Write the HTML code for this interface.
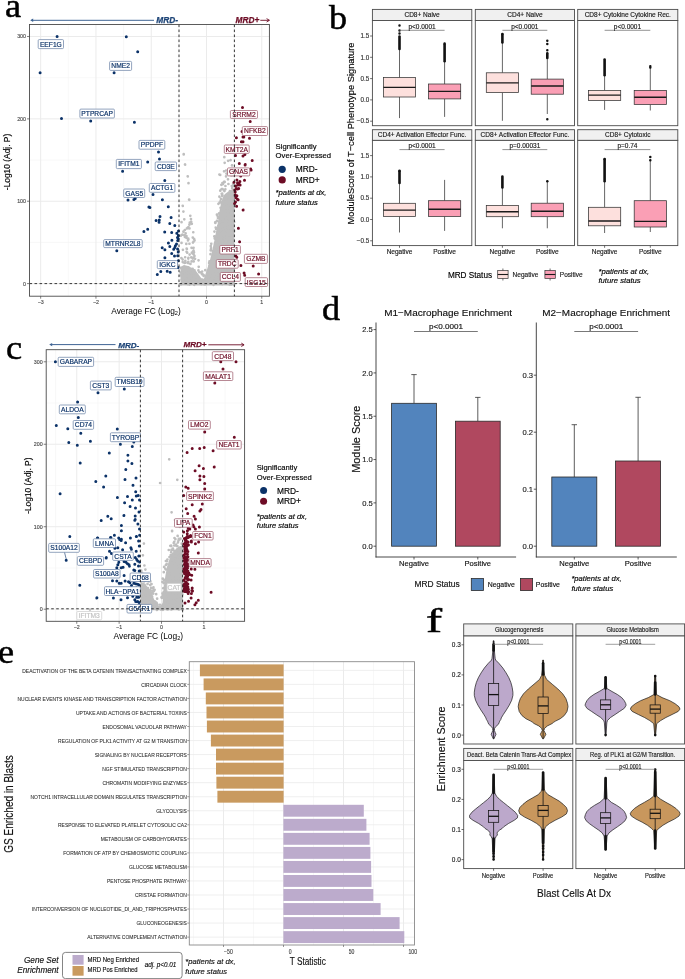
<!DOCTYPE html>
<html><head><meta charset="utf-8"><style>
html,body{margin:0;padding:0;background:#fff;}
body{width:685px;height:979px;overflow:hidden;}
svg{display:block;will-change:transform;font-family:"Liberation Sans", sans-serif;}
</style></head><body>
<svg width="685" height="979" viewBox="0 0 685 979">
<rect width="685" height="979" fill="#fff"/>
<rect x="29.5" y="24.5" width="239.9" height="271.7" fill="#fff" />
<line x1="68.3" y1="24.5" x2="68.3" y2="296.2" stroke="#f3f3f3" stroke-width="0.6" />
<line x1="123.58" y1="24.5" x2="123.58" y2="296.2" stroke="#f3f3f3" stroke-width="0.6" />
<line x1="178.86" y1="24.5" x2="178.86" y2="296.2" stroke="#f3f3f3" stroke-width="0.6" />
<line x1="234.14" y1="24.5" x2="234.14" y2="296.2" stroke="#f3f3f3" stroke-width="0.6" />
<line x1="29.5" y1="242.42" x2="269.4" y2="242.42" stroke="#f3f3f3" stroke-width="0.6" />
<line x1="29.5" y1="160.05" x2="269.4" y2="160.05" stroke="#f3f3f3" stroke-width="0.6" />
<line x1="29.5" y1="77.68" x2="269.4" y2="77.68" stroke="#f3f3f3" stroke-width="0.6" />
<line x1="40.66" y1="24.5" x2="40.66" y2="296.2" stroke="#ebebeb" stroke-width="1" />
<line x1="95.94" y1="24.5" x2="95.94" y2="296.2" stroke="#ebebeb" stroke-width="1" />
<line x1="151.22" y1="24.5" x2="151.22" y2="296.2" stroke="#ebebeb" stroke-width="1" />
<line x1="206.5" y1="24.5" x2="206.5" y2="296.2" stroke="#ebebeb" stroke-width="1" />
<line x1="261.78" y1="24.5" x2="261.78" y2="296.2" stroke="#ebebeb" stroke-width="1" />
<line x1="29.5" y1="283.6" x2="269.4" y2="283.6" stroke="#ebebeb" stroke-width="1" />
<line x1="29.5" y1="201.23" x2="269.4" y2="201.23" stroke="#ebebeb" stroke-width="1" />
<line x1="29.5" y1="118.86" x2="269.4" y2="118.86" stroke="#ebebeb" stroke-width="1" />
<line x1="29.5" y1="36.49" x2="269.4" y2="36.49" stroke="#ebebeb" stroke-width="1" />
<path fill="#bebebe" d="M180.5 285.5L180.5 267L184 265L188 266L192 268L196 271L199 275L201.5 278.5L203.5 280L205.5 274L207.5 268L209.5 262L211.5 254L213 247L214.5 240L216 232L217.5 225L218.5 218L219.5 211L221 204L222.5 198L225 194L229 191L234.4 189L234.4 285.5Z" />
<path fill="#bebebe" d="M217.08 203.81a1.35 1.35 0 1 0 2.7 0a1.35 1.35 0 1 0 -2.7 0M227.09 172.85a1.35 1.35 0 1 0 2.7 0a1.35 1.35 0 1 0 -2.7 0M220.23 278.31a1.35 1.35 0 1 0 2.7 0a1.35 1.35 0 1 0 -2.7 0M212.3 281.96a1.35 1.35 0 1 0 2.7 0a1.35 1.35 0 1 0 -2.7 0M228.18 194.07a1.35 1.35 0 1 0 2.7 0a1.35 1.35 0 1 0 -2.7 0M220.63 204.67a1.35 1.35 0 1 0 2.7 0a1.35 1.35 0 1 0 -2.7 0M218.79 215.01a1.35 1.35 0 1 0 2.7 0a1.35 1.35 0 1 0 -2.7 0M225.98 246.47a1.35 1.35 0 1 0 2.7 0a1.35 1.35 0 1 0 -2.7 0M224.7 176.45a1.35 1.35 0 1 0 2.7 0a1.35 1.35 0 1 0 -2.7 0M209.44 246a1.35 1.35 0 1 0 2.7 0a1.35 1.35 0 1 0 -2.7 0M231.15 217.68a1.35 1.35 0 1 0 2.7 0a1.35 1.35 0 1 0 -2.7 0M220.91 284.12a1.35 1.35 0 1 0 2.7 0a1.35 1.35 0 1 0 -2.7 0M225.08 173.56a1.35 1.35 0 1 0 2.7 0a1.35 1.35 0 1 0 -2.7 0M212.1 268.54a1.35 1.35 0 1 0 2.7 0a1.35 1.35 0 1 0 -2.7 0M226.83 267.59a1.35 1.35 0 1 0 2.7 0a1.35 1.35 0 1 0 -2.7 0M229.07 279.59a1.35 1.35 0 1 0 2.7 0a1.35 1.35 0 1 0 -2.7 0M218.92 190.63a1.35 1.35 0 1 0 2.7 0a1.35 1.35 0 1 0 -2.7 0M218.13 279a1.35 1.35 0 1 0 2.7 0a1.35 1.35 0 1 0 -2.7 0M216.38 236.05a1.35 1.35 0 1 0 2.7 0a1.35 1.35 0 1 0 -2.7 0M225.48 268.94a1.35 1.35 0 1 0 2.7 0a1.35 1.35 0 1 0 -2.7 0M227.85 284.12a1.35 1.35 0 1 0 2.7 0a1.35 1.35 0 1 0 -2.7 0M207.76 263.09a1.35 1.35 0 1 0 2.7 0a1.35 1.35 0 1 0 -2.7 0M216.82 282.25a1.35 1.35 0 1 0 2.7 0a1.35 1.35 0 1 0 -2.7 0M222.6 190.42a1.35 1.35 0 1 0 2.7 0a1.35 1.35 0 1 0 -2.7 0M216.97 256.72a1.35 1.35 0 1 0 2.7 0a1.35 1.35 0 1 0 -2.7 0M227.98 260.18a1.35 1.35 0 1 0 2.7 0a1.35 1.35 0 1 0 -2.7 0M224.1 186.02a1.35 1.35 0 1 0 2.7 0a1.35 1.35 0 1 0 -2.7 0M232.64 279.24a1.35 1.35 0 1 0 2.7 0a1.35 1.35 0 1 0 -2.7 0M220.12 272.24a1.35 1.35 0 1 0 2.7 0a1.35 1.35 0 1 0 -2.7 0M215.14 240.58a1.35 1.35 0 1 0 2.7 0a1.35 1.35 0 1 0 -2.7 0M229.95 257.13a1.35 1.35 0 1 0 2.7 0a1.35 1.35 0 1 0 -2.7 0M232.08 207.67a1.35 1.35 0 1 0 2.7 0a1.35 1.35 0 1 0 -2.7 0M231.22 249.77a1.35 1.35 0 1 0 2.7 0a1.35 1.35 0 1 0 -2.7 0M229.78 260.23a1.35 1.35 0 1 0 2.7 0a1.35 1.35 0 1 0 -2.7 0M227.08 282.48a1.35 1.35 0 1 0 2.7 0a1.35 1.35 0 1 0 -2.7 0M232.05 240.16a1.35 1.35 0 1 0 2.7 0a1.35 1.35 0 1 0 -2.7 0M227.07 184.01a1.35 1.35 0 1 0 2.7 0a1.35 1.35 0 1 0 -2.7 0M229.95 202.28a1.35 1.35 0 1 0 2.7 0a1.35 1.35 0 1 0 -2.7 0M218.72 272.75a1.35 1.35 0 1 0 2.7 0a1.35 1.35 0 1 0 -2.7 0M230.22 221.21a1.35 1.35 0 1 0 2.7 0a1.35 1.35 0 1 0 -2.7 0M223.6 228.23a1.35 1.35 0 1 0 2.7 0a1.35 1.35 0 1 0 -2.7 0M225.22 221.99a1.35 1.35 0 1 0 2.7 0a1.35 1.35 0 1 0 -2.7 0M224.79 273.8a1.35 1.35 0 1 0 2.7 0a1.35 1.35 0 1 0 -2.7 0M219.72 221.71a1.35 1.35 0 1 0 2.7 0a1.35 1.35 0 1 0 -2.7 0M222.48 214.9a1.35 1.35 0 1 0 2.7 0a1.35 1.35 0 1 0 -2.7 0M215.09 277.51a1.35 1.35 0 1 0 2.7 0a1.35 1.35 0 1 0 -2.7 0M228.8 277.6a1.35 1.35 0 1 0 2.7 0a1.35 1.35 0 1 0 -2.7 0M217.9 277.74a1.35 1.35 0 1 0 2.7 0a1.35 1.35 0 1 0 -2.7 0M232.7 263.55a1.35 1.35 0 1 0 2.7 0a1.35 1.35 0 1 0 -2.7 0M209.61 249.44a1.35 1.35 0 1 0 2.7 0a1.35 1.35 0 1 0 -2.7 0M217.71 213.38a1.35 1.35 0 1 0 2.7 0a1.35 1.35 0 1 0 -2.7 0M213.18 273.66a1.35 1.35 0 1 0 2.7 0a1.35 1.35 0 1 0 -2.7 0M230.27 230.04a1.35 1.35 0 1 0 2.7 0a1.35 1.35 0 1 0 -2.7 0M222.32 211.44a1.35 1.35 0 1 0 2.7 0a1.35 1.35 0 1 0 -2.7 0M217.68 275.61a1.35 1.35 0 1 0 2.7 0a1.35 1.35 0 1 0 -2.7 0M209.14 254.22a1.35 1.35 0 1 0 2.7 0a1.35 1.35 0 1 0 -2.7 0M223.87 227.53a1.35 1.35 0 1 0 2.7 0a1.35 1.35 0 1 0 -2.7 0M214.98 276.63a1.35 1.35 0 1 0 2.7 0a1.35 1.35 0 1 0 -2.7 0M226.82 212.32a1.35 1.35 0 1 0 2.7 0a1.35 1.35 0 1 0 -2.7 0M227.36 207.32a1.35 1.35 0 1 0 2.7 0a1.35 1.35 0 1 0 -2.7 0M222.31 282.75a1.35 1.35 0 1 0 2.7 0a1.35 1.35 0 1 0 -2.7 0M227.28 247.46a1.35 1.35 0 1 0 2.7 0a1.35 1.35 0 1 0 -2.7 0M228.6 242.83a1.35 1.35 0 1 0 2.7 0a1.35 1.35 0 1 0 -2.7 0M231.74 281.5a1.35 1.35 0 1 0 2.7 0a1.35 1.35 0 1 0 -2.7 0M207.06 280.61a1.35 1.35 0 1 0 2.7 0a1.35 1.35 0 1 0 -2.7 0M216.85 253.07a1.35 1.35 0 1 0 2.7 0a1.35 1.35 0 1 0 -2.7 0M223.28 269.52a1.35 1.35 0 1 0 2.7 0a1.35 1.35 0 1 0 -2.7 0M209.87 283.05a1.35 1.35 0 1 0 2.7 0a1.35 1.35 0 1 0 -2.7 0M223.56 239.33a1.35 1.35 0 1 0 2.7 0a1.35 1.35 0 1 0 -2.7 0M227.38 271.17a1.35 1.35 0 1 0 2.7 0a1.35 1.35 0 1 0 -2.7 0M223.89 260.96a1.35 1.35 0 1 0 2.7 0a1.35 1.35 0 1 0 -2.7 0M226.33 262.78a1.35 1.35 0 1 0 2.7 0a1.35 1.35 0 1 0 -2.7 0M229.36 244.41a1.35 1.35 0 1 0 2.7 0a1.35 1.35 0 1 0 -2.7 0M217.86 237.35a1.35 1.35 0 1 0 2.7 0a1.35 1.35 0 1 0 -2.7 0M222.06 219.63a1.35 1.35 0 1 0 2.7 0a1.35 1.35 0 1 0 -2.7 0M226.09 252.78a1.35 1.35 0 1 0 2.7 0a1.35 1.35 0 1 0 -2.7 0M217.06 241.39a1.35 1.35 0 1 0 2.7 0a1.35 1.35 0 1 0 -2.7 0M224 189.28a1.35 1.35 0 1 0 2.7 0a1.35 1.35 0 1 0 -2.7 0M232.22 220.23a1.35 1.35 0 1 0 2.7 0a1.35 1.35 0 1 0 -2.7 0M215.13 244.51a1.35 1.35 0 1 0 2.7 0a1.35 1.35 0 1 0 -2.7 0M219.87 239.27a1.35 1.35 0 1 0 2.7 0a1.35 1.35 0 1 0 -2.7 0M224.22 195.97a1.35 1.35 0 1 0 2.7 0a1.35 1.35 0 1 0 -2.7 0M222.46 243.49a1.35 1.35 0 1 0 2.7 0a1.35 1.35 0 1 0 -2.7 0M216.42 216.48a1.35 1.35 0 1 0 2.7 0a1.35 1.35 0 1 0 -2.7 0M205.5 282.2a1.35 1.35 0 1 0 2.7 0a1.35 1.35 0 1 0 -2.7 0M226.85 280.92a1.35 1.35 0 1 0 2.7 0a1.35 1.35 0 1 0 -2.7 0M216.15 270.52a1.35 1.35 0 1 0 2.7 0a1.35 1.35 0 1 0 -2.7 0M206.61 271.91a1.35 1.35 0 1 0 2.7 0a1.35 1.35 0 1 0 -2.7 0M215.56 214.7a1.35 1.35 0 1 0 2.7 0a1.35 1.35 0 1 0 -2.7 0M209.52 264.55a1.35 1.35 0 1 0 2.7 0a1.35 1.35 0 1 0 -2.7 0M224.48 264.41a1.35 1.35 0 1 0 2.7 0a1.35 1.35 0 1 0 -2.7 0M212.17 284.85a1.35 1.35 0 1 0 2.7 0a1.35 1.35 0 1 0 -2.7 0M208.48 276.76a1.35 1.35 0 1 0 2.7 0a1.35 1.35 0 1 0 -2.7 0M231.54 270.19a1.35 1.35 0 1 0 2.7 0a1.35 1.35 0 1 0 -2.7 0M220.35 273.92a1.35 1.35 0 1 0 2.7 0a1.35 1.35 0 1 0 -2.7 0M217.54 249.11a1.35 1.35 0 1 0 2.7 0a1.35 1.35 0 1 0 -2.7 0M220.82 193.63a1.35 1.35 0 1 0 2.7 0a1.35 1.35 0 1 0 -2.7 0M230.53 173.3a1.35 1.35 0 1 0 2.7 0a1.35 1.35 0 1 0 -2.7 0M224.07 281.97a1.35 1.35 0 1 0 2.7 0a1.35 1.35 0 1 0 -2.7 0M221.22 195.51a1.35 1.35 0 1 0 2.7 0a1.35 1.35 0 1 0 -2.7 0M229.82 220.63a1.35 1.35 0 1 0 2.7 0a1.35 1.35 0 1 0 -2.7 0M229.83 284.55a1.35 1.35 0 1 0 2.7 0a1.35 1.35 0 1 0 -2.7 0M229.17 252.96a1.35 1.35 0 1 0 2.7 0a1.35 1.35 0 1 0 -2.7 0M231.94 173.11a1.35 1.35 0 1 0 2.7 0a1.35 1.35 0 1 0 -2.7 0M220.31 267.45a1.35 1.35 0 1 0 2.7 0a1.35 1.35 0 1 0 -2.7 0M231.47 265.63a1.35 1.35 0 1 0 2.7 0a1.35 1.35 0 1 0 -2.7 0M223.06 271.65a1.35 1.35 0 1 0 2.7 0a1.35 1.35 0 1 0 -2.7 0M212.12 275.63a1.35 1.35 0 1 0 2.7 0a1.35 1.35 0 1 0 -2.7 0M228.08 281.45a1.35 1.35 0 1 0 2.7 0a1.35 1.35 0 1 0 -2.7 0M223.48 239.86a1.35 1.35 0 1 0 2.7 0a1.35 1.35 0 1 0 -2.7 0M214.38 227.59a1.35 1.35 0 1 0 2.7 0a1.35 1.35 0 1 0 -2.7 0M220.86 195.88a1.35 1.35 0 1 0 2.7 0a1.35 1.35 0 1 0 -2.7 0M222.68 171.35a1.35 1.35 0 1 0 2.7 0a1.35 1.35 0 1 0 -2.7 0M216.69 231.61a1.35 1.35 0 1 0 2.7 0a1.35 1.35 0 1 0 -2.7 0M214.5 279.74a1.35 1.35 0 1 0 2.7 0a1.35 1.35 0 1 0 -2.7 0M229.05 217.84a1.35 1.35 0 1 0 2.7 0a1.35 1.35 0 1 0 -2.7 0M207.15 279.96a1.35 1.35 0 1 0 2.7 0a1.35 1.35 0 1 0 -2.7 0M215.79 243.33a1.35 1.35 0 1 0 2.7 0a1.35 1.35 0 1 0 -2.7 0M230.48 186.03a1.35 1.35 0 1 0 2.7 0a1.35 1.35 0 1 0 -2.7 0M224.08 221.62a1.35 1.35 0 1 0 2.7 0a1.35 1.35 0 1 0 -2.7 0M221.54 278.44a1.35 1.35 0 1 0 2.7 0a1.35 1.35 0 1 0 -2.7 0M232.16 175.16a1.35 1.35 0 1 0 2.7 0a1.35 1.35 0 1 0 -2.7 0M229.55 270.1a1.35 1.35 0 1 0 2.7 0a1.35 1.35 0 1 0 -2.7 0M232.97 276.24a1.35 1.35 0 1 0 2.7 0a1.35 1.35 0 1 0 -2.7 0M205.03 276.79a1.35 1.35 0 1 0 2.7 0a1.35 1.35 0 1 0 -2.7 0M210.74 279.31a1.35 1.35 0 1 0 2.7 0a1.35 1.35 0 1 0 -2.7 0M231.82 183.55a1.35 1.35 0 1 0 2.7 0a1.35 1.35 0 1 0 -2.7 0M226.91 262.22a1.35 1.35 0 1 0 2.7 0a1.35 1.35 0 1 0 -2.7 0M211.47 274.7a1.35 1.35 0 1 0 2.7 0a1.35 1.35 0 1 0 -2.7 0M211.18 271.82a1.35 1.35 0 1 0 2.7 0a1.35 1.35 0 1 0 -2.7 0M212.78 260.91a1.35 1.35 0 1 0 2.7 0a1.35 1.35 0 1 0 -2.7 0M229.56 200.4a1.35 1.35 0 1 0 2.7 0a1.35 1.35 0 1 0 -2.7 0M231.59 235.97a1.35 1.35 0 1 0 2.7 0a1.35 1.35 0 1 0 -2.7 0M223.3 197.51a1.35 1.35 0 1 0 2.7 0a1.35 1.35 0 1 0 -2.7 0M215 279.47a1.35 1.35 0 1 0 2.7 0a1.35 1.35 0 1 0 -2.7 0M224.05 262.31a1.35 1.35 0 1 0 2.7 0a1.35 1.35 0 1 0 -2.7 0M219.54 198.96a1.35 1.35 0 1 0 2.7 0a1.35 1.35 0 1 0 -2.7 0M211.1 257.13a1.35 1.35 0 1 0 2.7 0a1.35 1.35 0 1 0 -2.7 0M209.86 282.47a1.35 1.35 0 1 0 2.7 0a1.35 1.35 0 1 0 -2.7 0M232.63 190.91a1.35 1.35 0 1 0 2.7 0a1.35 1.35 0 1 0 -2.7 0M223.07 214.21a1.35 1.35 0 1 0 2.7 0a1.35 1.35 0 1 0 -2.7 0M212.99 236.4a1.35 1.35 0 1 0 2.7 0a1.35 1.35 0 1 0 -2.7 0M224.38 265.41a1.35 1.35 0 1 0 2.7 0a1.35 1.35 0 1 0 -2.7 0M211.48 251.47a1.35 1.35 0 1 0 2.7 0a1.35 1.35 0 1 0 -2.7 0M203.92 270.17a1.35 1.35 0 1 0 2.7 0a1.35 1.35 0 1 0 -2.7 0M232.79 221.94a1.35 1.35 0 1 0 2.7 0a1.35 1.35 0 1 0 -2.7 0M211.45 267.86a1.35 1.35 0 1 0 2.7 0a1.35 1.35 0 1 0 -2.7 0M219.98 184.86a1.35 1.35 0 1 0 2.7 0a1.35 1.35 0 1 0 -2.7 0M221.07 183.04a1.35 1.35 0 1 0 2.7 0a1.35 1.35 0 1 0 -2.7 0M209.91 243.82a1.35 1.35 0 1 0 2.7 0a1.35 1.35 0 1 0 -2.7 0M226.01 227.15a1.35 1.35 0 1 0 2.7 0a1.35 1.35 0 1 0 -2.7 0M217.57 238.82a1.35 1.35 0 1 0 2.7 0a1.35 1.35 0 1 0 -2.7 0M209.23 279.01a1.35 1.35 0 1 0 2.7 0a1.35 1.35 0 1 0 -2.7 0M218.14 202.72a1.35 1.35 0 1 0 2.7 0a1.35 1.35 0 1 0 -2.7 0M228.38 284.57a1.35 1.35 0 1 0 2.7 0a1.35 1.35 0 1 0 -2.7 0M212.62 270a1.35 1.35 0 1 0 2.7 0a1.35 1.35 0 1 0 -2.7 0M216.58 275.46a1.35 1.35 0 1 0 2.7 0a1.35 1.35 0 1 0 -2.7 0M231.09 281.87a1.35 1.35 0 1 0 2.7 0a1.35 1.35 0 1 0 -2.7 0M211.99 272.74a1.35 1.35 0 1 0 2.7 0a1.35 1.35 0 1 0 -2.7 0M227.76 263.14a1.35 1.35 0 1 0 2.7 0a1.35 1.35 0 1 0 -2.7 0M223.59 271.85a1.35 1.35 0 1 0 2.7 0a1.35 1.35 0 1 0 -2.7 0M217.99 253.96a1.35 1.35 0 1 0 2.7 0a1.35 1.35 0 1 0 -2.7 0M217.57 237.26a1.35 1.35 0 1 0 2.7 0a1.35 1.35 0 1 0 -2.7 0M213.1 231.58a1.35 1.35 0 1 0 2.7 0a1.35 1.35 0 1 0 -2.7 0M221.31 214.19a1.35 1.35 0 1 0 2.7 0a1.35 1.35 0 1 0 -2.7 0M224.92 256.84a1.35 1.35 0 1 0 2.7 0a1.35 1.35 0 1 0 -2.7 0M213.85 222.3a1.35 1.35 0 1 0 2.7 0a1.35 1.35 0 1 0 -2.7 0M223.88 256.54a1.35 1.35 0 1 0 2.7 0a1.35 1.35 0 1 0 -2.7 0M211.65 278.71a1.35 1.35 0 1 0 2.7 0a1.35 1.35 0 1 0 -2.7 0M228.13 284.5a1.35 1.35 0 1 0 2.7 0a1.35 1.35 0 1 0 -2.7 0M215.57 279.45a1.35 1.35 0 1 0 2.7 0a1.35 1.35 0 1 0 -2.7 0M230.66 165.39a1.35 1.35 0 1 0 2.7 0a1.35 1.35 0 1 0 -2.7 0M208.11 261.4a1.35 1.35 0 1 0 2.7 0a1.35 1.35 0 1 0 -2.7 0M215.93 274.75a1.35 1.35 0 1 0 2.7 0a1.35 1.35 0 1 0 -2.7 0M202.25 284.1a1.35 1.35 0 1 0 2.7 0a1.35 1.35 0 1 0 -2.7 0M212.21 259.1a1.35 1.35 0 1 0 2.7 0a1.35 1.35 0 1 0 -2.7 0M232.72 230.9a1.35 1.35 0 1 0 2.7 0a1.35 1.35 0 1 0 -2.7 0M224.95 213.61a1.35 1.35 0 1 0 2.7 0a1.35 1.35 0 1 0 -2.7 0M232.5 231.99a1.35 1.35 0 1 0 2.7 0a1.35 1.35 0 1 0 -2.7 0M219.84 212.33a1.35 1.35 0 1 0 2.7 0a1.35 1.35 0 1 0 -2.7 0M229.46 173.9a1.35 1.35 0 1 0 2.7 0a1.35 1.35 0 1 0 -2.7 0M220.11 217.79a1.35 1.35 0 1 0 2.7 0a1.35 1.35 0 1 0 -2.7 0M230.87 188.18a1.35 1.35 0 1 0 2.7 0a1.35 1.35 0 1 0 -2.7 0M228.62 257.12a1.35 1.35 0 1 0 2.7 0a1.35 1.35 0 1 0 -2.7 0M220.84 228.98a1.35 1.35 0 1 0 2.7 0a1.35 1.35 0 1 0 -2.7 0M231.02 175.21a1.35 1.35 0 1 0 2.7 0a1.35 1.35 0 1 0 -2.7 0M219.57 221.89a1.35 1.35 0 1 0 2.7 0a1.35 1.35 0 1 0 -2.7 0M226.63 179.35a1.35 1.35 0 1 0 2.7 0a1.35 1.35 0 1 0 -2.7 0M229.24 257.22a1.35 1.35 0 1 0 2.7 0a1.35 1.35 0 1 0 -2.7 0M223.13 191.05a1.35 1.35 0 1 0 2.7 0a1.35 1.35 0 1 0 -2.7 0M213.65 257.92a1.35 1.35 0 1 0 2.7 0a1.35 1.35 0 1 0 -2.7 0M231.15 252.51a1.35 1.35 0 1 0 2.7 0a1.35 1.35 0 1 0 -2.7 0M228.93 199.05a1.35 1.35 0 1 0 2.7 0a1.35 1.35 0 1 0 -2.7 0M229.87 237.73a1.35 1.35 0 1 0 2.7 0a1.35 1.35 0 1 0 -2.7 0M221.53 282.31a1.35 1.35 0 1 0 2.7 0a1.35 1.35 0 1 0 -2.7 0M213.69 249.75a1.35 1.35 0 1 0 2.7 0a1.35 1.35 0 1 0 -2.7 0M229.98 175.51a1.35 1.35 0 1 0 2.7 0a1.35 1.35 0 1 0 -2.7 0M202.32 275.91a1.35 1.35 0 1 0 2.7 0a1.35 1.35 0 1 0 -2.7 0M220.46 246.22a1.35 1.35 0 1 0 2.7 0a1.35 1.35 0 1 0 -2.7 0M211.15 261.65a1.35 1.35 0 1 0 2.7 0a1.35 1.35 0 1 0 -2.7 0M230.11 277.87a1.35 1.35 0 1 0 2.7 0a1.35 1.35 0 1 0 -2.7 0M220.37 193.78a1.35 1.35 0 1 0 2.7 0a1.35 1.35 0 1 0 -2.7 0M223.27 204.11a1.35 1.35 0 1 0 2.7 0a1.35 1.35 0 1 0 -2.7 0M215.56 258.99a1.35 1.35 0 1 0 2.7 0a1.35 1.35 0 1 0 -2.7 0M222.71 220.78a1.35 1.35 0 1 0 2.7 0a1.35 1.35 0 1 0 -2.7 0M225.75 246.24a1.35 1.35 0 1 0 2.7 0a1.35 1.35 0 1 0 -2.7 0M220.25 202.52a1.35 1.35 0 1 0 2.7 0a1.35 1.35 0 1 0 -2.7 0M212.22 270.97a1.35 1.35 0 1 0 2.7 0a1.35 1.35 0 1 0 -2.7 0M229.21 160.22a1.35 1.35 0 1 0 2.7 0a1.35 1.35 0 1 0 -2.7 0M207.7 272.36a1.35 1.35 0 1 0 2.7 0a1.35 1.35 0 1 0 -2.7 0M211.7 270.15a1.35 1.35 0 1 0 2.7 0a1.35 1.35 0 1 0 -2.7 0M224.55 239.73a1.35 1.35 0 1 0 2.7 0a1.35 1.35 0 1 0 -2.7 0M227.65 241.75a1.35 1.35 0 1 0 2.7 0a1.35 1.35 0 1 0 -2.7 0M225.26 231.13a1.35 1.35 0 1 0 2.7 0a1.35 1.35 0 1 0 -2.7 0M214.54 270.3a1.35 1.35 0 1 0 2.7 0a1.35 1.35 0 1 0 -2.7 0M222.84 264.99a1.35 1.35 0 1 0 2.7 0a1.35 1.35 0 1 0 -2.7 0M205.16 281.82a1.35 1.35 0 1 0 2.7 0a1.35 1.35 0 1 0 -2.7 0M202.15 280.19a1.35 1.35 0 1 0 2.7 0a1.35 1.35 0 1 0 -2.7 0M211.87 282.93a1.35 1.35 0 1 0 2.7 0a1.35 1.35 0 1 0 -2.7 0M223.88 212.67a1.35 1.35 0 1 0 2.7 0a1.35 1.35 0 1 0 -2.7 0M225.86 245.76a1.35 1.35 0 1 0 2.7 0a1.35 1.35 0 1 0 -2.7 0M220.4 216.3a1.35 1.35 0 1 0 2.7 0a1.35 1.35 0 1 0 -2.7 0M229.89 212.04a1.35 1.35 0 1 0 2.7 0a1.35 1.35 0 1 0 -2.7 0M224.42 210.91a1.35 1.35 0 1 0 2.7 0a1.35 1.35 0 1 0 -2.7 0M223.49 269.65a1.35 1.35 0 1 0 2.7 0a1.35 1.35 0 1 0 -2.7 0M222.73 266.11a1.35 1.35 0 1 0 2.7 0a1.35 1.35 0 1 0 -2.7 0M220.72 215.1a1.35 1.35 0 1 0 2.7 0a1.35 1.35 0 1 0 -2.7 0M213.08 257.14a1.35 1.35 0 1 0 2.7 0a1.35 1.35 0 1 0 -2.7 0M220.31 189.01a1.35 1.35 0 1 0 2.7 0a1.35 1.35 0 1 0 -2.7 0M214.31 236.56a1.35 1.35 0 1 0 2.7 0a1.35 1.35 0 1 0 -2.7 0M221.88 276.07a1.35 1.35 0 1 0 2.7 0a1.35 1.35 0 1 0 -2.7 0M221.16 256.61a1.35 1.35 0 1 0 2.7 0a1.35 1.35 0 1 0 -2.7 0M215.5 281.75a1.35 1.35 0 1 0 2.7 0a1.35 1.35 0 1 0 -2.7 0M225.54 277.4a1.35 1.35 0 1 0 2.7 0a1.35 1.35 0 1 0 -2.7 0M217.26 248.81a1.35 1.35 0 1 0 2.7 0a1.35 1.35 0 1 0 -2.7 0M220.64 263.11a1.35 1.35 0 1 0 2.7 0a1.35 1.35 0 1 0 -2.7 0M212.77 278.34a1.35 1.35 0 1 0 2.7 0a1.35 1.35 0 1 0 -2.7 0M202.86 283.01a1.35 1.35 0 1 0 2.7 0a1.35 1.35 0 1 0 -2.7 0M222.67 202.07a1.35 1.35 0 1 0 2.7 0a1.35 1.35 0 1 0 -2.7 0M230.98 224.47a1.35 1.35 0 1 0 2.7 0a1.35 1.35 0 1 0 -2.7 0M226.22 207.17a1.35 1.35 0 1 0 2.7 0a1.35 1.35 0 1 0 -2.7 0M226.5 238.19a1.35 1.35 0 1 0 2.7 0a1.35 1.35 0 1 0 -2.7 0M231.81 202.2a1.35 1.35 0 1 0 2.7 0a1.35 1.35 0 1 0 -2.7 0M226.81 261.47a1.35 1.35 0 1 0 2.7 0a1.35 1.35 0 1 0 -2.7 0M210.85 265.89a1.35 1.35 0 1 0 2.7 0a1.35 1.35 0 1 0 -2.7 0M213.39 238.57a1.35 1.35 0 1 0 2.7 0a1.35 1.35 0 1 0 -2.7 0M211.12 275.88a1.35 1.35 0 1 0 2.7 0a1.35 1.35 0 1 0 -2.7 0M229.81 257.36a1.35 1.35 0 1 0 2.7 0a1.35 1.35 0 1 0 -2.7 0M227.25 238.04a1.35 1.35 0 1 0 2.7 0a1.35 1.35 0 1 0 -2.7 0M221.21 189a1.35 1.35 0 1 0 2.7 0a1.35 1.35 0 1 0 -2.7 0M225.35 201.34a1.35 1.35 0 1 0 2.7 0a1.35 1.35 0 1 0 -2.7 0M229.75 258.33a1.35 1.35 0 1 0 2.7 0a1.35 1.35 0 1 0 -2.7 0M229.31 234.87a1.35 1.35 0 1 0 2.7 0a1.35 1.35 0 1 0 -2.7 0M221.64 271.42a1.35 1.35 0 1 0 2.7 0a1.35 1.35 0 1 0 -2.7 0M216.91 251.96a1.35 1.35 0 1 0 2.7 0a1.35 1.35 0 1 0 -2.7 0M229.01 228.05a1.35 1.35 0 1 0 2.7 0a1.35 1.35 0 1 0 -2.7 0M215.55 220.77a1.35 1.35 0 1 0 2.7 0a1.35 1.35 0 1 0 -2.7 0M214.75 229.01a1.35 1.35 0 1 0 2.7 0a1.35 1.35 0 1 0 -2.7 0M227.57 204.99a1.35 1.35 0 1 0 2.7 0a1.35 1.35 0 1 0 -2.7 0M210.02 282.66a1.35 1.35 0 1 0 2.7 0a1.35 1.35 0 1 0 -2.7 0M215.32 271.89a1.35 1.35 0 1 0 2.7 0a1.35 1.35 0 1 0 -2.7 0M223.36 237.04a1.35 1.35 0 1 0 2.7 0a1.35 1.35 0 1 0 -2.7 0M228.29 203.87a1.35 1.35 0 1 0 2.7 0a1.35 1.35 0 1 0 -2.7 0M216.73 255.63a1.35 1.35 0 1 0 2.7 0a1.35 1.35 0 1 0 -2.7 0M217.71 262.82a1.35 1.35 0 1 0 2.7 0a1.35 1.35 0 1 0 -2.7 0M227.12 208.68a1.35 1.35 0 1 0 2.7 0a1.35 1.35 0 1 0 -2.7 0M232.19 240.78a1.35 1.35 0 1 0 2.7 0a1.35 1.35 0 1 0 -2.7 0M220.49 257.38a1.35 1.35 0 1 0 2.7 0a1.35 1.35 0 1 0 -2.7 0M223.51 270.36a1.35 1.35 0 1 0 2.7 0a1.35 1.35 0 1 0 -2.7 0M230.35 234.91a1.35 1.35 0 1 0 2.7 0a1.35 1.35 0 1 0 -2.7 0M225.79 273.46a1.35 1.35 0 1 0 2.7 0a1.35 1.35 0 1 0 -2.7 0M219.86 237.23a1.35 1.35 0 1 0 2.7 0a1.35 1.35 0 1 0 -2.7 0M219.16 244.17a1.35 1.35 0 1 0 2.7 0a1.35 1.35 0 1 0 -2.7 0M230.09 240.93a1.35 1.35 0 1 0 2.7 0a1.35 1.35 0 1 0 -2.7 0M226.95 257.68a1.35 1.35 0 1 0 2.7 0a1.35 1.35 0 1 0 -2.7 0M232.39 217.86a1.35 1.35 0 1 0 2.7 0a1.35 1.35 0 1 0 -2.7 0M207.39 280.43a1.35 1.35 0 1 0 2.7 0a1.35 1.35 0 1 0 -2.7 0M221.03 261.62a1.35 1.35 0 1 0 2.7 0a1.35 1.35 0 1 0 -2.7 0M209.35 250.37a1.35 1.35 0 1 0 2.7 0a1.35 1.35 0 1 0 -2.7 0M228.27 219.25a1.35 1.35 0 1 0 2.7 0a1.35 1.35 0 1 0 -2.7 0M213.74 243.64a1.35 1.35 0 1 0 2.7 0a1.35 1.35 0 1 0 -2.7 0M226.08 203.5a1.35 1.35 0 1 0 2.7 0a1.35 1.35 0 1 0 -2.7 0M220.31 210.5a1.35 1.35 0 1 0 2.7 0a1.35 1.35 0 1 0 -2.7 0M225.7 277.95a1.35 1.35 0 1 0 2.7 0a1.35 1.35 0 1 0 -2.7 0M200.74 281.67a1.35 1.35 0 1 0 2.7 0a1.35 1.35 0 1 0 -2.7 0M227.11 199.5a1.35 1.35 0 1 0 2.7 0a1.35 1.35 0 1 0 -2.7 0M232.27 263.4a1.35 1.35 0 1 0 2.7 0a1.35 1.35 0 1 0 -2.7 0M219.35 271.7a1.35 1.35 0 1 0 2.7 0a1.35 1.35 0 1 0 -2.7 0M218.83 261.45a1.35 1.35 0 1 0 2.7 0a1.35 1.35 0 1 0 -2.7 0M226.57 268a1.35 1.35 0 1 0 2.7 0a1.35 1.35 0 1 0 -2.7 0M208.07 265.95a1.35 1.35 0 1 0 2.7 0a1.35 1.35 0 1 0 -2.7 0M222.2 273.96a1.35 1.35 0 1 0 2.7 0a1.35 1.35 0 1 0 -2.7 0M221.96 216.56a1.35 1.35 0 1 0 2.7 0a1.35 1.35 0 1 0 -2.7 0M225.88 215.84a1.35 1.35 0 1 0 2.7 0a1.35 1.35 0 1 0 -2.7 0M226.4 255.84a1.35 1.35 0 1 0 2.7 0a1.35 1.35 0 1 0 -2.7 0M218.59 271.81a1.35 1.35 0 1 0 2.7 0a1.35 1.35 0 1 0 -2.7 0M216.6 218a1.35 1.35 0 1 0 2.7 0a1.35 1.35 0 1 0 -2.7 0M232.95 204.88a1.35 1.35 0 1 0 2.7 0a1.35 1.35 0 1 0 -2.7 0M220.42 257.78a1.35 1.35 0 1 0 2.7 0a1.35 1.35 0 1 0 -2.7 0M219.19 201.15a1.35 1.35 0 1 0 2.7 0a1.35 1.35 0 1 0 -2.7 0M232.72 267.86a1.35 1.35 0 1 0 2.7 0a1.35 1.35 0 1 0 -2.7 0M217.82 268.45a1.35 1.35 0 1 0 2.7 0a1.35 1.35 0 1 0 -2.7 0M231.23 273.47a1.35 1.35 0 1 0 2.7 0a1.35 1.35 0 1 0 -2.7 0M219.22 207.87a1.35 1.35 0 1 0 2.7 0a1.35 1.35 0 1 0 -2.7 0M231.65 189.92a1.35 1.35 0 1 0 2.7 0a1.35 1.35 0 1 0 -2.7 0M220.69 279.42a1.35 1.35 0 1 0 2.7 0a1.35 1.35 0 1 0 -2.7 0M229.7 272.79a1.35 1.35 0 1 0 2.7 0a1.35 1.35 0 1 0 -2.7 0M224.62 277.24a1.35 1.35 0 1 0 2.7 0a1.35 1.35 0 1 0 -2.7 0M224.72 170.49a1.35 1.35 0 1 0 2.7 0a1.35 1.35 0 1 0 -2.7 0M223.32 181.97a1.35 1.35 0 1 0 2.7 0a1.35 1.35 0 1 0 -2.7 0M228.47 270.75a1.35 1.35 0 1 0 2.7 0a1.35 1.35 0 1 0 -2.7 0M230.6 264.81a1.35 1.35 0 1 0 2.7 0a1.35 1.35 0 1 0 -2.7 0M226.96 218.12a1.35 1.35 0 1 0 2.7 0a1.35 1.35 0 1 0 -2.7 0M228.6 191.1a1.35 1.35 0 1 0 2.7 0a1.35 1.35 0 1 0 -2.7 0M227.53 199.82a1.35 1.35 0 1 0 2.7 0a1.35 1.35 0 1 0 -2.7 0M221.64 184.03a1.35 1.35 0 1 0 2.7 0a1.35 1.35 0 1 0 -2.7 0M232.74 284.75a1.35 1.35 0 1 0 2.7 0a1.35 1.35 0 1 0 -2.7 0M208.75 282.26a1.35 1.35 0 1 0 2.7 0a1.35 1.35 0 1 0 -2.7 0M226.41 200.64a1.35 1.35 0 1 0 2.7 0a1.35 1.35 0 1 0 -2.7 0M213.62 273.73a1.35 1.35 0 1 0 2.7 0a1.35 1.35 0 1 0 -2.7 0M223.13 182.18a1.35 1.35 0 1 0 2.7 0a1.35 1.35 0 1 0 -2.7 0M223 260.88a1.35 1.35 0 1 0 2.7 0a1.35 1.35 0 1 0 -2.7 0M210.18 264.76a1.35 1.35 0 1 0 2.7 0a1.35 1.35 0 1 0 -2.7 0M227.26 203.99a1.35 1.35 0 1 0 2.7 0a1.35 1.35 0 1 0 -2.7 0M213.98 223a1.35 1.35 0 1 0 2.7 0a1.35 1.35 0 1 0 -2.7 0M223.23 261.52a1.35 1.35 0 1 0 2.7 0a1.35 1.35 0 1 0 -2.7 0M209.69 248.03a1.35 1.35 0 1 0 2.7 0a1.35 1.35 0 1 0 -2.7 0M231.47 220.33a1.35 1.35 0 1 0 2.7 0a1.35 1.35 0 1 0 -2.7 0M216.9 225.78a1.35 1.35 0 1 0 2.7 0a1.35 1.35 0 1 0 -2.7 0M231.93 185.63a1.35 1.35 0 1 0 2.7 0a1.35 1.35 0 1 0 -2.7 0M226.76 160.85a1.35 1.35 0 1 0 2.7 0a1.35 1.35 0 1 0 -2.7 0M222.69 181.97a1.35 1.35 0 1 0 2.7 0a1.35 1.35 0 1 0 -2.7 0M219.27 230.79a1.35 1.35 0 1 0 2.7 0a1.35 1.35 0 1 0 -2.7 0M223.32 162.78a1.35 1.35 0 1 0 2.7 0a1.35 1.35 0 1 0 -2.7 0M215.63 221.1a1.35 1.35 0 1 0 2.7 0a1.35 1.35 0 1 0 -2.7 0M230.9 206.76a1.35 1.35 0 1 0 2.7 0a1.35 1.35 0 1 0 -2.7 0M227.54 224.28a1.35 1.35 0 1 0 2.7 0a1.35 1.35 0 1 0 -2.7 0M231.03 256.44a1.35 1.35 0 1 0 2.7 0a1.35 1.35 0 1 0 -2.7 0M213.63 282.6a1.35 1.35 0 1 0 2.7 0a1.35 1.35 0 1 0 -2.7 0M230.05 261.33a1.35 1.35 0 1 0 2.7 0a1.35 1.35 0 1 0 -2.7 0M189.91 257.45a1.35 1.35 0 1 0 2.7 0a1.35 1.35 0 1 0 -2.7 0M190.19 247.86a1.35 1.35 0 1 0 2.7 0a1.35 1.35 0 1 0 -2.7 0M182.7 282.73a1.35 1.35 0 1 0 2.7 0a1.35 1.35 0 1 0 -2.7 0M180.03 258.12a1.35 1.35 0 1 0 2.7 0a1.35 1.35 0 1 0 -2.7 0M192.98 279.33a1.35 1.35 0 1 0 2.7 0a1.35 1.35 0 1 0 -2.7 0M185.54 249.02a1.35 1.35 0 1 0 2.7 0a1.35 1.35 0 1 0 -2.7 0M186.94 258.56a1.35 1.35 0 1 0 2.7 0a1.35 1.35 0 1 0 -2.7 0M194.3 281.71a1.35 1.35 0 1 0 2.7 0a1.35 1.35 0 1 0 -2.7 0M182.93 219.29a1.35 1.35 0 1 0 2.7 0a1.35 1.35 0 1 0 -2.7 0M186.64 240.49a1.35 1.35 0 1 0 2.7 0a1.35 1.35 0 1 0 -2.7 0M193.69 258.78a1.35 1.35 0 1 0 2.7 0a1.35 1.35 0 1 0 -2.7 0M193.12 255.96a1.35 1.35 0 1 0 2.7 0a1.35 1.35 0 1 0 -2.7 0M187.07 228.17a1.35 1.35 0 1 0 2.7 0a1.35 1.35 0 1 0 -2.7 0M185.23 251.75a1.35 1.35 0 1 0 2.7 0a1.35 1.35 0 1 0 -2.7 0M186.41 284.06a1.35 1.35 0 1 0 2.7 0a1.35 1.35 0 1 0 -2.7 0M180.85 275.35a1.35 1.35 0 1 0 2.7 0a1.35 1.35 0 1 0 -2.7 0M184.89 281.95a1.35 1.35 0 1 0 2.7 0a1.35 1.35 0 1 0 -2.7 0M183.09 235.28a1.35 1.35 0 1 0 2.7 0a1.35 1.35 0 1 0 -2.7 0M200.82 271.59a1.35 1.35 0 1 0 2.7 0a1.35 1.35 0 1 0 -2.7 0M191.27 268.87a1.35 1.35 0 1 0 2.7 0a1.35 1.35 0 1 0 -2.7 0M191.85 282.21a1.35 1.35 0 1 0 2.7 0a1.35 1.35 0 1 0 -2.7 0M190.47 223.82a1.35 1.35 0 1 0 2.7 0a1.35 1.35 0 1 0 -2.7 0M181.39 279.01a1.35 1.35 0 1 0 2.7 0a1.35 1.35 0 1 0 -2.7 0M191.83 279.02a1.35 1.35 0 1 0 2.7 0a1.35 1.35 0 1 0 -2.7 0M192.88 284.87a1.35 1.35 0 1 0 2.7 0a1.35 1.35 0 1 0 -2.7 0M192.34 261.39a1.35 1.35 0 1 0 2.7 0a1.35 1.35 0 1 0 -2.7 0M188.27 254.6a1.35 1.35 0 1 0 2.7 0a1.35 1.35 0 1 0 -2.7 0M192.67 271.19a1.35 1.35 0 1 0 2.7 0a1.35 1.35 0 1 0 -2.7 0M187.26 283.38a1.35 1.35 0 1 0 2.7 0a1.35 1.35 0 1 0 -2.7 0M200.07 284.27a1.35 1.35 0 1 0 2.7 0a1.35 1.35 0 1 0 -2.7 0M189.88 221.73a1.35 1.35 0 1 0 2.7 0a1.35 1.35 0 1 0 -2.7 0M192.2 247.87a1.35 1.35 0 1 0 2.7 0a1.35 1.35 0 1 0 -2.7 0M183.8 257.26a1.35 1.35 0 1 0 2.7 0a1.35 1.35 0 1 0 -2.7 0M188.16 284.53a1.35 1.35 0 1 0 2.7 0a1.35 1.35 0 1 0 -2.7 0M186.97 261.8a1.35 1.35 0 1 0 2.7 0a1.35 1.35 0 1 0 -2.7 0M186.91 273.16a1.35 1.35 0 1 0 2.7 0a1.35 1.35 0 1 0 -2.7 0M191.85 251.49a1.35 1.35 0 1 0 2.7 0a1.35 1.35 0 1 0 -2.7 0M189.63 219.11a1.35 1.35 0 1 0 2.7 0a1.35 1.35 0 1 0 -2.7 0M179.47 267.79a1.35 1.35 0 1 0 2.7 0a1.35 1.35 0 1 0 -2.7 0M183.47 230a1.35 1.35 0 1 0 2.7 0a1.35 1.35 0 1 0 -2.7 0M188.05 243.74a1.35 1.35 0 1 0 2.7 0a1.35 1.35 0 1 0 -2.7 0M180.54 276.79a1.35 1.35 0 1 0 2.7 0a1.35 1.35 0 1 0 -2.7 0M180.27 279.81a1.35 1.35 0 1 0 2.7 0a1.35 1.35 0 1 0 -2.7 0M187.18 277.42a1.35 1.35 0 1 0 2.7 0a1.35 1.35 0 1 0 -2.7 0M191.79 281.23a1.35 1.35 0 1 0 2.7 0a1.35 1.35 0 1 0 -2.7 0M189.09 263.88a1.35 1.35 0 1 0 2.7 0a1.35 1.35 0 1 0 -2.7 0M187.03 275.65a1.35 1.35 0 1 0 2.7 0a1.35 1.35 0 1 0 -2.7 0M183.57 236.88a1.35 1.35 0 1 0 2.7 0a1.35 1.35 0 1 0 -2.7 0M192.76 238.92a1.35 1.35 0 1 0 2.7 0a1.35 1.35 0 1 0 -2.7 0M188.11 228.37a1.35 1.35 0 1 0 2.7 0a1.35 1.35 0 1 0 -2.7 0M186.38 227.79a1.35 1.35 0 1 0 2.7 0a1.35 1.35 0 1 0 -2.7 0M183.13 262.94a1.35 1.35 0 1 0 2.7 0a1.35 1.35 0 1 0 -2.7 0M186.03 272.63a1.35 1.35 0 1 0 2.7 0a1.35 1.35 0 1 0 -2.7 0M190.45 272.72a1.35 1.35 0 1 0 2.7 0a1.35 1.35 0 1 0 -2.7 0M188.76 281.88a1.35 1.35 0 1 0 2.7 0a1.35 1.35 0 1 0 -2.7 0M184.95 243.95a1.35 1.35 0 1 0 2.7 0a1.35 1.35 0 1 0 -2.7 0M184.57 275.43a1.35 1.35 0 1 0 2.7 0a1.35 1.35 0 1 0 -2.7 0M192.23 250.69a1.35 1.35 0 1 0 2.7 0a1.35 1.35 0 1 0 -2.7 0M187.08 239.25a1.35 1.35 0 1 0 2.7 0a1.35 1.35 0 1 0 -2.7 0M183.66 273.83a1.35 1.35 0 1 0 2.7 0a1.35 1.35 0 1 0 -2.7 0M191.91 232.27a1.35 1.35 0 1 0 2.7 0a1.35 1.35 0 1 0 -2.7 0M187.09 226.98a1.35 1.35 0 1 0 2.7 0a1.35 1.35 0 1 0 -2.7 0M189.44 278.17a1.35 1.35 0 1 0 2.7 0a1.35 1.35 0 1 0 -2.7 0M201.66 274.6a1.35 1.35 0 1 0 2.7 0a1.35 1.35 0 1 0 -2.7 0M185.48 273.5a1.35 1.35 0 1 0 2.7 0a1.35 1.35 0 1 0 -2.7 0M182.09 278.45a1.35 1.35 0 1 0 2.7 0a1.35 1.35 0 1 0 -2.7 0M180.17 222.15a1.35 1.35 0 1 0 2.7 0a1.35 1.35 0 1 0 -2.7 0M186.88 238.56a1.35 1.35 0 1 0 2.7 0a1.35 1.35 0 1 0 -2.7 0M187.08 257.87a1.35 1.35 0 1 0 2.7 0a1.35 1.35 0 1 0 -2.7 0M190.24 261.32a1.35 1.35 0 1 0 2.7 0a1.35 1.35 0 1 0 -2.7 0M179.17 272.57a1.35 1.35 0 1 0 2.7 0a1.35 1.35 0 1 0 -2.7 0M184.51 278.59a1.35 1.35 0 1 0 2.7 0a1.35 1.35 0 1 0 -2.7 0M181.35 262.1a1.35 1.35 0 1 0 2.7 0a1.35 1.35 0 1 0 -2.7 0M198.21 272.16a1.35 1.35 0 1 0 2.7 0a1.35 1.35 0 1 0 -2.7 0M181.44 280.98a1.35 1.35 0 1 0 2.7 0a1.35 1.35 0 1 0 -2.7 0M197.98 272.25a1.35 1.35 0 1 0 2.7 0a1.35 1.35 0 1 0 -2.7 0M182.4 267.14a1.35 1.35 0 1 0 2.7 0a1.35 1.35 0 1 0 -2.7 0M197.07 270.43a1.35 1.35 0 1 0 2.7 0a1.35 1.35 0 1 0 -2.7 0M193.08 282.71a1.35 1.35 0 1 0 2.7 0a1.35 1.35 0 1 0 -2.7 0M184.29 233.29a1.35 1.35 0 1 0 2.7 0a1.35 1.35 0 1 0 -2.7 0M197.18 260.28a1.35 1.35 0 1 0 2.7 0a1.35 1.35 0 1 0 -2.7 0M185.31 248.65a1.35 1.35 0 1 0 2.7 0a1.35 1.35 0 1 0 -2.7 0M186.78 276.35a1.35 1.35 0 1 0 2.7 0a1.35 1.35 0 1 0 -2.7 0M182.07 231.7a1.35 1.35 0 1 0 2.7 0a1.35 1.35 0 1 0 -2.7 0M184.18 262.62a1.35 1.35 0 1 0 2.7 0a1.35 1.35 0 1 0 -2.7 0M188.41 222.61a1.35 1.35 0 1 0 2.7 0a1.35 1.35 0 1 0 -2.7 0M179.43 284.41a1.35 1.35 0 1 0 2.7 0a1.35 1.35 0 1 0 -2.7 0M191.62 242.57a1.35 1.35 0 1 0 2.7 0a1.35 1.35 0 1 0 -2.7 0M195.16 280.14a1.35 1.35 0 1 0 2.7 0a1.35 1.35 0 1 0 -2.7 0M185.56 228.45a1.35 1.35 0 1 0 2.7 0a1.35 1.35 0 1 0 -2.7 0M200.72 279.5a1.35 1.35 0 1 0 2.7 0a1.35 1.35 0 1 0 -2.7 0M199.16 272.28a1.35 1.35 0 1 0 2.7 0a1.35 1.35 0 1 0 -2.7 0M188.57 272.35a1.35 1.35 0 1 0 2.7 0a1.35 1.35 0 1 0 -2.7 0M202.23 280.87a1.35 1.35 0 1 0 2.7 0a1.35 1.35 0 1 0 -2.7 0M190.45 282.74a1.35 1.35 0 1 0 2.7 0a1.35 1.35 0 1 0 -2.7 0M180.17 242.96a1.35 1.35 0 1 0 2.7 0a1.35 1.35 0 1 0 -2.7 0M200.59 274.15a1.35 1.35 0 1 0 2.7 0a1.35 1.35 0 1 0 -2.7 0M192.27 241.59a1.35 1.35 0 1 0 2.7 0a1.35 1.35 0 1 0 -2.7 0M188.03 224.66a1.35 1.35 0 1 0 2.7 0a1.35 1.35 0 1 0 -2.7 0M191.41 258.55a1.35 1.35 0 1 0 2.7 0a1.35 1.35 0 1 0 -2.7 0M187.91 276.38a1.35 1.35 0 1 0 2.7 0a1.35 1.35 0 1 0 -2.7 0M183.97 260.9a1.35 1.35 0 1 0 2.7 0a1.35 1.35 0 1 0 -2.7 0M181.32 259.54a1.35 1.35 0 1 0 2.7 0a1.35 1.35 0 1 0 -2.7 0M192.66 252.36a1.35 1.35 0 1 0 2.7 0a1.35 1.35 0 1 0 -2.7 0M181.57 249.81a1.35 1.35 0 1 0 2.7 0a1.35 1.35 0 1 0 -2.7 0M191.63 251.55a1.35 1.35 0 1 0 2.7 0a1.35 1.35 0 1 0 -2.7 0M192.24 254.13a1.35 1.35 0 1 0 2.7 0a1.35 1.35 0 1 0 -2.7 0M197.37 266.77a1.35 1.35 0 1 0 2.7 0a1.35 1.35 0 1 0 -2.7 0M181.75 272.27a1.35 1.35 0 1 0 2.7 0a1.35 1.35 0 1 0 -2.7 0M183.52 282a1.35 1.35 0 1 0 2.7 0a1.35 1.35 0 1 0 -2.7 0M185.19 237.93a1.35 1.35 0 1 0 2.7 0a1.35 1.35 0 1 0 -2.7 0M186.8 263.06a1.35 1.35 0 1 0 2.7 0a1.35 1.35 0 1 0 -2.7 0M202.55 275.31a1.35 1.35 0 1 0 2.7 0a1.35 1.35 0 1 0 -2.7 0M193.15 270.23a1.35 1.35 0 1 0 2.7 0a1.35 1.35 0 1 0 -2.7 0M182.05 211.57a1.35 1.35 0 1 0 2.7 0a1.35 1.35 0 1 0 -2.7 0M182.83 275.66a1.35 1.35 0 1 0 2.7 0a1.35 1.35 0 1 0 -2.7 0M179.5 235.68a1.35 1.35 0 1 0 2.7 0a1.35 1.35 0 1 0 -2.7 0M191.95 275.48a1.35 1.35 0 1 0 2.7 0a1.35 1.35 0 1 0 -2.7 0M189.18 275.48a1.35 1.35 0 1 0 2.7 0a1.35 1.35 0 1 0 -2.7 0M181.09 234.7a1.35 1.35 0 1 0 2.7 0a1.35 1.35 0 1 0 -2.7 0M191.08 253.28a1.35 1.35 0 1 0 2.7 0a1.35 1.35 0 1 0 -2.7 0M185.83 252.67a1.35 1.35 0 1 0 2.7 0a1.35 1.35 0 1 0 -2.7 0M203.55 284.41a1.35 1.35 0 1 0 2.7 0a1.35 1.35 0 1 0 -2.7 0M186.9 267.25a1.35 1.35 0 1 0 2.7 0a1.35 1.35 0 1 0 -2.7 0M192.13 257.64a1.35 1.35 0 1 0 2.7 0a1.35 1.35 0 1 0 -2.7 0M193.19 240.45a1.35 1.35 0 1 0 2.7 0a1.35 1.35 0 1 0 -2.7 0M191.43 237.55a1.35 1.35 0 1 0 2.7 0a1.35 1.35 0 1 0 -2.7 0M185.14 236.19a1.35 1.35 0 1 0 2.7 0a1.35 1.35 0 1 0 -2.7 0M179.33 275.32a1.35 1.35 0 1 0 2.7 0a1.35 1.35 0 1 0 -2.7 0M190.51 252.65a1.35 1.35 0 1 0 2.7 0a1.35 1.35 0 1 0 -2.7 0M182.35 154.2a1.35 1.35 0 1 0 2.7 0a1.35 1.35 0 1 0 -2.7 0M183.65 164.5a1.35 1.35 0 1 0 2.7 0a1.35 1.35 0 1 0 -2.7 0M186.35 176.3a1.35 1.35 0 1 0 2.7 0a1.35 1.35 0 1 0 -2.7 0M187.15 183.2a1.35 1.35 0 1 0 2.7 0a1.35 1.35 0 1 0 -2.7 0M187.75 199.7a1.35 1.35 0 1 0 2.7 0a1.35 1.35 0 1 0 -2.7 0M181.35 205.8a1.35 1.35 0 1 0 2.7 0a1.35 1.35 0 1 0 -2.7 0M222.95 157.2a1.35 1.35 0 1 0 2.7 0a1.35 1.35 0 1 0 -2.7 0M218.05 174.5a1.35 1.35 0 1 0 2.7 0a1.35 1.35 0 1 0 -2.7 0M218.85 174.9a1.35 1.35 0 1 0 2.7 0a1.35 1.35 0 1 0 -2.7 0M218.05 196.7a1.35 1.35 0 1 0 2.7 0a1.35 1.35 0 1 0 -2.7 0M188.95 215.8a1.35 1.35 0 1 0 2.7 0a1.35 1.35 0 1 0 -2.7 0M182.35 154.4a1.35 1.35 0 1 0 2.7 0a1.35 1.35 0 1 0 -2.7 0M183.75 164.7a1.35 1.35 0 1 0 2.7 0a1.35 1.35 0 1 0 -2.7 0M186.45 176.5a1.35 1.35 0 1 0 2.7 0a1.35 1.35 0 1 0 -2.7 0M187.95 199.8a1.35 1.35 0 1 0 2.7 0a1.35 1.35 0 1 0 -2.7 0M181.45 206a1.35 1.35 0 1 0 2.7 0a1.35 1.35 0 1 0 -2.7 0"/>
<path fill="#0b3268" d="M55.6 36.5a1.5 1.5 0 1 0 3 0a1.5 1.5 0 1 0 -3 0M124.8 36.7a1.5 1.5 0 1 0 3 0a1.5 1.5 0 1 0 -3 0M38.6 72.7a1.5 1.5 0 1 0 3 0a1.5 1.5 0 1 0 -3 0M112.6 72.7a1.5 1.5 0 1 0 3 0a1.5 1.5 0 1 0 -3 0M136.2 51.8a1.5 1.5 0 1 0 3 0a1.5 1.5 0 1 0 -3 0M60 118.6a1.5 1.5 0 1 0 3 0a1.5 1.5 0 1 0 -3 0M89.2 120.9a1.5 1.5 0 1 0 3 0a1.5 1.5 0 1 0 -3 0M132.9 122.2a1.5 1.5 0 1 0 3 0a1.5 1.5 0 1 0 -3 0M157 151.9a1.5 1.5 0 1 0 3 0a1.5 1.5 0 1 0 -3 0M158 159a1.5 1.5 0 1 0 3 0a1.5 1.5 0 1 0 -3 0M146.2 162a1.5 1.5 0 1 0 3 0a1.5 1.5 0 1 0 -3 0M121.1 171.2a1.5 1.5 0 1 0 3 0a1.5 1.5 0 1 0 -3 0M163.3 180.4a1.5 1.5 0 1 0 3 0a1.5 1.5 0 1 0 -3 0M151.5 194.6a1.5 1.5 0 1 0 3 0a1.5 1.5 0 1 0 -3 0M126.5 200.1a1.5 1.5 0 1 0 3 0a1.5 1.5 0 1 0 -3 0M132.4 199.5a1.5 1.5 0 1 0 3 0a1.5 1.5 0 1 0 -3 0M133.7 198.6a1.5 1.5 0 1 0 3 0a1.5 1.5 0 1 0 -3 0M160.9 199.8a1.5 1.5 0 1 0 3 0a1.5 1.5 0 1 0 -3 0M147.4 207a1.5 1.5 0 1 0 3 0a1.5 1.5 0 1 0 -3 0M148.4 207.6a1.5 1.5 0 1 0 3 0a1.5 1.5 0 1 0 -3 0M166.8 206.7a1.5 1.5 0 1 0 3 0a1.5 1.5 0 1 0 -3 0M158.5 216.4a1.5 1.5 0 1 0 3 0a1.5 1.5 0 1 0 -3 0M169.6 217.5a1.5 1.5 0 1 0 3 0a1.5 1.5 0 1 0 -3 0M154.6 220.5a1.5 1.5 0 1 0 3 0a1.5 1.5 0 1 0 -3 0M157.8 220.1a1.5 1.5 0 1 0 3 0a1.5 1.5 0 1 0 -3 0M157.6 222.2a1.5 1.5 0 1 0 3 0a1.5 1.5 0 1 0 -3 0M168.3 223.4a1.5 1.5 0 1 0 3 0a1.5 1.5 0 1 0 -3 0M173.3 225.4a1.5 1.5 0 1 0 3 0a1.5 1.5 0 1 0 -3 0M146.2 229.2a1.5 1.5 0 1 0 3 0a1.5 1.5 0 1 0 -3 0M142.4 231.6a1.5 1.5 0 1 0 3 0a1.5 1.5 0 1 0 -3 0M163.2 232.1a1.5 1.5 0 1 0 3 0a1.5 1.5 0 1 0 -3 0M170.2 232.4a1.5 1.5 0 1 0 3 0a1.5 1.5 0 1 0 -3 0M175.3 233.2a1.5 1.5 0 1 0 3 0a1.5 1.5 0 1 0 -3 0M176 237.6a1.5 1.5 0 1 0 3 0a1.5 1.5 0 1 0 -3 0M176.8 238.8a1.5 1.5 0 1 0 3 0a1.5 1.5 0 1 0 -3 0M176.2 240.6a1.5 1.5 0 1 0 3 0a1.5 1.5 0 1 0 -3 0M170.4 240.3a1.5 1.5 0 1 0 3 0a1.5 1.5 0 1 0 -3 0M166.9 243.1a1.5 1.5 0 1 0 3 0a1.5 1.5 0 1 0 -3 0M168.3 246.4a1.5 1.5 0 1 0 3 0a1.5 1.5 0 1 0 -3 0M173.9 245.8a1.5 1.5 0 1 0 3 0a1.5 1.5 0 1 0 -3 0M173.3 247.6a1.5 1.5 0 1 0 3 0a1.5 1.5 0 1 0 -3 0M172.2 249.3a1.5 1.5 0 1 0 3 0a1.5 1.5 0 1 0 -3 0M160.7 247.8a1.5 1.5 0 1 0 3 0a1.5 1.5 0 1 0 -3 0M163.4 249.7a1.5 1.5 0 1 0 3 0a1.5 1.5 0 1 0 -3 0M115.3 250.7a1.5 1.5 0 1 0 3 0a1.5 1.5 0 1 0 -3 0M170.2 253.4a1.5 1.5 0 1 0 3 0a1.5 1.5 0 1 0 -3 0M173 256a1.5 1.5 0 1 0 3 0a1.5 1.5 0 1 0 -3 0M176.2 255.7a1.5 1.5 0 1 0 3 0a1.5 1.5 0 1 0 -3 0M163.4 257.7a1.5 1.5 0 1 0 3 0a1.5 1.5 0 1 0 -3 0M176.8 260.8a1.5 1.5 0 1 0 3 0a1.5 1.5 0 1 0 -3 0M176.5 267.6a1.5 1.5 0 1 0 3 0a1.5 1.5 0 1 0 -3 0M159.3 271.5a1.5 1.5 0 1 0 3 0a1.5 1.5 0 1 0 -3 0M165.7 271.3a1.5 1.5 0 1 0 3 0a1.5 1.5 0 1 0 -3 0M168.7 272.3a1.5 1.5 0 1 0 3 0a1.5 1.5 0 1 0 -3 0M155.8 274.4a1.5 1.5 0 1 0 3 0a1.5 1.5 0 1 0 -3 0M176.1 249a1.5 1.5 0 1 0 3 0a1.5 1.5 0 1 0 -3 0M176.7 252a1.5 1.5 0 1 0 3 0a1.5 1.5 0 1 0 -3 0M175 244a1.5 1.5 0 1 0 3 0a1.5 1.5 0 1 0 -3 0M177 231a1.5 1.5 0 1 0 3 0a1.5 1.5 0 1 0 -3 0M176.9 235.5a1.5 1.5 0 1 0 3 0a1.5 1.5 0 1 0 -3 0"/>
<path fill="#6d0c25" d="M241 107.5a1.5 1.5 0 1 0 3 0a1.5 1.5 0 1 0 -3 0M248.7 121.6a1.5 1.5 0 1 0 3 0a1.5 1.5 0 1 0 -3 0M240.5 131.4a1.5 1.5 0 1 0 3 0a1.5 1.5 0 1 0 -3 0M234.9 137.7a1.5 1.5 0 1 0 3 0a1.5 1.5 0 1 0 -3 0M241.5 137.1a1.5 1.5 0 1 0 3 0a1.5 1.5 0 1 0 -3 0M242.3 137a1.5 1.5 0 1 0 3 0a1.5 1.5 0 1 0 -3 0M248 138.2a1.5 1.5 0 1 0 3 0a1.5 1.5 0 1 0 -3 0M239.9 141.8a1.5 1.5 0 1 0 3 0a1.5 1.5 0 1 0 -3 0M241.5 141.8a1.5 1.5 0 1 0 3 0a1.5 1.5 0 1 0 -3 0M234 155.6a1.5 1.5 0 1 0 3 0a1.5 1.5 0 1 0 -3 0M241.5 155.9a1.5 1.5 0 1 0 3 0a1.5 1.5 0 1 0 -3 0M243.4 154.5a1.5 1.5 0 1 0 3 0a1.5 1.5 0 1 0 -3 0M250.7 160.4a1.5 1.5 0 1 0 3 0a1.5 1.5 0 1 0 -3 0M237.8 163.4a1.5 1.5 0 1 0 3 0a1.5 1.5 0 1 0 -3 0M243.7 164.5a1.5 1.5 0 1 0 3 0a1.5 1.5 0 1 0 -3 0M249.1 169a1.5 1.5 0 1 0 3 0a1.5 1.5 0 1 0 -3 0M249.6 170a1.5 1.5 0 1 0 3 0a1.5 1.5 0 1 0 -3 0M243.6 165a1.5 1.5 0 1 0 3 0a1.5 1.5 0 1 0 -3 0M249.4 170.1a1.5 1.5 0 1 0 3 0a1.5 1.5 0 1 0 -3 0M239.2 176.1a1.5 1.5 0 1 0 3 0a1.5 1.5 0 1 0 -3 0M235.4 179.9a1.5 1.5 0 1 0 3 0a1.5 1.5 0 1 0 -3 0M243 180.2a1.5 1.5 0 1 0 3 0a1.5 1.5 0 1 0 -3 0M238.4 181.6a1.5 1.5 0 1 0 3 0a1.5 1.5 0 1 0 -3 0M232.5 182.2a1.5 1.5 0 1 0 3 0a1.5 1.5 0 1 0 -3 0M236 183.1a1.5 1.5 0 1 0 3 0a1.5 1.5 0 1 0 -3 0M237.8 184.3a1.5 1.5 0 1 0 3 0a1.5 1.5 0 1 0 -3 0M238.6 184.9a1.5 1.5 0 1 0 3 0a1.5 1.5 0 1 0 -3 0M236.3 185.1a1.5 1.5 0 1 0 3 0a1.5 1.5 0 1 0 -3 0M234.9 188.4a1.5 1.5 0 1 0 3 0a1.5 1.5 0 1 0 -3 0M236 188.9a1.5 1.5 0 1 0 3 0a1.5 1.5 0 1 0 -3 0M237.2 188.6a1.5 1.5 0 1 0 3 0a1.5 1.5 0 1 0 -3 0M233.7 195.1a1.5 1.5 0 1 0 3 0a1.5 1.5 0 1 0 -3 0M235.4 195.7a1.5 1.5 0 1 0 3 0a1.5 1.5 0 1 0 -3 0M234.3 197.7a1.5 1.5 0 1 0 3 0a1.5 1.5 0 1 0 -3 0M236 199.2a1.5 1.5 0 1 0 3 0a1.5 1.5 0 1 0 -3 0M236.6 199.7a1.5 1.5 0 1 0 3 0a1.5 1.5 0 1 0 -3 0M234 202.1a1.5 1.5 0 1 0 3 0a1.5 1.5 0 1 0 -3 0M233.1 203.5a1.5 1.5 0 1 0 3 0a1.5 1.5 0 1 0 -3 0M235.1 206.2a1.5 1.5 0 1 0 3 0a1.5 1.5 0 1 0 -3 0M241.6 210a1.5 1.5 0 1 0 3 0a1.5 1.5 0 1 0 -3 0M236.9 228.3a1.5 1.5 0 1 0 3 0a1.5 1.5 0 1 0 -3 0M238.1 241.7a1.5 1.5 0 1 0 3 0a1.5 1.5 0 1 0 -3 0M235.3 257.3a1.5 1.5 0 1 0 3 0a1.5 1.5 0 1 0 -3 0M234.3 256a1.5 1.5 0 1 0 3 0a1.5 1.5 0 1 0 -3 0M239.4 265.6a1.5 1.5 0 1 0 3 0a1.5 1.5 0 1 0 -3 0M251.7 266.1a1.5 1.5 0 1 0 3 0a1.5 1.5 0 1 0 -3 0M242.6 273.1a1.5 1.5 0 1 0 3 0a1.5 1.5 0 1 0 -3 0M243.2 275.2a1.5 1.5 0 1 0 3 0a1.5 1.5 0 1 0 -3 0M257.1 274.1a1.5 1.5 0 1 0 3 0a1.5 1.5 0 1 0 -3 0M233.7 192a1.5 1.5 0 1 0 3 0a1.5 1.5 0 1 0 -3 0M233.3 190a1.5 1.5 0 1 0 3 0a1.5 1.5 0 1 0 -3 0M234 186a1.5 1.5 0 1 0 3 0a1.5 1.5 0 1 0 -3 0"/>
<rect x="38.2" y="39.6" width="25.3" height="9" fill="#fff" stroke="#6f86a8" stroke-width="0.75" rx="1" /><text x="50.85" y="46.51" font-size="6.7" text-anchor="middle" fill="#0b3268" stroke="#0b3268" stroke-width="0.18">EEF1G</text>
<rect x="109.6" y="61.4" width="22" height="9" fill="#fff" stroke="#6f86a8" stroke-width="0.75" rx="1" /><text x="120.6" y="68.31" font-size="6.7" text-anchor="middle" fill="#0b3268" stroke="#0b3268" stroke-width="0.18">NME2</text>
<rect x="79.9" y="109.1" width="34.5" height="8.9" fill="#fff" stroke="#6f86a8" stroke-width="0.75" rx="1" /><text x="97.15" y="115.96" font-size="6.7" text-anchor="middle" fill="#0b3268" stroke="#0b3268" stroke-width="0.18">PTPRCAP</text>
<rect x="139" y="140.4" width="25.8" height="8.8" fill="#fff" stroke="#6f86a8" stroke-width="0.75" rx="1" /><text x="151.9" y="147.21" font-size="6.7" text-anchor="middle" fill="#0b3268" stroke="#0b3268" stroke-width="0.18">PPDPF</text>
<rect x="116.3" y="159.4" width="25.1" height="9.2" fill="#fff" stroke="#6f86a8" stroke-width="0.75" rx="1" /><text x="128.85" y="166.41" font-size="6.7" text-anchor="middle" fill="#0b3268" stroke="#0b3268" stroke-width="0.18">IFITM1</text>
<rect x="155.2" y="162" width="21.3" height="8.6" fill="#fff" stroke="#6f86a8" stroke-width="0.75" rx="1" /><text x="165.85" y="168.71" font-size="6.7" text-anchor="middle" fill="#0b3268" stroke="#0b3268" stroke-width="0.18">CD3E</text>
<rect x="149.3" y="183.5" width="25.6" height="8.8" fill="#fff" stroke="#6f86a8" stroke-width="0.75" rx="1" /><text x="162.1" y="190.31" font-size="6.7" text-anchor="middle" fill="#0b3268" stroke="#0b3268" stroke-width="0.18">ACTG1</text>
<rect x="123.7" y="189" width="21" height="8.5" fill="#fff" stroke="#6f86a8" stroke-width="0.75" rx="1" /><text x="134.2" y="195.66" font-size="6.7" text-anchor="middle" fill="#0b3268" stroke="#0b3268" stroke-width="0.18">GAS5</text>
<rect x="103.7" y="239.6" width="38.5" height="8" fill="#fff" stroke="#6f86a8" stroke-width="0.75" rx="1" /><text x="122.95" y="246.01" font-size="6.7" text-anchor="middle" fill="#0b3268" stroke="#0b3268" stroke-width="0.18">MTRNR2L8</text>
<rect x="157.3" y="260.6" width="20.2" height="8" fill="#fff" stroke="#6f86a8" stroke-width="0.75" rx="1" /><text x="167.4" y="267.01" font-size="6.7" text-anchor="middle" fill="#0b3268" stroke="#0b3268" stroke-width="0.18">IGKC</text>
<rect x="230.4" y="110.5" width="27.1" height="7.9" fill="#fff" stroke="#a06272" stroke-width="0.75" rx="1" /><text x="243.95" y="116.86" font-size="6.7" text-anchor="middle" fill="#6d0c25" stroke="#6d0c25" stroke-width="0.18">SRRM2</text>
<rect x="242.3" y="126.6" width="25.2" height="8.9" fill="#fff" stroke="#a06272" stroke-width="0.75" rx="1" /><text x="254.9" y="133.46" font-size="6.7" text-anchor="middle" fill="#6d0c25" stroke="#6d0c25" stroke-width="0.18">NFKB2</text>
<rect x="224.3" y="145" width="24.9" height="8.4" fill="#fff" stroke="#a06272" stroke-width="0.75" rx="1" /><text x="236.75" y="151.61" font-size="6.7" text-anchor="middle" fill="#6d0c25" stroke="#6d0c25" stroke-width="0.18">KMT2A</text>
<rect x="227.5" y="167.9" width="22.2" height="8" fill="#fff" stroke="#a06272" stroke-width="0.75" rx="1" /><text x="238.6" y="174.31" font-size="6.7" text-anchor="middle" fill="#6d0c25" stroke="#6d0c25" stroke-width="0.18">GNAS</text>
<rect x="219.8" y="245.5" width="20.6" height="8.5" fill="#fff" stroke="#a06272" stroke-width="0.75" rx="1" /><text x="230.1" y="252.16" font-size="6.7" text-anchor="middle" fill="#6d0c25" stroke="#6d0c25" stroke-width="0.18">PRF1</text>
<rect x="244.4" y="254.3" width="23" height="9.1" fill="#fff" stroke="#a06272" stroke-width="0.75" rx="1" /><text x="255.9" y="261.26" font-size="6.7" text-anchor="middle" fill="#6d0c25" stroke="#6d0c25" stroke-width="0.18">GZMB</text>
<rect x="216.3" y="259.7" width="21.9" height="8.5" fill="#fff" stroke="#a06272" stroke-width="0.75" rx="1" /><text x="227.25" y="266.36" font-size="6.7" text-anchor="middle" fill="#6d0c25" stroke="#6d0c25" stroke-width="0.18">TRDC</text>
<rect x="220.3" y="272.5" width="20.1" height="8.8" fill="#fff" stroke="#a06272" stroke-width="0.75" rx="1" /><text x="230.35" y="279.31" font-size="6.7" text-anchor="middle" fill="#6d0c25" stroke="#6d0c25" stroke-width="0.18">CCL4</text>
<rect x="245.2" y="277.7" width="22.3" height="8.8" fill="#fff" stroke="#a06272" stroke-width="0.75" rx="1" /><text x="256.35" y="284.51" font-size="6.7" text-anchor="middle" fill="#6d0c25" stroke="#6d0c25" stroke-width="0.18">ISG15</text>
<line x1="179" y1="24.5" x2="179" y2="296.2" stroke="#222" stroke-width="0.9" stroke-dasharray="2.6 2.4" />
<line x1="234.4" y1="24.5" x2="234.4" y2="296.2" stroke="#222" stroke-width="0.9" stroke-dasharray="2.6 2.4" />
<line x1="29.5" y1="283.6" x2="269.4" y2="283.6" stroke="#222" stroke-width="0.9" stroke-dasharray="2.6 2.4" />
<rect x="29.5" y="24.5" width="239.9" height="271.7" fill="none" stroke="#4a4a4a" stroke-width="0.9" />
<line x1="27" y1="283.6" x2="29.5" y2="283.6" stroke="#4a4a4a" stroke-width="0.7" />
<text x="26" y="285.5" font-size="5.3" text-anchor="end" fill="#4d4d4d" stroke="#4d4d4d" stroke-width="0.15">0</text>
<line x1="27" y1="201.23" x2="29.5" y2="201.23" stroke="#4a4a4a" stroke-width="0.7" />
<text x="26" y="203.13" font-size="5.3" text-anchor="end" fill="#4d4d4d" stroke="#4d4d4d" stroke-width="0.15">100</text>
<line x1="27" y1="118.86" x2="29.5" y2="118.86" stroke="#4a4a4a" stroke-width="0.7" />
<text x="26" y="120.76" font-size="5.3" text-anchor="end" fill="#4d4d4d" stroke="#4d4d4d" stroke-width="0.15">200</text>
<line x1="27" y1="36.49" x2="29.5" y2="36.49" stroke="#4a4a4a" stroke-width="0.7" />
<text x="26" y="38.39" font-size="5.3" text-anchor="end" fill="#4d4d4d" stroke="#4d4d4d" stroke-width="0.15">300</text>
<line x1="40.66" y1="296.2" x2="40.66" y2="298.7" stroke="#4a4a4a" stroke-width="0.7" />
<text x="40.66" y="303.5" font-size="5.3" text-anchor="middle" fill="#4d4d4d" stroke="#4d4d4d" stroke-width="0.15">−3</text>
<line x1="95.94" y1="296.2" x2="95.94" y2="298.7" stroke="#4a4a4a" stroke-width="0.7" />
<text x="95.94" y="303.5" font-size="5.3" text-anchor="middle" fill="#4d4d4d" stroke="#4d4d4d" stroke-width="0.15">−2</text>
<line x1="151.22" y1="296.2" x2="151.22" y2="298.7" stroke="#4a4a4a" stroke-width="0.7" />
<text x="151.22" y="303.5" font-size="5.3" text-anchor="middle" fill="#4d4d4d" stroke="#4d4d4d" stroke-width="0.15">−1</text>
<line x1="206.5" y1="296.2" x2="206.5" y2="298.7" stroke="#4a4a4a" stroke-width="0.7" />
<text x="206.5" y="303.5" font-size="5.3" text-anchor="middle" fill="#4d4d4d" stroke="#4d4d4d" stroke-width="0.15">0</text>
<line x1="261.78" y1="296.2" x2="261.78" y2="298.7" stroke="#4a4a4a" stroke-width="0.7" />
<text x="261.78" y="303.5" font-size="5.3" text-anchor="middle" fill="#4d4d4d" stroke="#4d4d4d" stroke-width="0.15">1</text>
<text x="146" y="313.6" font-size="8.4" text-anchor="middle">Average FC (Log<tspan font-size="5.6" dy="1.8">2</tspan><tspan dy="-1.8">)</tspan></text>
<text x="10.2" y="162" font-size="8.4" text-anchor="middle" transform="rotate(-90 10.2 162)" stroke="#000" stroke-width="0.15">-Log10 (Adj. P)</text>
<line x1="31.5" y1="20.3" x2="154" y2="20.3" stroke="#3f6494" stroke-width="1" />
<path fill="#3f6494" d="M30.2 20.3L33.2 18.6L33.2 22Z" />
<text x="156.3" y="22.9" font-size="8.3" fill="#1d4477" font-weight="bold" font-style="italic" stroke="#1d4477" stroke-width="0.25">MRD-</text>
<text x="235.5" y="22.9" font-size="8.3" fill="#6d0c25" font-weight="bold" font-style="italic" stroke="#6d0c25" stroke-width="0.25">MRD+</text>
<line x1="260.3" y1="20.3" x2="269.3" y2="20.3" stroke="#6d0c25" stroke-width="0.9" />
<path d="M266.6 18.6L269.4 20.3L266.6 22" fill="none" stroke="#6d0c25" stroke-width="0.9"/>
<text x="275.6" y="148.8" font-size="7.7" stroke="#000" stroke-width="0.15">Significantly</text>
<text x="275.6" y="158.3" font-size="7.7" stroke="#000" stroke-width="0.15">Over-Expressed</text>
<circle cx="282.2" cy="169.3" r="3.6" fill="#0b3268"/>
<circle cx="282.2" cy="179.9" r="3.6" fill="#6d0c25"/>
<text x="295.8" y="172.3" font-size="8.4" stroke="#000" stroke-width="0.15">MRD-</text>
<text x="295.8" y="182.9" font-size="8.4" stroke="#000" stroke-width="0.15">MRD+</text>
<text x="275.6" y="195.2" font-size="7.7" font-style="italic" stroke="#000" stroke-width="0.15">*patients at dx,</text>
<text x="275.6" y="204.6" font-size="7.7" font-style="italic" stroke="#000" stroke-width="0.15">future status</text>
<text transform="translate(5 16.8) scale(1.05 1)" font-family="Liberation Serif" font-size="34.5" stroke="#000" stroke-width="0.5">a</text>
<text transform="translate(329 28.8) scale(1.05 1)" font-family="Liberation Serif" font-size="34.5" stroke="#000" stroke-width="0.5">b</text>
<text transform="translate(6 358.6) scale(1.05 1)" font-family="Liberation Serif" font-size="34.5" stroke="#000" stroke-width="0.5">c</text>
<text transform="translate(322 320) scale(1.05 1)" font-family="Liberation Serif" font-size="34.5" stroke="#000" stroke-width="0.5">d</text>
<text transform="translate(-2 663) scale(1.05 1)" font-family="Liberation Serif" font-size="34.5" stroke="#000" stroke-width="0.5">e</text>
<text transform="translate(426 632) scale(1.4 1)" font-family="Liberation Serif" font-size="34.5" stroke="#000" stroke-width="0.5">f</text>
<rect x="372.4" y="20.5" width="99.4" height="105.2" fill="#fff" />
<line x1="399.5" y1="49" x2="399.5" y2="77.6" stroke="#333" stroke-width="0.75" />
<line x1="399.5" y1="97" x2="399.5" y2="118.1" stroke="#333" stroke-width="0.75" />
<line x1="399.5" y1="36.5" x2="399.5" y2="49" stroke="#111" stroke-width="2.6" stroke-linecap="round" />
<path fill="#111" d="M398.25 25.5a1.25 1.25 0 1 0 2.5 0a1.25 1.25 0 1 0 -2.5 0M398.25 30.6a1.25 1.25 0 1 0 2.5 0a1.25 1.25 0 1 0 -2.5 0M398.25 33.5a1.25 1.25 0 1 0 2.5 0a1.25 1.25 0 1 0 -2.5 0"/>
<rect x="383.4" y="77.6" width="32.2" height="19.4" fill="#fde0dd" stroke="#333" stroke-width="0.75" />
<line x1="383.4" y1="87.4" x2="415.6" y2="87.4" stroke="#1a1a1a" stroke-width="1.4" />
<line x1="444.6" y1="61.3" x2="444.6" y2="84" stroke="#333" stroke-width="0.75" />
<line x1="444.6" y1="98.9" x2="444.6" y2="116.9" stroke="#333" stroke-width="0.75" />
<line x1="444.6" y1="44.5" x2="444.6" y2="61.3" stroke="#111" stroke-width="2.6" stroke-linecap="round" />
<path fill="#111" d="M443.35 43.5a1.25 1.25 0 1 0 2.5 0a1.25 1.25 0 1 0 -2.5 0"/>
<rect x="428.5" y="84" width="32.2" height="14.9" fill="#fa9fb5" stroke="#333" stroke-width="0.75" />
<line x1="428.5" y1="91.4" x2="460.7" y2="91.4" stroke="#1a1a1a" stroke-width="1.4" />
<rect x="372.4" y="20.5" width="99.4" height="105.2" fill="none" stroke="#4a4a4a" stroke-width="0.9" />
<rect x="372.4" y="9.4" width="99.4" height="11.1" fill="#f0f0f0" stroke="#4a4a4a" stroke-width="0.9" />
<text x="422.1" y="17.25" font-size="6.5" text-anchor="middle" fill="#1a1a1a" stroke="#1a1a1a" stroke-width="0.15">CD8+ Naive</text>
<line x1="399.5" y1="30.3" x2="444.6" y2="30.3" stroke="#666" stroke-width="0.7" />
<text x="422.05" y="28.7" font-size="6.5" text-anchor="middle" fill="#1a1a1a" stroke="#1a1a1a" stroke-width="0.15">p&lt;0.0001</text>
<rect x="475.3" y="20.5" width="99.2" height="105.2" fill="#fff" />
<line x1="502.4" y1="42.4" x2="502.4" y2="72.8" stroke="#333" stroke-width="0.75" />
<line x1="502.4" y1="92.6" x2="502.4" y2="120.8" stroke="#333" stroke-width="0.75" />
<line x1="502.4" y1="34.5" x2="502.4" y2="42.4" stroke="#111" stroke-width="2.6" stroke-linecap="round" />
<path fill="#111" d="M501.15 34a1.25 1.25 0 1 0 2.5 0a1.25 1.25 0 1 0 -2.5 0"/>
<rect x="486.3" y="72.8" width="32.2" height="19.8" fill="#fde0dd" stroke="#333" stroke-width="0.75" />
<line x1="486.3" y1="82.9" x2="518.5" y2="82.9" stroke="#1a1a1a" stroke-width="1.4" />
<line x1="547.3" y1="58" x2="547.3" y2="79.1" stroke="#333" stroke-width="0.75" />
<line x1="547.3" y1="94.2" x2="547.3" y2="114" stroke="#333" stroke-width="0.75" />
<line x1="547.3" y1="53.2" x2="547.3" y2="58" stroke="#111" stroke-width="2.6" stroke-linecap="round" />
<path fill="#111" d="M546.05 40.8a1.25 1.25 0 1 0 2.5 0a1.25 1.25 0 1 0 -2.5 0M546.05 43.9a1.25 1.25 0 1 0 2.5 0a1.25 1.25 0 1 0 -2.5 0M546.05 50.2a1.25 1.25 0 1 0 2.5 0a1.25 1.25 0 1 0 -2.5 0M546.05 119.3a1.25 1.25 0 1 0 2.5 0a1.25 1.25 0 1 0 -2.5 0"/>
<rect x="531.2" y="79.1" width="32.2" height="15.1" fill="#fa9fb5" stroke="#333" stroke-width="0.75" />
<line x1="531.2" y1="86" x2="563.4" y2="86" stroke="#1a1a1a" stroke-width="1.4" />
<rect x="475.3" y="20.5" width="99.2" height="105.2" fill="none" stroke="#4a4a4a" stroke-width="0.9" />
<rect x="475.3" y="9.4" width="99.2" height="11.1" fill="#f0f0f0" stroke="#4a4a4a" stroke-width="0.9" />
<text x="524.9" y="17.25" font-size="6.5" text-anchor="middle" fill="#1a1a1a" stroke="#1a1a1a" stroke-width="0.15">CD4+ Naive</text>
<line x1="502.4" y1="30.3" x2="547.3" y2="30.3" stroke="#666" stroke-width="0.7" />
<text x="524.85" y="28.7" font-size="6.5" text-anchor="middle" fill="#1a1a1a" stroke="#1a1a1a" stroke-width="0.15">p&lt;0.0001</text>
<rect x="577.7" y="20.5" width="100.1" height="105.2" fill="#fff" />
<line x1="604.6" y1="75.3" x2="604.6" y2="90.4" stroke="#333" stroke-width="0.75" />
<line x1="604.6" y1="100.4" x2="604.6" y2="109.9" stroke="#333" stroke-width="0.75" />
<line x1="604.6" y1="59.5" x2="604.6" y2="75.3" stroke="#111" stroke-width="2.6" stroke-linecap="round" />
<rect x="588.5" y="90.4" width="32.2" height="10" fill="#fde0dd" stroke="#333" stroke-width="0.75" />
<line x1="588.5" y1="95.1" x2="620.7" y2="95.1" stroke="#1a1a1a" stroke-width="1.4" />
<line x1="650.3" y1="67.5" x2="650.3" y2="90.4" stroke="#333" stroke-width="0.75" />
<line x1="650.3" y1="104.5" x2="650.3" y2="110.5" stroke="#333" stroke-width="0.75" />
<path fill="#111" d="M649.05 66.2a1.25 1.25 0 1 0 2.5 0a1.25 1.25 0 1 0 -2.5 0M649.05 67.5a1.25 1.25 0 1 0 2.5 0a1.25 1.25 0 1 0 -2.5 0"/>
<rect x="634.2" y="90.4" width="32.2" height="14.1" fill="#fa9fb5" stroke="#333" stroke-width="0.75" />
<line x1="634.2" y1="97.3" x2="666.4" y2="97.3" stroke="#1a1a1a" stroke-width="1.4" />
<rect x="577.7" y="20.5" width="100.1" height="105.2" fill="none" stroke="#4a4a4a" stroke-width="0.9" />
<rect x="577.7" y="9.4" width="100.1" height="11.1" fill="#f0f0f0" stroke="#4a4a4a" stroke-width="0.9" />
<text x="627.75" y="17.25" font-size="6.5" text-anchor="middle" fill="#1a1a1a" stroke="#1a1a1a" stroke-width="0.15">CD8+ Cytokine Cytokine Rec.</text>
<line x1="604.6" y1="30.3" x2="650.3" y2="30.3" stroke="#666" stroke-width="0.7" />
<text x="627.45" y="28.7" font-size="6.5" text-anchor="middle" fill="#1a1a1a" stroke="#1a1a1a" stroke-width="0.15">p&lt;0.0001</text>
<line x1="370.1" y1="121.2" x2="372.4" y2="121.2" stroke="#333" stroke-width="0.7" />
<text x="369.2" y="123.4" font-size="6.3" text-anchor="end" fill="#333" stroke="#333" stroke-width="0.15">−0.5</text>
<line x1="370.1" y1="99.9" x2="372.4" y2="99.9" stroke="#333" stroke-width="0.7" />
<text x="369.2" y="102.1" font-size="6.3" text-anchor="end" fill="#333" stroke="#333" stroke-width="0.15">0.0</text>
<line x1="370.1" y1="78.6" x2="372.4" y2="78.6" stroke="#333" stroke-width="0.7" />
<text x="369.2" y="80.8" font-size="6.3" text-anchor="end" fill="#333" stroke="#333" stroke-width="0.15">0.5</text>
<line x1="370.1" y1="57.3" x2="372.4" y2="57.3" stroke="#333" stroke-width="0.7" />
<text x="369.2" y="59.5" font-size="6.3" text-anchor="end" fill="#333" stroke="#333" stroke-width="0.15">1.0</text>
<line x1="370.1" y1="36" x2="372.4" y2="36" stroke="#333" stroke-width="0.7" />
<text x="369.2" y="38.2" font-size="6.3" text-anchor="end" fill="#333" stroke="#333" stroke-width="0.15">1.5</text>
<rect x="372.4" y="140.3" width="99.4" height="105.3" fill="#fff" />
<line x1="399.5" y1="183" x2="399.5" y2="203.3" stroke="#333" stroke-width="0.75" />
<line x1="399.5" y1="216.4" x2="399.5" y2="232.5" stroke="#333" stroke-width="0.75" />
<line x1="399.5" y1="171.2" x2="399.5" y2="183" stroke="#111" stroke-width="2.6" stroke-linecap="round" />
<path fill="#111" d="M398.25 170.8a1.25 1.25 0 1 0 2.5 0a1.25 1.25 0 1 0 -2.5 0"/>
<rect x="383.4" y="203.3" width="32.2" height="13.1" fill="#fde0dd" stroke="#333" stroke-width="0.75" />
<line x1="383.4" y1="210.1" x2="415.6" y2="210.1" stroke="#1a1a1a" stroke-width="1.4" />
<line x1="444.6" y1="179.9" x2="444.6" y2="200.7" stroke="#333" stroke-width="0.75" />
<line x1="444.6" y1="216.4" x2="444.6" y2="230.9" stroke="#333" stroke-width="0.75" />
<rect x="428.5" y="200.7" width="32.2" height="15.7" fill="#fa9fb5" stroke="#333" stroke-width="0.75" />
<line x1="428.5" y1="209.3" x2="460.7" y2="209.3" stroke="#1a1a1a" stroke-width="1.4" />
<rect x="372.4" y="140.3" width="99.4" height="105.3" fill="none" stroke="#4a4a4a" stroke-width="0.9" />
<rect x="372.4" y="129.7" width="99.4" height="10.6" fill="#f0f0f0" stroke="#4a4a4a" stroke-width="0.9" />
<text x="422.1" y="137.3" font-size="6.5" text-anchor="middle" fill="#1a1a1a" stroke="#1a1a1a" stroke-width="0.15">CD4+ Activation Effector Func.</text>
<line x1="399.5" y1="149.6" x2="444.6" y2="149.6" stroke="#666" stroke-width="0.7" />
<text x="422.05" y="148" font-size="6.5" text-anchor="middle" fill="#1a1a1a" stroke="#1a1a1a" stroke-width="0.15">p&lt;0.0001</text>
<rect x="475.3" y="140.3" width="99.2" height="105.3" fill="#fff" />
<line x1="502.4" y1="187.5" x2="502.4" y2="205.4" stroke="#333" stroke-width="0.75" />
<line x1="502.4" y1="216.7" x2="502.4" y2="228.3" stroke="#333" stroke-width="0.75" />
<line x1="502.4" y1="176.5" x2="502.4" y2="187.5" stroke="#111" stroke-width="2.6" stroke-linecap="round" />
<rect x="486.3" y="205.4" width="32.2" height="11.3" fill="#fde0dd" stroke="#333" stroke-width="0.75" />
<line x1="486.3" y1="211.7" x2="518.5" y2="211.7" stroke="#1a1a1a" stroke-width="1.4" />
<line x1="547.3" y1="181.8" x2="547.3" y2="203.2" stroke="#333" stroke-width="0.75" />
<line x1="547.3" y1="216.7" x2="547.3" y2="228.3" stroke="#333" stroke-width="0.75" />
<path fill="#111" d="M546.05 181.3a1.25 1.25 0 1 0 2.5 0a1.25 1.25 0 1 0 -2.5 0"/>
<rect x="531.2" y="203.2" width="32.2" height="13.5" fill="#fa9fb5" stroke="#333" stroke-width="0.75" />
<line x1="531.2" y1="211.3" x2="563.4" y2="211.3" stroke="#1a1a1a" stroke-width="1.4" />
<rect x="475.3" y="140.3" width="99.2" height="105.3" fill="none" stroke="#4a4a4a" stroke-width="0.9" />
<rect x="475.3" y="129.7" width="99.2" height="10.6" fill="#f0f0f0" stroke="#4a4a4a" stroke-width="0.9" />
<text x="524.9" y="137.3" font-size="6.5" text-anchor="middle" fill="#1a1a1a" stroke="#1a1a1a" stroke-width="0.15">CD8+ Activation Effector Func.</text>
<line x1="502.4" y1="149.6" x2="547.3" y2="149.6" stroke="#666" stroke-width="0.7" />
<text x="524.85" y="148" font-size="6.5" text-anchor="middle" fill="#1a1a1a" stroke="#1a1a1a" stroke-width="0.15">p=0.00031</text>
<rect x="577.7" y="140.3" width="100.1" height="105.3" fill="#fff" />
<line x1="604.6" y1="181.2" x2="604.6" y2="207.3" stroke="#333" stroke-width="0.75" />
<line x1="604.6" y1="225.8" x2="604.6" y2="233" stroke="#333" stroke-width="0.75" />
<line x1="604.6" y1="159.5" x2="604.6" y2="181.2" stroke="#111" stroke-width="2.6" stroke-linecap="round" />
<path fill="#111" d="M603.35 159a1.25 1.25 0 1 0 2.5 0a1.25 1.25 0 1 0 -2.5 0"/>
<rect x="588.5" y="207.3" width="32.2" height="18.5" fill="#fde0dd" stroke="#333" stroke-width="0.75" />
<line x1="588.5" y1="221" x2="620.7" y2="221" stroke="#1a1a1a" stroke-width="1.4" />
<line x1="650.3" y1="160.8" x2="650.3" y2="200.7" stroke="#333" stroke-width="0.75" />
<line x1="650.3" y1="227" x2="650.3" y2="232" stroke="#333" stroke-width="0.75" />
<path fill="#111" d="M649.05 157.1a1.25 1.25 0 1 0 2.5 0a1.25 1.25 0 1 0 -2.5 0M649.05 160.2a1.25 1.25 0 1 0 2.5 0a1.25 1.25 0 1 0 -2.5 0"/>
<rect x="634.2" y="200.7" width="32.2" height="26.3" fill="#fa9fb5" stroke="#333" stroke-width="0.75" />
<line x1="634.2" y1="221.4" x2="666.4" y2="221.4" stroke="#1a1a1a" stroke-width="1.4" />
<rect x="577.7" y="140.3" width="100.1" height="105.3" fill="none" stroke="#4a4a4a" stroke-width="0.9" />
<rect x="577.7" y="129.7" width="100.1" height="10.6" fill="#f0f0f0" stroke="#4a4a4a" stroke-width="0.9" />
<text x="627.75" y="137.3" font-size="6.5" text-anchor="middle" fill="#1a1a1a" stroke="#1a1a1a" stroke-width="0.15">CD8+ Cytotoxic</text>
<line x1="604.6" y1="149.6" x2="650.3" y2="149.6" stroke="#666" stroke-width="0.7" />
<text x="627.45" y="148" font-size="6.5" text-anchor="middle" fill="#1a1a1a" stroke="#1a1a1a" stroke-width="0.15">p=0.74</text>
<line x1="370.1" y1="240.8" x2="372.4" y2="240.8" stroke="#333" stroke-width="0.7" />
<text x="369.2" y="243" font-size="6.3" text-anchor="end" fill="#333" stroke="#333" stroke-width="0.15">−0.5</text>
<line x1="370.1" y1="219.5" x2="372.4" y2="219.5" stroke="#333" stroke-width="0.7" />
<text x="369.2" y="221.7" font-size="6.3" text-anchor="end" fill="#333" stroke="#333" stroke-width="0.15">0.0</text>
<line x1="370.1" y1="198.2" x2="372.4" y2="198.2" stroke="#333" stroke-width="0.7" />
<text x="369.2" y="200.4" font-size="6.3" text-anchor="end" fill="#333" stroke="#333" stroke-width="0.15">0.5</text>
<line x1="370.1" y1="176.9" x2="372.4" y2="176.9" stroke="#333" stroke-width="0.7" />
<text x="369.2" y="179.1" font-size="6.3" text-anchor="end" fill="#333" stroke="#333" stroke-width="0.15">1.0</text>
<line x1="370.1" y1="155.6" x2="372.4" y2="155.6" stroke="#333" stroke-width="0.7" />
<text x="369.2" y="157.8" font-size="6.3" text-anchor="end" fill="#333" stroke="#333" stroke-width="0.15">1.5</text>
<line x1="399.5" y1="245.6" x2="399.5" y2="247.8" stroke="#333" stroke-width="0.7" />
<text x="399.5" y="253.6" font-size="6.5" text-anchor="middle" fill="#1a1a1a" stroke="#1a1a1a" stroke-width="0.15">Negative</text>
<line x1="444.6" y1="245.6" x2="444.6" y2="247.8" stroke="#333" stroke-width="0.7" />
<text x="444.6" y="253.6" font-size="6.5" text-anchor="middle" fill="#1a1a1a" stroke="#1a1a1a" stroke-width="0.15">Positive</text>
<line x1="502.4" y1="245.6" x2="502.4" y2="247.8" stroke="#333" stroke-width="0.7" />
<text x="502.4" y="253.6" font-size="6.5" text-anchor="middle" fill="#1a1a1a" stroke="#1a1a1a" stroke-width="0.15">Negative</text>
<line x1="547.3" y1="245.6" x2="547.3" y2="247.8" stroke="#333" stroke-width="0.7" />
<text x="547.3" y="253.6" font-size="6.5" text-anchor="middle" fill="#1a1a1a" stroke="#1a1a1a" stroke-width="0.15">Positive</text>
<line x1="604.6" y1="245.6" x2="604.6" y2="247.8" stroke="#333" stroke-width="0.7" />
<text x="604.6" y="253.6" font-size="6.5" text-anchor="middle" fill="#1a1a1a" stroke="#1a1a1a" stroke-width="0.15">Negative</text>
<line x1="650.3" y1="245.6" x2="650.3" y2="247.8" stroke="#333" stroke-width="0.7" />
<text x="650.3" y="253.6" font-size="6.5" text-anchor="middle" fill="#1a1a1a" stroke="#1a1a1a" stroke-width="0.15">Positive</text>
<text x="353.6" y="133.5" font-size="9.3" text-anchor="middle" transform="rotate(-90 353.6 133.5)" textLength="182" lengthAdjust="spacingAndGlyphs" stroke="#000" stroke-width="0.15">ModuleScore of T−cell Phenotype Signature</text>
<text x="447.9" y="277.9" font-size="8.2" stroke="#000" stroke-width="0.15">MRD Status</text>
<line x1="502.9" y1="268.5" x2="502.9" y2="280.5" stroke="#333" stroke-width="0.7" />
<rect x="497.7" y="270.5" width="10.4" height="8" fill="#fde0dd" stroke="#333" stroke-width="0.7" />
<line x1="497.7" y1="274.5" x2="508.1" y2="274.5" stroke="#1a1a1a" stroke-width="1.1" />
<text x="512.6" y="277.3" font-size="6.5" fill="#1a1a1a" stroke="#1a1a1a" stroke-width="0.15">Negative</text>
<line x1="550.1" y1="268.5" x2="550.1" y2="280.5" stroke="#333" stroke-width="0.7" />
<rect x="544.9" y="270.5" width="10.4" height="8" fill="#fa9fb5" stroke="#333" stroke-width="0.7" />
<line x1="544.9" y1="274.5" x2="555.3" y2="274.5" stroke="#1a1a1a" stroke-width="1.1" />
<text x="559.8" y="277.3" font-size="6.5" fill="#1a1a1a" stroke="#1a1a1a" stroke-width="0.15">Positive</text>
<text x="598.4" y="273.8" font-size="7.7" font-style="italic" stroke="#000" stroke-width="0.15">*patients at dx,</text>
<text x="598.4" y="283.4" font-size="7.7" font-style="italic" stroke="#000" stroke-width="0.15">future status</text>
<rect x="46.2" y="349.7" width="198.4" height="271.6" fill="#fff" />
<line x1="55.58" y1="349.7" x2="55.58" y2="621.3" stroke="#f3f3f3" stroke-width="0.6" />
<line x1="97.95" y1="349.7" x2="97.95" y2="621.3" stroke="#f3f3f3" stroke-width="0.6" />
<line x1="140.31" y1="349.7" x2="140.31" y2="621.3" stroke="#f3f3f3" stroke-width="0.6" />
<line x1="182.69" y1="349.7" x2="182.69" y2="621.3" stroke="#f3f3f3" stroke-width="0.6" />
<line x1="225.06" y1="349.7" x2="225.06" y2="621.3" stroke="#f3f3f3" stroke-width="0.6" />
<line x1="46.2" y1="567.97" x2="244.6" y2="567.97" stroke="#f3f3f3" stroke-width="0.6" />
<line x1="46.2" y1="485.5" x2="244.6" y2="485.5" stroke="#f3f3f3" stroke-width="0.6" />
<line x1="46.2" y1="403.03" x2="244.6" y2="403.03" stroke="#f3f3f3" stroke-width="0.6" />
<line x1="76.76" y1="349.7" x2="76.76" y2="621.3" stroke="#ebebeb" stroke-width="1" />
<line x1="119.13" y1="349.7" x2="119.13" y2="621.3" stroke="#ebebeb" stroke-width="1" />
<line x1="161.5" y1="349.7" x2="161.5" y2="621.3" stroke="#ebebeb" stroke-width="1" />
<line x1="203.87" y1="349.7" x2="203.87" y2="621.3" stroke="#ebebeb" stroke-width="1" />
<line x1="46.2" y1="609.2" x2="244.6" y2="609.2" stroke="#ebebeb" stroke-width="1" />
<line x1="46.2" y1="526.73" x2="244.6" y2="526.73" stroke="#ebebeb" stroke-width="1" />
<line x1="46.2" y1="444.26" x2="244.6" y2="444.26" stroke="#ebebeb" stroke-width="1" />
<line x1="46.2" y1="361.79" x2="244.6" y2="361.79" stroke="#ebebeb" stroke-width="1" />
<path fill="#bebebe" d="M140.5 610.3L140.5 583L143 582.5L146 585L149 589L152 595L155 601L158 605.5L160.5 606L162.5 603L163.2 595L164.2 584L165.5 575L167 567L169.5 559L172.5 553L176 549L179.5 546.5L182.7 545L182.7 610.3Z" />
<path fill="#bebebe" d="M178.15 568.32a1.35 1.35 0 1 0 2.7 0a1.35 1.35 0 1 0 -2.7 0M173.32 586.09a1.35 1.35 0 1 0 2.7 0a1.35 1.35 0 1 0 -2.7 0M180.6 607.25a1.35 1.35 0 1 0 2.7 0a1.35 1.35 0 1 0 -2.7 0M139.78 573.21a1.35 1.35 0 1 0 2.7 0a1.35 1.35 0 1 0 -2.7 0M161.06 581.94a1.35 1.35 0 1 0 2.7 0a1.35 1.35 0 1 0 -2.7 0M167.11 567.67a1.35 1.35 0 1 0 2.7 0a1.35 1.35 0 1 0 -2.7 0M181.25 609.66a1.35 1.35 0 1 0 2.7 0a1.35 1.35 0 1 0 -2.7 0M169.02 556.59a1.35 1.35 0 1 0 2.7 0a1.35 1.35 0 1 0 -2.7 0M155.46 606.73a1.35 1.35 0 1 0 2.7 0a1.35 1.35 0 1 0 -2.7 0M165.71 592.72a1.35 1.35 0 1 0 2.7 0a1.35 1.35 0 1 0 -2.7 0M179.83 591.13a1.35 1.35 0 1 0 2.7 0a1.35 1.35 0 1 0 -2.7 0M141.68 594.17a1.35 1.35 0 1 0 2.7 0a1.35 1.35 0 1 0 -2.7 0M162.75 566.9a1.35 1.35 0 1 0 2.7 0a1.35 1.35 0 1 0 -2.7 0M150.54 607.73a1.35 1.35 0 1 0 2.7 0a1.35 1.35 0 1 0 -2.7 0M151.98 601.02a1.35 1.35 0 1 0 2.7 0a1.35 1.35 0 1 0 -2.7 0M155.79 598.64a1.35 1.35 0 1 0 2.7 0a1.35 1.35 0 1 0 -2.7 0M143.38 609.17a1.35 1.35 0 1 0 2.7 0a1.35 1.35 0 1 0 -2.7 0M150.05 592.27a1.35 1.35 0 1 0 2.7 0a1.35 1.35 0 1 0 -2.7 0M142.95 577.45a1.35 1.35 0 1 0 2.7 0a1.35 1.35 0 1 0 -2.7 0M164.52 560.99a1.35 1.35 0 1 0 2.7 0a1.35 1.35 0 1 0 -2.7 0M179.63 569.73a1.35 1.35 0 1 0 2.7 0a1.35 1.35 0 1 0 -2.7 0M175.72 546.26a1.35 1.35 0 1 0 2.7 0a1.35 1.35 0 1 0 -2.7 0M177.49 595.79a1.35 1.35 0 1 0 2.7 0a1.35 1.35 0 1 0 -2.7 0M147.45 606.11a1.35 1.35 0 1 0 2.7 0a1.35 1.35 0 1 0 -2.7 0M164.62 564.87a1.35 1.35 0 1 0 2.7 0a1.35 1.35 0 1 0 -2.7 0M140.78 607.09a1.35 1.35 0 1 0 2.7 0a1.35 1.35 0 1 0 -2.7 0M146.55 588.19a1.35 1.35 0 1 0 2.7 0a1.35 1.35 0 1 0 -2.7 0M175.12 579.92a1.35 1.35 0 1 0 2.7 0a1.35 1.35 0 1 0 -2.7 0M177.86 547.91a1.35 1.35 0 1 0 2.7 0a1.35 1.35 0 1 0 -2.7 0M176.75 608.48a1.35 1.35 0 1 0 2.7 0a1.35 1.35 0 1 0 -2.7 0M168.32 577.59a1.35 1.35 0 1 0 2.7 0a1.35 1.35 0 1 0 -2.7 0M140.05 581.62a1.35 1.35 0 1 0 2.7 0a1.35 1.35 0 1 0 -2.7 0M177.14 589.49a1.35 1.35 0 1 0 2.7 0a1.35 1.35 0 1 0 -2.7 0M172.63 603.37a1.35 1.35 0 1 0 2.7 0a1.35 1.35 0 1 0 -2.7 0M168.06 602.27a1.35 1.35 0 1 0 2.7 0a1.35 1.35 0 1 0 -2.7 0M175.59 576.68a1.35 1.35 0 1 0 2.7 0a1.35 1.35 0 1 0 -2.7 0M166.13 609.48a1.35 1.35 0 1 0 2.7 0a1.35 1.35 0 1 0 -2.7 0M142.69 590.52a1.35 1.35 0 1 0 2.7 0a1.35 1.35 0 1 0 -2.7 0M164.52 569.51a1.35 1.35 0 1 0 2.7 0a1.35 1.35 0 1 0 -2.7 0M168.62 570.79a1.35 1.35 0 1 0 2.7 0a1.35 1.35 0 1 0 -2.7 0M177.99 551.95a1.35 1.35 0 1 0 2.7 0a1.35 1.35 0 1 0 -2.7 0M177.37 583.48a1.35 1.35 0 1 0 2.7 0a1.35 1.35 0 1 0 -2.7 0M173.16 603.31a1.35 1.35 0 1 0 2.7 0a1.35 1.35 0 1 0 -2.7 0M160.1 597.29a1.35 1.35 0 1 0 2.7 0a1.35 1.35 0 1 0 -2.7 0M169.16 606.1a1.35 1.35 0 1 0 2.7 0a1.35 1.35 0 1 0 -2.7 0M174.56 608.6a1.35 1.35 0 1 0 2.7 0a1.35 1.35 0 1 0 -2.7 0M169.05 576.51a1.35 1.35 0 1 0 2.7 0a1.35 1.35 0 1 0 -2.7 0M140.19 596.71a1.35 1.35 0 1 0 2.7 0a1.35 1.35 0 1 0 -2.7 0M166.23 587.98a1.35 1.35 0 1 0 2.7 0a1.35 1.35 0 1 0 -2.7 0M177.13 608.48a1.35 1.35 0 1 0 2.7 0a1.35 1.35 0 1 0 -2.7 0M161.81 593.68a1.35 1.35 0 1 0 2.7 0a1.35 1.35 0 1 0 -2.7 0M177.55 598.75a1.35 1.35 0 1 0 2.7 0a1.35 1.35 0 1 0 -2.7 0M162.37 591.92a1.35 1.35 0 1 0 2.7 0a1.35 1.35 0 1 0 -2.7 0M140.35 595.11a1.35 1.35 0 1 0 2.7 0a1.35 1.35 0 1 0 -2.7 0M172.9 545.49a1.35 1.35 0 1 0 2.7 0a1.35 1.35 0 1 0 -2.7 0M172.4 542.96a1.35 1.35 0 1 0 2.7 0a1.35 1.35 0 1 0 -2.7 0M168.24 605.77a1.35 1.35 0 1 0 2.7 0a1.35 1.35 0 1 0 -2.7 0M179.2 538.71a1.35 1.35 0 1 0 2.7 0a1.35 1.35 0 1 0 -2.7 0M169.91 581.83a1.35 1.35 0 1 0 2.7 0a1.35 1.35 0 1 0 -2.7 0M174.75 575.68a1.35 1.35 0 1 0 2.7 0a1.35 1.35 0 1 0 -2.7 0M140.32 607.61a1.35 1.35 0 1 0 2.7 0a1.35 1.35 0 1 0 -2.7 0M141.93 574.02a1.35 1.35 0 1 0 2.7 0a1.35 1.35 0 1 0 -2.7 0M179.53 604.03a1.35 1.35 0 1 0 2.7 0a1.35 1.35 0 1 0 -2.7 0M177.15 569.17a1.35 1.35 0 1 0 2.7 0a1.35 1.35 0 1 0 -2.7 0M144.61 592.78a1.35 1.35 0 1 0 2.7 0a1.35 1.35 0 1 0 -2.7 0M168.14 557.12a1.35 1.35 0 1 0 2.7 0a1.35 1.35 0 1 0 -2.7 0M165.79 581.8a1.35 1.35 0 1 0 2.7 0a1.35 1.35 0 1 0 -2.7 0M148.97 589.78a1.35 1.35 0 1 0 2.7 0a1.35 1.35 0 1 0 -2.7 0M177.24 556.64a1.35 1.35 0 1 0 2.7 0a1.35 1.35 0 1 0 -2.7 0M176.6 542.45a1.35 1.35 0 1 0 2.7 0a1.35 1.35 0 1 0 -2.7 0M169.81 552.24a1.35 1.35 0 1 0 2.7 0a1.35 1.35 0 1 0 -2.7 0M162.43 572.16a1.35 1.35 0 1 0 2.7 0a1.35 1.35 0 1 0 -2.7 0M178.26 539.43a1.35 1.35 0 1 0 2.7 0a1.35 1.35 0 1 0 -2.7 0M168.73 597.85a1.35 1.35 0 1 0 2.7 0a1.35 1.35 0 1 0 -2.7 0M139.8 601.67a1.35 1.35 0 1 0 2.7 0a1.35 1.35 0 1 0 -2.7 0M168.89 599.14a1.35 1.35 0 1 0 2.7 0a1.35 1.35 0 1 0 -2.7 0M160.43 608.65a1.35 1.35 0 1 0 2.7 0a1.35 1.35 0 1 0 -2.7 0M150.05 603.08a1.35 1.35 0 1 0 2.7 0a1.35 1.35 0 1 0 -2.7 0M171.98 595.54a1.35 1.35 0 1 0 2.7 0a1.35 1.35 0 1 0 -2.7 0M176.98 600.63a1.35 1.35 0 1 0 2.7 0a1.35 1.35 0 1 0 -2.7 0M171.53 591.69a1.35 1.35 0 1 0 2.7 0a1.35 1.35 0 1 0 -2.7 0M166.1 580.67a1.35 1.35 0 1 0 2.7 0a1.35 1.35 0 1 0 -2.7 0M179.02 583.96a1.35 1.35 0 1 0 2.7 0a1.35 1.35 0 1 0 -2.7 0M166.99 576.43a1.35 1.35 0 1 0 2.7 0a1.35 1.35 0 1 0 -2.7 0M155.59 609.99a1.35 1.35 0 1 0 2.7 0a1.35 1.35 0 1 0 -2.7 0M149.74 602.64a1.35 1.35 0 1 0 2.7 0a1.35 1.35 0 1 0 -2.7 0M160.58 607.44a1.35 1.35 0 1 0 2.7 0a1.35 1.35 0 1 0 -2.7 0M141.05 604.55a1.35 1.35 0 1 0 2.7 0a1.35 1.35 0 1 0 -2.7 0M141.62 605.73a1.35 1.35 0 1 0 2.7 0a1.35 1.35 0 1 0 -2.7 0M161.38 578.63a1.35 1.35 0 1 0 2.7 0a1.35 1.35 0 1 0 -2.7 0M169.39 555.09a1.35 1.35 0 1 0 2.7 0a1.35 1.35 0 1 0 -2.7 0M145.76 590.86a1.35 1.35 0 1 0 2.7 0a1.35 1.35 0 1 0 -2.7 0M177.03 590.37a1.35 1.35 0 1 0 2.7 0a1.35 1.35 0 1 0 -2.7 0M180.88 605.67a1.35 1.35 0 1 0 2.7 0a1.35 1.35 0 1 0 -2.7 0M177.36 565.5a1.35 1.35 0 1 0 2.7 0a1.35 1.35 0 1 0 -2.7 0M178.7 588.37a1.35 1.35 0 1 0 2.7 0a1.35 1.35 0 1 0 -2.7 0M180.46 595.7a1.35 1.35 0 1 0 2.7 0a1.35 1.35 0 1 0 -2.7 0M144.01 580.69a1.35 1.35 0 1 0 2.7 0a1.35 1.35 0 1 0 -2.7 0M161.55 609.82a1.35 1.35 0 1 0 2.7 0a1.35 1.35 0 1 0 -2.7 0M170.14 550.6a1.35 1.35 0 1 0 2.7 0a1.35 1.35 0 1 0 -2.7 0M176.82 593.18a1.35 1.35 0 1 0 2.7 0a1.35 1.35 0 1 0 -2.7 0M168.06 576.06a1.35 1.35 0 1 0 2.7 0a1.35 1.35 0 1 0 -2.7 0M165.87 590.76a1.35 1.35 0 1 0 2.7 0a1.35 1.35 0 1 0 -2.7 0M149.66 608.42a1.35 1.35 0 1 0 2.7 0a1.35 1.35 0 1 0 -2.7 0M143.47 574.25a1.35 1.35 0 1 0 2.7 0a1.35 1.35 0 1 0 -2.7 0M142.8 584.75a1.35 1.35 0 1 0 2.7 0a1.35 1.35 0 1 0 -2.7 0M165.78 561.11a1.35 1.35 0 1 0 2.7 0a1.35 1.35 0 1 0 -2.7 0M170.58 597.41a1.35 1.35 0 1 0 2.7 0a1.35 1.35 0 1 0 -2.7 0M144.21 595.12a1.35 1.35 0 1 0 2.7 0a1.35 1.35 0 1 0 -2.7 0M171.59 548.63a1.35 1.35 0 1 0 2.7 0a1.35 1.35 0 1 0 -2.7 0M150.04 595.17a1.35 1.35 0 1 0 2.7 0a1.35 1.35 0 1 0 -2.7 0M166.73 609.16a1.35 1.35 0 1 0 2.7 0a1.35 1.35 0 1 0 -2.7 0M143.24 600.26a1.35 1.35 0 1 0 2.7 0a1.35 1.35 0 1 0 -2.7 0M142.65 576.01a1.35 1.35 0 1 0 2.7 0a1.35 1.35 0 1 0 -2.7 0M151.97 588.55a1.35 1.35 0 1 0 2.7 0a1.35 1.35 0 1 0 -2.7 0M178.82 603.24a1.35 1.35 0 1 0 2.7 0a1.35 1.35 0 1 0 -2.7 0M173.04 555.77a1.35 1.35 0 1 0 2.7 0a1.35 1.35 0 1 0 -2.7 0M156.01 604.9a1.35 1.35 0 1 0 2.7 0a1.35 1.35 0 1 0 -2.7 0M171.18 600.71a1.35 1.35 0 1 0 2.7 0a1.35 1.35 0 1 0 -2.7 0M140.09 572.22a1.35 1.35 0 1 0 2.7 0a1.35 1.35 0 1 0 -2.7 0M163.1 607.38a1.35 1.35 0 1 0 2.7 0a1.35 1.35 0 1 0 -2.7 0M162.23 593.47a1.35 1.35 0 1 0 2.7 0a1.35 1.35 0 1 0 -2.7 0M142.72 581.46a1.35 1.35 0 1 0 2.7 0a1.35 1.35 0 1 0 -2.7 0M170.62 582.62a1.35 1.35 0 1 0 2.7 0a1.35 1.35 0 1 0 -2.7 0M148.45 591.7a1.35 1.35 0 1 0 2.7 0a1.35 1.35 0 1 0 -2.7 0M171.42 562.76a1.35 1.35 0 1 0 2.7 0a1.35 1.35 0 1 0 -2.7 0M180.01 584.45a1.35 1.35 0 1 0 2.7 0a1.35 1.35 0 1 0 -2.7 0M161.83 588.23a1.35 1.35 0 1 0 2.7 0a1.35 1.35 0 1 0 -2.7 0M167.29 598.57a1.35 1.35 0 1 0 2.7 0a1.35 1.35 0 1 0 -2.7 0M173.01 564.89a1.35 1.35 0 1 0 2.7 0a1.35 1.35 0 1 0 -2.7 0M151.47 607.64a1.35 1.35 0 1 0 2.7 0a1.35 1.35 0 1 0 -2.7 0M166.49 592.52a1.35 1.35 0 1 0 2.7 0a1.35 1.35 0 1 0 -2.7 0M163.8 602.93a1.35 1.35 0 1 0 2.7 0a1.35 1.35 0 1 0 -2.7 0M169.42 578.39a1.35 1.35 0 1 0 2.7 0a1.35 1.35 0 1 0 -2.7 0M146.43 591.09a1.35 1.35 0 1 0 2.7 0a1.35 1.35 0 1 0 -2.7 0M162.29 595.74a1.35 1.35 0 1 0 2.7 0a1.35 1.35 0 1 0 -2.7 0M150.14 601.22a1.35 1.35 0 1 0 2.7 0a1.35 1.35 0 1 0 -2.7 0M179.54 569.64a1.35 1.35 0 1 0 2.7 0a1.35 1.35 0 1 0 -2.7 0M141.25 605.91a1.35 1.35 0 1 0 2.7 0a1.35 1.35 0 1 0 -2.7 0M180.94 583.29a1.35 1.35 0 1 0 2.7 0a1.35 1.35 0 1 0 -2.7 0M154.83 594.15a1.35 1.35 0 1 0 2.7 0a1.35 1.35 0 1 0 -2.7 0M150.1 599.8a1.35 1.35 0 1 0 2.7 0a1.35 1.35 0 1 0 -2.7 0M166.03 609.46a1.35 1.35 0 1 0 2.7 0a1.35 1.35 0 1 0 -2.7 0M173.81 598a1.35 1.35 0 1 0 2.7 0a1.35 1.35 0 1 0 -2.7 0M151.96 593.57a1.35 1.35 0 1 0 2.7 0a1.35 1.35 0 1 0 -2.7 0M174.26 556.29a1.35 1.35 0 1 0 2.7 0a1.35 1.35 0 1 0 -2.7 0M158.64 607.42a1.35 1.35 0 1 0 2.7 0a1.35 1.35 0 1 0 -2.7 0M181 594.36a1.35 1.35 0 1 0 2.7 0a1.35 1.35 0 1 0 -2.7 0M162.9 588.46a1.35 1.35 0 1 0 2.7 0a1.35 1.35 0 1 0 -2.7 0M174.04 539.2a1.35 1.35 0 1 0 2.7 0a1.35 1.35 0 1 0 -2.7 0M143.13 584.86a1.35 1.35 0 1 0 2.7 0a1.35 1.35 0 1 0 -2.7 0M174.47 578.23a1.35 1.35 0 1 0 2.7 0a1.35 1.35 0 1 0 -2.7 0M142.22 603.81a1.35 1.35 0 1 0 2.7 0a1.35 1.35 0 1 0 -2.7 0M171.51 596.05a1.35 1.35 0 1 0 2.7 0a1.35 1.35 0 1 0 -2.7 0M168.68 608.59a1.35 1.35 0 1 0 2.7 0a1.35 1.35 0 1 0 -2.7 0M167.01 579.47a1.35 1.35 0 1 0 2.7 0a1.35 1.35 0 1 0 -2.7 0M172.43 596.36a1.35 1.35 0 1 0 2.7 0a1.35 1.35 0 1 0 -2.7 0M169.26 608.97a1.35 1.35 0 1 0 2.7 0a1.35 1.35 0 1 0 -2.7 0M169.34 597.17a1.35 1.35 0 1 0 2.7 0a1.35 1.35 0 1 0 -2.7 0M179.02 580.91a1.35 1.35 0 1 0 2.7 0a1.35 1.35 0 1 0 -2.7 0M163.48 586.37a1.35 1.35 0 1 0 2.7 0a1.35 1.35 0 1 0 -2.7 0M178.36 560.17a1.35 1.35 0 1 0 2.7 0a1.35 1.35 0 1 0 -2.7 0M144.38 607.94a1.35 1.35 0 1 0 2.7 0a1.35 1.35 0 1 0 -2.7 0M177.3 574.39a1.35 1.35 0 1 0 2.7 0a1.35 1.35 0 1 0 -2.7 0M177.52 609.39a1.35 1.35 0 1 0 2.7 0a1.35 1.35 0 1 0 -2.7 0M146.75 608.99a1.35 1.35 0 1 0 2.7 0a1.35 1.35 0 1 0 -2.7 0M179.63 578.81a1.35 1.35 0 1 0 2.7 0a1.35 1.35 0 1 0 -2.7 0M168.24 591.13a1.35 1.35 0 1 0 2.7 0a1.35 1.35 0 1 0 -2.7 0M159.65 609.58a1.35 1.35 0 1 0 2.7 0a1.35 1.35 0 1 0 -2.7 0M175.23 563.9a1.35 1.35 0 1 0 2.7 0a1.35 1.35 0 1 0 -2.7 0M163.03 602.61a1.35 1.35 0 1 0 2.7 0a1.35 1.35 0 1 0 -2.7 0M177.31 557.01a1.35 1.35 0 1 0 2.7 0a1.35 1.35 0 1 0 -2.7 0M169.77 602.21a1.35 1.35 0 1 0 2.7 0a1.35 1.35 0 1 0 -2.7 0M164.37 590.65a1.35 1.35 0 1 0 2.7 0a1.35 1.35 0 1 0 -2.7 0M141.34 586.2a1.35 1.35 0 1 0 2.7 0a1.35 1.35 0 1 0 -2.7 0M167.24 599.59a1.35 1.35 0 1 0 2.7 0a1.35 1.35 0 1 0 -2.7 0M163.07 602.47a1.35 1.35 0 1 0 2.7 0a1.35 1.35 0 1 0 -2.7 0M176.92 595.6a1.35 1.35 0 1 0 2.7 0a1.35 1.35 0 1 0 -2.7 0M177.07 556.01a1.35 1.35 0 1 0 2.7 0a1.35 1.35 0 1 0 -2.7 0M178.56 608.23a1.35 1.35 0 1 0 2.7 0a1.35 1.35 0 1 0 -2.7 0M178.09 601.95a1.35 1.35 0 1 0 2.7 0a1.35 1.35 0 1 0 -2.7 0M174.51 559.62a1.35 1.35 0 1 0 2.7 0a1.35 1.35 0 1 0 -2.7 0M147.67 581.33a1.35 1.35 0 1 0 2.7 0a1.35 1.35 0 1 0 -2.7 0M176.29 535.9a1.35 1.35 0 1 0 2.7 0a1.35 1.35 0 1 0 -2.7 0M175.85 587.63a1.35 1.35 0 1 0 2.7 0a1.35 1.35 0 1 0 -2.7 0M168.52 605.15a1.35 1.35 0 1 0 2.7 0a1.35 1.35 0 1 0 -2.7 0M152.11 587.42a1.35 1.35 0 1 0 2.7 0a1.35 1.35 0 1 0 -2.7 0M167.2 593.66a1.35 1.35 0 1 0 2.7 0a1.35 1.35 0 1 0 -2.7 0M167.09 600.99a1.35 1.35 0 1 0 2.7 0a1.35 1.35 0 1 0 -2.7 0M178.26 584.03a1.35 1.35 0 1 0 2.7 0a1.35 1.35 0 1 0 -2.7 0M180.63 566.35a1.35 1.35 0 1 0 2.7 0a1.35 1.35 0 1 0 -2.7 0M149.74 594.65a1.35 1.35 0 1 0 2.7 0a1.35 1.35 0 1 0 -2.7 0M151.18 590.94a1.35 1.35 0 1 0 2.7 0a1.35 1.35 0 1 0 -2.7 0M162.61 582.31a1.35 1.35 0 1 0 2.7 0a1.35 1.35 0 1 0 -2.7 0M166.93 593.07a1.35 1.35 0 1 0 2.7 0a1.35 1.35 0 1 0 -2.7 0M160.49 597.94a1.35 1.35 0 1 0 2.7 0a1.35 1.35 0 1 0 -2.7 0M161.12 606.22a1.35 1.35 0 1 0 2.7 0a1.35 1.35 0 1 0 -2.7 0M171.77 593.35a1.35 1.35 0 1 0 2.7 0a1.35 1.35 0 1 0 -2.7 0M164.34 587.75a1.35 1.35 0 1 0 2.7 0a1.35 1.35 0 1 0 -2.7 0M175.99 546.04a1.35 1.35 0 1 0 2.7 0a1.35 1.35 0 1 0 -2.7 0M139.9 570.7a1.35 1.35 0 1 0 2.7 0a1.35 1.35 0 1 0 -2.7 0M177.44 576.37a1.35 1.35 0 1 0 2.7 0a1.35 1.35 0 1 0 -2.7 0M172.56 550.56a1.35 1.35 0 1 0 2.7 0a1.35 1.35 0 1 0 -2.7 0M173.78 545.38a1.35 1.35 0 1 0 2.7 0a1.35 1.35 0 1 0 -2.7 0M148.28 607.7a1.35 1.35 0 1 0 2.7 0a1.35 1.35 0 1 0 -2.7 0M149.3 601.43a1.35 1.35 0 1 0 2.7 0a1.35 1.35 0 1 0 -2.7 0M140.6 609.7a1.35 1.35 0 1 0 2.7 0a1.35 1.35 0 1 0 -2.7 0M170.13 549.93a1.35 1.35 0 1 0 2.7 0a1.35 1.35 0 1 0 -2.7 0M158.63 604.73a1.35 1.35 0 1 0 2.7 0a1.35 1.35 0 1 0 -2.7 0M153.37 608.54a1.35 1.35 0 1 0 2.7 0a1.35 1.35 0 1 0 -2.7 0M142.22 585.93a1.35 1.35 0 1 0 2.7 0a1.35 1.35 0 1 0 -2.7 0M155.73 604.04a1.35 1.35 0 1 0 2.7 0a1.35 1.35 0 1 0 -2.7 0M145.63 605.06a1.35 1.35 0 1 0 2.7 0a1.35 1.35 0 1 0 -2.7 0M169.23 563.61a1.35 1.35 0 1 0 2.7 0a1.35 1.35 0 1 0 -2.7 0M175.69 549.63a1.35 1.35 0 1 0 2.7 0a1.35 1.35 0 1 0 -2.7 0M167.28 606.5a1.35 1.35 0 1 0 2.7 0a1.35 1.35 0 1 0 -2.7 0M149.05 581.34a1.35 1.35 0 1 0 2.7 0a1.35 1.35 0 1 0 -2.7 0M146.19 583.89a1.35 1.35 0 1 0 2.7 0a1.35 1.35 0 1 0 -2.7 0M163.74 586.71a1.35 1.35 0 1 0 2.7 0a1.35 1.35 0 1 0 -2.7 0M163.87 568.58a1.35 1.35 0 1 0 2.7 0a1.35 1.35 0 1 0 -2.7 0M153.8 601.56a1.35 1.35 0 1 0 2.7 0a1.35 1.35 0 1 0 -2.7 0M150.2 584.11a1.35 1.35 0 1 0 2.7 0a1.35 1.35 0 1 0 -2.7 0M178.92 592.17a1.35 1.35 0 1 0 2.7 0a1.35 1.35 0 1 0 -2.7 0M165.35 564.05a1.35 1.35 0 1 0 2.7 0a1.35 1.35 0 1 0 -2.7 0M150.8 596.71a1.35 1.35 0 1 0 2.7 0a1.35 1.35 0 1 0 -2.7 0M155.27 602.95a1.35 1.35 0 1 0 2.7 0a1.35 1.35 0 1 0 -2.7 0M180.38 543.69a1.35 1.35 0 1 0 2.7 0a1.35 1.35 0 1 0 -2.7 0M148.79 585.05a1.35 1.35 0 1 0 2.7 0a1.35 1.35 0 1 0 -2.7 0M139.19 574.42a1.35 1.35 0 1 0 2.7 0a1.35 1.35 0 1 0 -2.7 0M166.59 574.75a1.35 1.35 0 1 0 2.7 0a1.35 1.35 0 1 0 -2.7 0M170.76 573.65a1.35 1.35 0 1 0 2.7 0a1.35 1.35 0 1 0 -2.7 0M175.71 599.85a1.35 1.35 0 1 0 2.7 0a1.35 1.35 0 1 0 -2.7 0M149.78 587.83a1.35 1.35 0 1 0 2.7 0a1.35 1.35 0 1 0 -2.7 0M174.11 576.26a1.35 1.35 0 1 0 2.7 0a1.35 1.35 0 1 0 -2.7 0M172.96 541.77a1.35 1.35 0 1 0 2.7 0a1.35 1.35 0 1 0 -2.7 0M167.4 550.02a1.35 1.35 0 1 0 2.7 0a1.35 1.35 0 1 0 -2.7 0M141.21 587.63a1.35 1.35 0 1 0 2.7 0a1.35 1.35 0 1 0 -2.7 0M170.01 609.5a1.35 1.35 0 1 0 2.7 0a1.35 1.35 0 1 0 -2.7 0M172.93 597.42a1.35 1.35 0 1 0 2.7 0a1.35 1.35 0 1 0 -2.7 0M171.45 608.52a1.35 1.35 0 1 0 2.7 0a1.35 1.35 0 1 0 -2.7 0M143.67 604.82a1.35 1.35 0 1 0 2.7 0a1.35 1.35 0 1 0 -2.7 0M176.82 556.13a1.35 1.35 0 1 0 2.7 0a1.35 1.35 0 1 0 -2.7 0M173.21 562.88a1.35 1.35 0 1 0 2.7 0a1.35 1.35 0 1 0 -2.7 0M162.38 583.24a1.35 1.35 0 1 0 2.7 0a1.35 1.35 0 1 0 -2.7 0M150.84 605.23a1.35 1.35 0 1 0 2.7 0a1.35 1.35 0 1 0 -2.7 0M169.74 545.72a1.35 1.35 0 1 0 2.7 0a1.35 1.35 0 1 0 -2.7 0M170.95 556.18a1.35 1.35 0 1 0 2.7 0a1.35 1.35 0 1 0 -2.7 0M161.4 595.19a1.35 1.35 0 1 0 2.7 0a1.35 1.35 0 1 0 -2.7 0M143.41 606.13a1.35 1.35 0 1 0 2.7 0a1.35 1.35 0 1 0 -2.7 0M140.14 576.99a1.35 1.35 0 1 0 2.7 0a1.35 1.35 0 1 0 -2.7 0M166.87 595.24a1.35 1.35 0 1 0 2.7 0a1.35 1.35 0 1 0 -2.7 0M166.07 559.62a1.35 1.35 0 1 0 2.7 0a1.35 1.35 0 1 0 -2.7 0M177.35 557.09a1.35 1.35 0 1 0 2.7 0a1.35 1.35 0 1 0 -2.7 0M153.28 589.85a1.35 1.35 0 1 0 2.7 0a1.35 1.35 0 1 0 -2.7 0M170.51 574.61a1.35 1.35 0 1 0 2.7 0a1.35 1.35 0 1 0 -2.7 0M152.69 590.82a1.35 1.35 0 1 0 2.7 0a1.35 1.35 0 1 0 -2.7 0M168.95 545.87a1.35 1.35 0 1 0 2.7 0a1.35 1.35 0 1 0 -2.7 0M167.73 605.92a1.35 1.35 0 1 0 2.7 0a1.35 1.35 0 1 0 -2.7 0M175.29 581.03a1.35 1.35 0 1 0 2.7 0a1.35 1.35 0 1 0 -2.7 0M174.49 585.81a1.35 1.35 0 1 0 2.7 0a1.35 1.35 0 1 0 -2.7 0M167.85 459.3a1.35 1.35 0 1 0 2.7 0a1.35 1.35 0 1 0 -2.7 0M175.95 479.8a1.35 1.35 0 1 0 2.7 0a1.35 1.35 0 1 0 -2.7 0M158.75 483a1.35 1.35 0 1 0 2.7 0a1.35 1.35 0 1 0 -2.7 0M170.25 512.3a1.35 1.35 0 1 0 2.7 0a1.35 1.35 0 1 0 -2.7 0M170.75 531.2a1.35 1.35 0 1 0 2.7 0a1.35 1.35 0 1 0 -2.7 0M177.55 538.8a1.35 1.35 0 1 0 2.7 0a1.35 1.35 0 1 0 -2.7 0M170.75 530.8a1.35 1.35 0 1 0 2.7 0a1.35 1.35 0 1 0 -2.7 0M177.15 540.4a1.35 1.35 0 1 0 2.7 0a1.35 1.35 0 1 0 -2.7 0M169.95 546.1a1.35 1.35 0 1 0 2.7 0a1.35 1.35 0 1 0 -2.7 0M174.75 544.5a1.35 1.35 0 1 0 2.7 0a1.35 1.35 0 1 0 -2.7 0M171.55 554.1a1.35 1.35 0 1 0 2.7 0a1.35 1.35 0 1 0 -2.7 0M177.15 550.9a1.35 1.35 0 1 0 2.7 0a1.35 1.35 0 1 0 -2.7 0M162.75 579.8a1.35 1.35 0 1 0 2.7 0a1.35 1.35 0 1 0 -2.7 0M161.15 593.4a1.35 1.35 0 1 0 2.7 0a1.35 1.35 0 1 0 -2.7 0M142.55 543.6a1.35 1.35 0 1 0 2.7 0a1.35 1.35 0 1 0 -2.7 0M141.55 555.3a1.35 1.35 0 1 0 2.7 0a1.35 1.35 0 1 0 -2.7 0M143.05 565.5a1.35 1.35 0 1 0 2.7 0a1.35 1.35 0 1 0 -2.7 0M144.05 569.6a1.35 1.35 0 1 0 2.7 0a1.35 1.35 0 1 0 -2.7 0M88.65 609.6a1.35 1.35 0 1 0 2.7 0a1.35 1.35 0 1 0 -2.7 0M102.55 609.6a1.35 1.35 0 1 0 2.7 0a1.35 1.35 0 1 0 -2.7 0M173.65 520a1.35 1.35 0 1 0 2.7 0a1.35 1.35 0 1 0 -2.7 0M178.65 527a1.35 1.35 0 1 0 2.7 0a1.35 1.35 0 1 0 -2.7 0M173.15 538a1.35 1.35 0 1 0 2.7 0a1.35 1.35 0 1 0 -2.7 0"/>
<path fill="#0b3268" d="M53.9 361.7a1.5 1.5 0 1 0 3 0a1.5 1.5 0 1 0 -3 0M96.5 392.8a1.5 1.5 0 1 0 3 0a1.5 1.5 0 1 0 -3 0M122.8 389.1a1.5 1.5 0 1 0 3 0a1.5 1.5 0 1 0 -3 0M76.1 402a1.5 1.5 0 1 0 3 0a1.5 1.5 0 1 0 -3 0M76.8 417.4a1.5 1.5 0 1 0 3 0a1.5 1.5 0 1 0 -3 0M54.8 425.5a1.5 1.5 0 1 0 3 0a1.5 1.5 0 1 0 -3 0M66.3 428.8a1.5 1.5 0 1 0 3 0a1.5 1.5 0 1 0 -3 0M79.3 433.2a1.5 1.5 0 1 0 3 0a1.5 1.5 0 1 0 -3 0M115.8 429.1a1.5 1.5 0 1 0 3 0a1.5 1.5 0 1 0 -3 0M67.3 442.5a1.5 1.5 0 1 0 3 0a1.5 1.5 0 1 0 -3 0M75.8 445.3a1.5 1.5 0 1 0 3 0a1.5 1.5 0 1 0 -3 0M88.9 441.2a1.5 1.5 0 1 0 3 0a1.5 1.5 0 1 0 -3 0M118.9 444.2a1.5 1.5 0 1 0 3 0a1.5 1.5 0 1 0 -3 0M130.8 446.5a1.5 1.5 0 1 0 3 0a1.5 1.5 0 1 0 -3 0M132.3 442a1.5 1.5 0 1 0 3 0a1.5 1.5 0 1 0 -3 0M107.8 453.1a1.5 1.5 0 1 0 3 0a1.5 1.5 0 1 0 -3 0M126.4 455.3a1.5 1.5 0 1 0 3 0a1.5 1.5 0 1 0 -3 0M126.4 460.9a1.5 1.5 0 1 0 3 0a1.5 1.5 0 1 0 -3 0M130.4 463.4a1.5 1.5 0 1 0 3 0a1.5 1.5 0 1 0 -3 0M78.7 463.1a1.5 1.5 0 1 0 3 0a1.5 1.5 0 1 0 -3 0M124.3 469.5a1.5 1.5 0 1 0 3 0a1.5 1.5 0 1 0 -3 0M104.3 476.1a1.5 1.5 0 1 0 3 0a1.5 1.5 0 1 0 -3 0M123.5 479.4a1.5 1.5 0 1 0 3 0a1.5 1.5 0 1 0 -3 0M134.5 478a1.5 1.5 0 1 0 3 0a1.5 1.5 0 1 0 -3 0M94.3 481.6a1.5 1.5 0 1 0 3 0a1.5 1.5 0 1 0 -3 0M102.1 487a1.5 1.5 0 1 0 3 0a1.5 1.5 0 1 0 -3 0M131.5 485.3a1.5 1.5 0 1 0 3 0a1.5 1.5 0 1 0 -3 0M58.6 493.7a1.5 1.5 0 1 0 3 0a1.5 1.5 0 1 0 -3 0M134.2 491.8a1.5 1.5 0 1 0 3 0a1.5 1.5 0 1 0 -3 0M134.8 495.9a1.5 1.5 0 1 0 3 0a1.5 1.5 0 1 0 -3 0M136.7 495.5a1.5 1.5 0 1 0 3 0a1.5 1.5 0 1 0 -3 0M126 496.5a1.5 1.5 0 1 0 3 0a1.5 1.5 0 1 0 -3 0M115.9 497.4a1.5 1.5 0 1 0 3 0a1.5 1.5 0 1 0 -3 0M130.8 500.1a1.5 1.5 0 1 0 3 0a1.5 1.5 0 1 0 -3 0M123.1 502.8a1.5 1.5 0 1 0 3 0a1.5 1.5 0 1 0 -3 0M128.6 506.4a1.5 1.5 0 1 0 3 0a1.5 1.5 0 1 0 -3 0M106.3 516.2a1.5 1.5 0 1 0 3 0a1.5 1.5 0 1 0 -3 0M109.7 518.8a1.5 1.5 0 1 0 3 0a1.5 1.5 0 1 0 -3 0M99.7 520.6a1.5 1.5 0 1 0 3 0a1.5 1.5 0 1 0 -3 0M122.4 515.5a1.5 1.5 0 1 0 3 0a1.5 1.5 0 1 0 -3 0M133.7 515.9a1.5 1.5 0 1 0 3 0a1.5 1.5 0 1 0 -3 0M133.7 519.6a1.5 1.5 0 1 0 3 0a1.5 1.5 0 1 0 -3 0M133.3 520.3a1.5 1.5 0 1 0 3 0a1.5 1.5 0 1 0 -3 0M119.9 525.4a1.5 1.5 0 1 0 3 0a1.5 1.5 0 1 0 -3 0M119.9 530.8a1.5 1.5 0 1 0 3 0a1.5 1.5 0 1 0 -3 0M68.3 536.6a1.5 1.5 0 1 0 3 0a1.5 1.5 0 1 0 -3 0M112.9 535.3a1.5 1.5 0 1 0 3 0a1.5 1.5 0 1 0 -3 0M109.4 537.5a1.5 1.5 0 1 0 3 0a1.5 1.5 0 1 0 -3 0M96.2 538.1a1.5 1.5 0 1 0 3 0a1.5 1.5 0 1 0 -3 0M117.2 538.1a1.5 1.5 0 1 0 3 0a1.5 1.5 0 1 0 -3 0M119.9 539.3a1.5 1.5 0 1 0 3 0a1.5 1.5 0 1 0 -3 0M128.9 538.1a1.5 1.5 0 1 0 3 0a1.5 1.5 0 1 0 -3 0M134.8 536.4a1.5 1.5 0 1 0 3 0a1.5 1.5 0 1 0 -3 0M138.1 535.2a1.5 1.5 0 1 0 3 0a1.5 1.5 0 1 0 -3 0M109 537.6a1.5 1.5 0 1 0 3 0a1.5 1.5 0 1 0 -3 0M95.9 538.1a1.5 1.5 0 1 0 3 0a1.5 1.5 0 1 0 -3 0M118.2 539.5a1.5 1.5 0 1 0 3 0a1.5 1.5 0 1 0 -3 0M119.7 540.5a1.5 1.5 0 1 0 3 0a1.5 1.5 0 1 0 -3 0M135 536.6a1.5 1.5 0 1 0 3 0a1.5 1.5 0 1 0 -3 0M124.1 542.7a1.5 1.5 0 1 0 3 0a1.5 1.5 0 1 0 -3 0M113.4 548.3a1.5 1.5 0 1 0 3 0a1.5 1.5 0 1 0 -3 0M116.3 547.8a1.5 1.5 0 1 0 3 0a1.5 1.5 0 1 0 -3 0M121.1 549.7a1.5 1.5 0 1 0 3 0a1.5 1.5 0 1 0 -3 0M129.4 547.8a1.5 1.5 0 1 0 3 0a1.5 1.5 0 1 0 -3 0M129.9 549.2a1.5 1.5 0 1 0 3 0a1.5 1.5 0 1 0 -3 0M134.7 551.2a1.5 1.5 0 1 0 3 0a1.5 1.5 0 1 0 -3 0M108 551.2a1.5 1.5 0 1 0 3 0a1.5 1.5 0 1 0 -3 0M110 553.6a1.5 1.5 0 1 0 3 0a1.5 1.5 0 1 0 -3 0M104.7 558a1.5 1.5 0 1 0 3 0a1.5 1.5 0 1 0 -3 0M133.8 557.5a1.5 1.5 0 1 0 3 0a1.5 1.5 0 1 0 -3 0M135.2 559.4a1.5 1.5 0 1 0 3 0a1.5 1.5 0 1 0 -3 0M136.2 560.9a1.5 1.5 0 1 0 3 0a1.5 1.5 0 1 0 -3 0M138.1 561.9a1.5 1.5 0 1 0 3 0a1.5 1.5 0 1 0 -3 0M122.6 561.4a1.5 1.5 0 1 0 3 0a1.5 1.5 0 1 0 -3 0M124.5 562.3a1.5 1.5 0 1 0 3 0a1.5 1.5 0 1 0 -3 0M126 563.8a1.5 1.5 0 1 0 3 0a1.5 1.5 0 1 0 -3 0M127.5 564.8a1.5 1.5 0 1 0 3 0a1.5 1.5 0 1 0 -3 0M127.9 566.2a1.5 1.5 0 1 0 3 0a1.5 1.5 0 1 0 -3 0M117.3 562.3a1.5 1.5 0 1 0 3 0a1.5 1.5 0 1 0 -3 0M133.3 564.3a1.5 1.5 0 1 0 3 0a1.5 1.5 0 1 0 -3 0M116.3 564.8a1.5 1.5 0 1 0 3 0a1.5 1.5 0 1 0 -3 0M115.3 567.7a1.5 1.5 0 1 0 3 0a1.5 1.5 0 1 0 -3 0M119.7 567.7a1.5 1.5 0 1 0 3 0a1.5 1.5 0 1 0 -3 0M121.6 567.2a1.5 1.5 0 1 0 3 0a1.5 1.5 0 1 0 -3 0M132.3 570.1a1.5 1.5 0 1 0 3 0a1.5 1.5 0 1 0 -3 0M133.3 570.6a1.5 1.5 0 1 0 3 0a1.5 1.5 0 1 0 -3 0M122.6 575.4a1.5 1.5 0 1 0 3 0a1.5 1.5 0 1 0 -3 0M111 580.8a1.5 1.5 0 1 0 3 0a1.5 1.5 0 1 0 -3 0M115.3 581.1a1.5 1.5 0 1 0 3 0a1.5 1.5 0 1 0 -3 0M117.7 583.2a1.5 1.5 0 1 0 3 0a1.5 1.5 0 1 0 -3 0M119.7 583.2a1.5 1.5 0 1 0 3 0a1.5 1.5 0 1 0 -3 0M123.6 581.1a1.5 1.5 0 1 0 3 0a1.5 1.5 0 1 0 -3 0M127 581.7a1.5 1.5 0 1 0 3 0a1.5 1.5 0 1 0 -3 0M128.4 582.7a1.5 1.5 0 1 0 3 0a1.5 1.5 0 1 0 -3 0M132.3 583.2a1.5 1.5 0 1 0 3 0a1.5 1.5 0 1 0 -3 0M134.2 583.7a1.5 1.5 0 1 0 3 0a1.5 1.5 0 1 0 -3 0M136.2 584.2a1.5 1.5 0 1 0 3 0a1.5 1.5 0 1 0 -3 0M137.6 585.1a1.5 1.5 0 1 0 3 0a1.5 1.5 0 1 0 -3 0M95.4 597.7a1.5 1.5 0 1 0 3 0a1.5 1.5 0 1 0 -3 0M111.9 597.9a1.5 1.5 0 1 0 3 0a1.5 1.5 0 1 0 -3 0M119.5 599.7a1.5 1.5 0 1 0 3 0a1.5 1.5 0 1 0 -3 0M126 597.7a1.5 1.5 0 1 0 3 0a1.5 1.5 0 1 0 -3 0M131.3 596.3a1.5 1.5 0 1 0 3 0a1.5 1.5 0 1 0 -3 0M135.2 597.3a1.5 1.5 0 1 0 3 0a1.5 1.5 0 1 0 -3 0M137.1 597.3a1.5 1.5 0 1 0 3 0a1.5 1.5 0 1 0 -3 0M133.3 599.7a1.5 1.5 0 1 0 3 0a1.5 1.5 0 1 0 -3 0M134.2 601.6a1.5 1.5 0 1 0 3 0a1.5 1.5 0 1 0 -3 0M136.2 601.6a1.5 1.5 0 1 0 3 0a1.5 1.5 0 1 0 -3 0M137.6 602.6a1.5 1.5 0 1 0 3 0a1.5 1.5 0 1 0 -3 0M64.7 560.2a1.5 1.5 0 1 0 3 0a1.5 1.5 0 1 0 -3 0M78.3 585.2a1.5 1.5 0 1 0 3 0a1.5 1.5 0 1 0 -3 0M95.3 597.9a1.5 1.5 0 1 0 3 0a1.5 1.5 0 1 0 -3 0M104.8 557.4a1.5 1.5 0 1 0 3 0a1.5 1.5 0 1 0 -3 0M137 566a1.5 1.5 0 1 0 3 0a1.5 1.5 0 1 0 -3 0M137.7 571a1.5 1.5 0 1 0 3 0a1.5 1.5 0 1 0 -3 0M137.3 576a1.5 1.5 0 1 0 3 0a1.5 1.5 0 1 0 -3 0M138 580a1.5 1.5 0 1 0 3 0a1.5 1.5 0 1 0 -3 0M136.7 589a1.5 1.5 0 1 0 3 0a1.5 1.5 0 1 0 -3 0M137.9 592a1.5 1.5 0 1 0 3 0a1.5 1.5 0 1 0 -3 0M135.7 592.5a1.5 1.5 0 1 0 3 0a1.5 1.5 0 1 0 -3 0M135 588a1.5 1.5 0 1 0 3 0a1.5 1.5 0 1 0 -3 0M130 585.5a1.5 1.5 0 1 0 3 0a1.5 1.5 0 1 0 -3 0M138 605a1.5 1.5 0 1 0 3 0a1.5 1.5 0 1 0 -3 0M136 606a1.5 1.5 0 1 0 3 0a1.5 1.5 0 1 0 -3 0M137.3 556a1.5 1.5 0 1 0 3 0a1.5 1.5 0 1 0 -3 0M137.8 546a1.5 1.5 0 1 0 3 0a1.5 1.5 0 1 0 -3 0M137.1 541a1.5 1.5 0 1 0 3 0a1.5 1.5 0 1 0 -3 0M138 529a1.5 1.5 0 1 0 3 0a1.5 1.5 0 1 0 -3 0M136.4 524a1.5 1.5 0 1 0 3 0a1.5 1.5 0 1 0 -3 0M137.5 512a1.5 1.5 0 1 0 3 0a1.5 1.5 0 1 0 -3 0M134 508a1.5 1.5 0 1 0 3 0a1.5 1.5 0 1 0 -3 0M138 500a1.5 1.5 0 1 0 3 0a1.5 1.5 0 1 0 -3 0"/>
<path fill="#6d0c25" d="M219.3 361.7a1.5 1.5 0 1 0 3 0a1.5 1.5 0 1 0 -3 0M234.5 361.7a1.5 1.5 0 1 0 3 0a1.5 1.5 0 1 0 -3 0M221.5 368.9a1.5 1.5 0 1 0 3 0a1.5 1.5 0 1 0 -3 0M213.3 383a1.5 1.5 0 1 0 3 0a1.5 1.5 0 1 0 -3 0M203.2 432a1.5 1.5 0 1 0 3 0a1.5 1.5 0 1 0 -3 0M232.8 437.2a1.5 1.5 0 1 0 3 0a1.5 1.5 0 1 0 -3 0M190.7 448.5a1.5 1.5 0 1 0 3 0a1.5 1.5 0 1 0 -3 0M198.2 448.5a1.5 1.5 0 1 0 3 0a1.5 1.5 0 1 0 -3 0M202.7 447.5a1.5 1.5 0 1 0 3 0a1.5 1.5 0 1 0 -3 0M185.6 452.4a1.5 1.5 0 1 0 3 0a1.5 1.5 0 1 0 -3 0M211.6 450.8a1.5 1.5 0 1 0 3 0a1.5 1.5 0 1 0 -3 0M197.6 465.7a1.5 1.5 0 1 0 3 0a1.5 1.5 0 1 0 -3 0M201.9 468.4a1.5 1.5 0 1 0 3 0a1.5 1.5 0 1 0 -3 0M212.7 467a1.5 1.5 0 1 0 3 0a1.5 1.5 0 1 0 -3 0M193.6 470.8a1.5 1.5 0 1 0 3 0a1.5 1.5 0 1 0 -3 0M198.4 476.1a1.5 1.5 0 1 0 3 0a1.5 1.5 0 1 0 -3 0M202.4 476.5a1.5 1.5 0 1 0 3 0a1.5 1.5 0 1 0 -3 0M198.4 479.8a1.5 1.5 0 1 0 3 0a1.5 1.5 0 1 0 -3 0M203.2 483.4a1.5 1.5 0 1 0 3 0a1.5 1.5 0 1 0 -3 0M184.3 486.9a1.5 1.5 0 1 0 3 0a1.5 1.5 0 1 0 -3 0M186.7 488.2a1.5 1.5 0 1 0 3 0a1.5 1.5 0 1 0 -3 0M203.2 489a1.5 1.5 0 1 0 3 0a1.5 1.5 0 1 0 -3 0M182.2 495.4a1.5 1.5 0 1 0 3 0a1.5 1.5 0 1 0 -3 0M190.7 504.7a1.5 1.5 0 1 0 3 0a1.5 1.5 0 1 0 -3 0M200.8 503.9a1.5 1.5 0 1 0 3 0a1.5 1.5 0 1 0 -3 0M184.7 508.7a1.5 1.5 0 1 0 3 0a1.5 1.5 0 1 0 -3 0M199.5 509.4a1.5 1.5 0 1 0 3 0a1.5 1.5 0 1 0 -3 0M198.4 511.1a1.5 1.5 0 1 0 3 0a1.5 1.5 0 1 0 -3 0M186.2 513.4a1.5 1.5 0 1 0 3 0a1.5 1.5 0 1 0 -3 0M192.6 516.3a1.5 1.5 0 1 0 3 0a1.5 1.5 0 1 0 -3 0M193.9 519a1.5 1.5 0 1 0 3 0a1.5 1.5 0 1 0 -3 0M191.5 525.1a1.5 1.5 0 1 0 3 0a1.5 1.5 0 1 0 -3 0M192.3 526.7a1.5 1.5 0 1 0 3 0a1.5 1.5 0 1 0 -3 0M186.7 528a1.5 1.5 0 1 0 3 0a1.5 1.5 0 1 0 -3 0M193.9 529.1a1.5 1.5 0 1 0 3 0a1.5 1.5 0 1 0 -3 0M197.9 527a1.5 1.5 0 1 0 3 0a1.5 1.5 0 1 0 -3 0M182.2 531.9a1.5 1.5 0 1 0 3 0a1.5 1.5 0 1 0 -3 0M185.9 530.7a1.5 1.5 0 1 0 3 0a1.5 1.5 0 1 0 -3 0M188.3 529.1a1.5 1.5 0 1 0 3 0a1.5 1.5 0 1 0 -3 0M185.1 537.2a1.5 1.5 0 1 0 3 0a1.5 1.5 0 1 0 -3 0M187.5 536.4a1.5 1.5 0 1 0 3 0a1.5 1.5 0 1 0 -3 0M189.1 535.6a1.5 1.5 0 1 0 3 0a1.5 1.5 0 1 0 -3 0M197.1 542a1.5 1.5 0 1 0 3 0a1.5 1.5 0 1 0 -3 0M193.9 543.7a1.5 1.5 0 1 0 3 0a1.5 1.5 0 1 0 -3 0M189.9 542a1.5 1.5 0 1 0 3 0a1.5 1.5 0 1 0 -3 0M196.8 553a1.5 1.5 0 1 0 3 0a1.5 1.5 0 1 0 -3 0M193.4 569.3a1.5 1.5 0 1 0 3 0a1.5 1.5 0 1 0 -3 0M209.6 592.3a1.5 1.5 0 1 0 3 0a1.5 1.5 0 1 0 -3 0M190.7 588.1a1.5 1.5 0 1 0 3 0a1.5 1.5 0 1 0 -3 0M191 591a1.5 1.5 0 1 0 3 0a1.5 1.5 0 1 0 -3 0M186.7 593.4a1.5 1.5 0 1 0 3 0a1.5 1.5 0 1 0 -3 0M189.9 593.4a1.5 1.5 0 1 0 3 0a1.5 1.5 0 1 0 -3 0M189.6 597.9a1.5 1.5 0 1 0 3 0a1.5 1.5 0 1 0 -3 0M196.8 600.2a1.5 1.5 0 1 0 3 0a1.5 1.5 0 1 0 -3 0M194.7 602.7a1.5 1.5 0 1 0 3 0a1.5 1.5 0 1 0 -3 0M193.4 604.7a1.5 1.5 0 1 0 3 0a1.5 1.5 0 1 0 -3 0M183.5 603.1a1.5 1.5 0 1 0 3 0a1.5 1.5 0 1 0 -3 0M181.9 591a1.5 1.5 0 1 0 3 0a1.5 1.5 0 1 0 -3 0M184.54 573.93a1.5 1.5 0 1 0 3 0a1.5 1.5 0 1 0 -3 0M183.54 550.42a1.5 1.5 0 1 0 3 0a1.5 1.5 0 1 0 -3 0M185.11 570.44a1.5 1.5 0 1 0 3 0a1.5 1.5 0 1 0 -3 0M183.68 539.74a1.5 1.5 0 1 0 3 0a1.5 1.5 0 1 0 -3 0M185.6 571.88a1.5 1.5 0 1 0 3 0a1.5 1.5 0 1 0 -3 0M183.44 570.11a1.5 1.5 0 1 0 3 0a1.5 1.5 0 1 0 -3 0M183.99 588.31a1.5 1.5 0 1 0 3 0a1.5 1.5 0 1 0 -3 0M184.69 591.62a1.5 1.5 0 1 0 3 0a1.5 1.5 0 1 0 -3 0M183.94 577.85a1.5 1.5 0 1 0 3 0a1.5 1.5 0 1 0 -3 0M186.22 591.43a1.5 1.5 0 1 0 3 0a1.5 1.5 0 1 0 -3 0M183.21 559.71a1.5 1.5 0 1 0 3 0a1.5 1.5 0 1 0 -3 0M183.3 591.46a1.5 1.5 0 1 0 3 0a1.5 1.5 0 1 0 -3 0M182.8 564.52a1.5 1.5 0 1 0 3 0a1.5 1.5 0 1 0 -3 0M187.25 573.06a1.5 1.5 0 1 0 3 0a1.5 1.5 0 1 0 -3 0M184.52 588.64a1.5 1.5 0 1 0 3 0a1.5 1.5 0 1 0 -3 0M186.38 565.63a1.5 1.5 0 1 0 3 0a1.5 1.5 0 1 0 -3 0M187.12 591.66a1.5 1.5 0 1 0 3 0a1.5 1.5 0 1 0 -3 0M184.38 576.43a1.5 1.5 0 1 0 3 0a1.5 1.5 0 1 0 -3 0M183.31 551.54a1.5 1.5 0 1 0 3 0a1.5 1.5 0 1 0 -3 0M184.98 566.96a1.5 1.5 0 1 0 3 0a1.5 1.5 0 1 0 -3 0M183 584.74a1.5 1.5 0 1 0 3 0a1.5 1.5 0 1 0 -3 0M184.29 572.76a1.5 1.5 0 1 0 3 0a1.5 1.5 0 1 0 -3 0M186.6 541.97a1.5 1.5 0 1 0 3 0a1.5 1.5 0 1 0 -3 0M183.85 564.5a1.5 1.5 0 1 0 3 0a1.5 1.5 0 1 0 -3 0M183.88 551.06a1.5 1.5 0 1 0 3 0a1.5 1.5 0 1 0 -3 0M187.16 579.62a1.5 1.5 0 1 0 3 0a1.5 1.5 0 1 0 -3 0M186.15 567.66a1.5 1.5 0 1 0 3 0a1.5 1.5 0 1 0 -3 0M184.89 546.2a1.5 1.5 0 1 0 3 0a1.5 1.5 0 1 0 -3 0M182.88 557.76a1.5 1.5 0 1 0 3 0a1.5 1.5 0 1 0 -3 0M182.72 556.67a1.5 1.5 0 1 0 3 0a1.5 1.5 0 1 0 -3 0M182.95 584.7a1.5 1.5 0 1 0 3 0a1.5 1.5 0 1 0 -3 0M183.42 547.81a1.5 1.5 0 1 0 3 0a1.5 1.5 0 1 0 -3 0M184.4 558.99a1.5 1.5 0 1 0 3 0a1.5 1.5 0 1 0 -3 0M185.23 586.7a1.5 1.5 0 1 0 3 0a1.5 1.5 0 1 0 -3 0M184.06 541.88a1.5 1.5 0 1 0 3 0a1.5 1.5 0 1 0 -3 0M182.43 571.98a1.5 1.5 0 1 0 3 0a1.5 1.5 0 1 0 -3 0M182.54 585.33a1.5 1.5 0 1 0 3 0a1.5 1.5 0 1 0 -3 0M184.01 574.09a1.5 1.5 0 1 0 3 0a1.5 1.5 0 1 0 -3 0M184.66 561.26a1.5 1.5 0 1 0 3 0a1.5 1.5 0 1 0 -3 0M182.53 555.03a1.5 1.5 0 1 0 3 0a1.5 1.5 0 1 0 -3 0M182.93 572a1.5 1.5 0 1 0 3 0a1.5 1.5 0 1 0 -3 0M185.78 575.52a1.5 1.5 0 1 0 3 0a1.5 1.5 0 1 0 -3 0M185.07 547.76a1.5 1.5 0 1 0 3 0a1.5 1.5 0 1 0 -3 0M185.18 563.19a1.5 1.5 0 1 0 3 0a1.5 1.5 0 1 0 -3 0M186.91 544.97a1.5 1.5 0 1 0 3 0a1.5 1.5 0 1 0 -3 0M186.42 570.94a1.5 1.5 0 1 0 3 0a1.5 1.5 0 1 0 -3 0M185.1 557.31a1.5 1.5 0 1 0 3 0a1.5 1.5 0 1 0 -3 0M190.26 575.35a1.5 1.5 0 1 0 3 0a1.5 1.5 0 1 0 -3 0M183.73 577.76a1.5 1.5 0 1 0 3 0a1.5 1.5 0 1 0 -3 0M184.02 560.05a1.5 1.5 0 1 0 3 0a1.5 1.5 0 1 0 -3 0M184.16 545.9a1.5 1.5 0 1 0 3 0a1.5 1.5 0 1 0 -3 0M184.31 582.29a1.5 1.5 0 1 0 3 0a1.5 1.5 0 1 0 -3 0M185.28 560.09a1.5 1.5 0 1 0 3 0a1.5 1.5 0 1 0 -3 0M183.13 588.85a1.5 1.5 0 1 0 3 0a1.5 1.5 0 1 0 -3 0M182.85 556.7a1.5 1.5 0 1 0 3 0a1.5 1.5 0 1 0 -3 0M184.12 569.28a1.5 1.5 0 1 0 3 0a1.5 1.5 0 1 0 -3 0M183.79 553.38a1.5 1.5 0 1 0 3 0a1.5 1.5 0 1 0 -3 0M183.83 584.14a1.5 1.5 0 1 0 3 0a1.5 1.5 0 1 0 -3 0M188.12 574.54a1.5 1.5 0 1 0 3 0a1.5 1.5 0 1 0 -3 0M183.99 558.93a1.5 1.5 0 1 0 3 0a1.5 1.5 0 1 0 -3 0M184.58 578.14a1.5 1.5 0 1 0 3 0a1.5 1.5 0 1 0 -3 0M183.99 541.47a1.5 1.5 0 1 0 3 0a1.5 1.5 0 1 0 -3 0M182.85 560.63a1.5 1.5 0 1 0 3 0a1.5 1.5 0 1 0 -3 0M185.05 589.54a1.5 1.5 0 1 0 3 0a1.5 1.5 0 1 0 -3 0M183.62 553.82a1.5 1.5 0 1 0 3 0a1.5 1.5 0 1 0 -3 0M185.95 551.21a1.5 1.5 0 1 0 3 0a1.5 1.5 0 1 0 -3 0M186.03 560.22a1.5 1.5 0 1 0 3 0a1.5 1.5 0 1 0 -3 0M186.38 551.59a1.5 1.5 0 1 0 3 0a1.5 1.5 0 1 0 -3 0M184.92 560.71a1.5 1.5 0 1 0 3 0a1.5 1.5 0 1 0 -3 0M186.34 583.91a1.5 1.5 0 1 0 3 0a1.5 1.5 0 1 0 -3 0M183.44 569.9a1.5 1.5 0 1 0 3 0a1.5 1.5 0 1 0 -3 0M182.64 586.41a1.5 1.5 0 1 0 3 0a1.5 1.5 0 1 0 -3 0M183.95 542.77a1.5 1.5 0 1 0 3 0a1.5 1.5 0 1 0 -3 0M184.2 577.05a1.5 1.5 0 1 0 3 0a1.5 1.5 0 1 0 -3 0M185.39 574.14a1.5 1.5 0 1 0 3 0a1.5 1.5 0 1 0 -3 0M186.92 589.28a1.5 1.5 0 1 0 3 0a1.5 1.5 0 1 0 -3 0M184.26 539.25a1.5 1.5 0 1 0 3 0a1.5 1.5 0 1 0 -3 0M184.47 557.53a1.5 1.5 0 1 0 3 0a1.5 1.5 0 1 0 -3 0M183.86 563.1a1.5 1.5 0 1 0 3 0a1.5 1.5 0 1 0 -3 0M185.85 570.7a1.5 1.5 0 1 0 3 0a1.5 1.5 0 1 0 -3 0M190.36 590.4a1.5 1.5 0 1 0 3 0a1.5 1.5 0 1 0 -3 0M183.5 559.34a1.5 1.5 0 1 0 3 0a1.5 1.5 0 1 0 -3 0M184.68 582.75a1.5 1.5 0 1 0 3 0a1.5 1.5 0 1 0 -3 0M185.57 591.87a1.5 1.5 0 1 0 3 0a1.5 1.5 0 1 0 -3 0M184.86 541.59a1.5 1.5 0 1 0 3 0a1.5 1.5 0 1 0 -3 0M182.92 573.43a1.5 1.5 0 1 0 3 0a1.5 1.5 0 1 0 -3 0M184.08 549.78a1.5 1.5 0 1 0 3 0a1.5 1.5 0 1 0 -3 0M182.41 557.97a1.5 1.5 0 1 0 3 0a1.5 1.5 0 1 0 -3 0M185.67 545.72a1.5 1.5 0 1 0 3 0a1.5 1.5 0 1 0 -3 0M184.93 542.51a1.5 1.5 0 1 0 3 0a1.5 1.5 0 1 0 -3 0M184.45 547.01a1.5 1.5 0 1 0 3 0a1.5 1.5 0 1 0 -3 0M185.22 578.07a1.5 1.5 0 1 0 3 0a1.5 1.5 0 1 0 -3 0M183.88 551.68a1.5 1.5 0 1 0 3 0a1.5 1.5 0 1 0 -3 0M186.2 579.9a1.5 1.5 0 1 0 3 0a1.5 1.5 0 1 0 -3 0M182.76 544.46a1.5 1.5 0 1 0 3 0a1.5 1.5 0 1 0 -3 0M182.39 584.42a1.5 1.5 0 1 0 3 0a1.5 1.5 0 1 0 -3 0M182.76 589a1.5 1.5 0 1 0 3 0a1.5 1.5 0 1 0 -3 0M182.65 556.96a1.5 1.5 0 1 0 3 0a1.5 1.5 0 1 0 -3 0M183.53 566.94a1.5 1.5 0 1 0 3 0a1.5 1.5 0 1 0 -3 0M182.57 580.62a1.5 1.5 0 1 0 3 0a1.5 1.5 0 1 0 -3 0M183.64 554.28a1.5 1.5 0 1 0 3 0a1.5 1.5 0 1 0 -3 0M182.36 568.67a1.5 1.5 0 1 0 3 0a1.5 1.5 0 1 0 -3 0M184.95 545a1.5 1.5 0 1 0 3 0a1.5 1.5 0 1 0 -3 0M183.94 553.87a1.5 1.5 0 1 0 3 0a1.5 1.5 0 1 0 -3 0M182.35 579.98a1.5 1.5 0 1 0 3 0a1.5 1.5 0 1 0 -3 0M184.99 540.93a1.5 1.5 0 1 0 3 0a1.5 1.5 0 1 0 -3 0M185.47 549.75a1.5 1.5 0 1 0 3 0a1.5 1.5 0 1 0 -3 0M183.29 562.81a1.5 1.5 0 1 0 3 0a1.5 1.5 0 1 0 -3 0M186.32 583.94a1.5 1.5 0 1 0 3 0a1.5 1.5 0 1 0 -3 0M185.39 546.36a1.5 1.5 0 1 0 3 0a1.5 1.5 0 1 0 -3 0M184.92 590.4a1.5 1.5 0 1 0 3 0a1.5 1.5 0 1 0 -3 0M182.71 571.06a1.5 1.5 0 1 0 3 0a1.5 1.5 0 1 0 -3 0M184.92 584.65a1.5 1.5 0 1 0 3 0a1.5 1.5 0 1 0 -3 0M182.91 538.58a1.5 1.5 0 1 0 3 0a1.5 1.5 0 1 0 -3 0M184.06 546.3a1.5 1.5 0 1 0 3 0a1.5 1.5 0 1 0 -3 0M186.15 576.48a1.5 1.5 0 1 0 3 0a1.5 1.5 0 1 0 -3 0M182.91 546.45a1.5 1.5 0 1 0 3 0a1.5 1.5 0 1 0 -3 0M182.42 543.95a1.5 1.5 0 1 0 3 0a1.5 1.5 0 1 0 -3 0M185.95 554.24a1.5 1.5 0 1 0 3 0a1.5 1.5 0 1 0 -3 0M183.09 583.77a1.5 1.5 0 1 0 3 0a1.5 1.5 0 1 0 -3 0M185.83 536.32a1.5 1.5 0 1 0 3 0a1.5 1.5 0 1 0 -3 0M184.59 538.64a1.5 1.5 0 1 0 3 0a1.5 1.5 0 1 0 -3 0M189.85 541.05a1.5 1.5 0 1 0 3 0a1.5 1.5 0 1 0 -3 0M186.41 556.67a1.5 1.5 0 1 0 3 0a1.5 1.5 0 1 0 -3 0M189.59 580.09a1.5 1.5 0 1 0 3 0a1.5 1.5 0 1 0 -3 0M187.04 601.14a1.5 1.5 0 1 0 3 0a1.5 1.5 0 1 0 -3 0M189.73 569.07a1.5 1.5 0 1 0 3 0a1.5 1.5 0 1 0 -3 0M184.89 561.4a1.5 1.5 0 1 0 3 0a1.5 1.5 0 1 0 -3 0M184.57 586.23a1.5 1.5 0 1 0 3 0a1.5 1.5 0 1 0 -3 0M185.93 559.49a1.5 1.5 0 1 0 3 0a1.5 1.5 0 1 0 -3 0M185.37 567.33a1.5 1.5 0 1 0 3 0a1.5 1.5 0 1 0 -3 0M186.11 564a1.5 1.5 0 1 0 3 0a1.5 1.5 0 1 0 -3 0M189.19 536.57a1.5 1.5 0 1 0 3 0a1.5 1.5 0 1 0 -3 0M186.72 537.45a1.5 1.5 0 1 0 3 0a1.5 1.5 0 1 0 -3 0M185.7 572.42a1.5 1.5 0 1 0 3 0a1.5 1.5 0 1 0 -3 0M183.29 549.03a1.5 1.5 0 1 0 3 0a1.5 1.5 0 1 0 -3 0M185.02 559.78a1.5 1.5 0 1 0 3 0a1.5 1.5 0 1 0 -3 0M184.34 567.85a1.5 1.5 0 1 0 3 0a1.5 1.5 0 1 0 -3 0M186.4 586.96a1.5 1.5 0 1 0 3 0a1.5 1.5 0 1 0 -3 0M185.75 533.65a1.5 1.5 0 1 0 3 0a1.5 1.5 0 1 0 -3 0"/>
<line x1="64.5" y1="552.3" x2="66.2" y2="559" stroke="#0b3268" stroke-width="0.6" />
<rect x="58.2" y="357.3" width="35.4" height="9.1" fill="#fff" stroke="#6f86a8" stroke-width="0.75" rx="1" /><text x="75.9" y="364.26" font-size="6.7" text-anchor="middle" fill="#0b3268" stroke="#0b3268" stroke-width="0.18">GABARAP</text>
<rect x="90.4" y="381.1" width="20.8" height="8.8" fill="#fff" stroke="#6f86a8" stroke-width="0.75" rx="1" /><text x="100.8" y="387.91" font-size="6.7" text-anchor="middle" fill="#0b3268" stroke="#0b3268" stroke-width="0.18">CST3</text>
<rect x="115.2" y="377.3" width="28.8" height="9.2" fill="#fff" stroke="#6f86a8" stroke-width="0.75" rx="1" /><text x="129.6" y="384.31" font-size="6.7" text-anchor="middle" fill="#0b3268" stroke="#0b3268" stroke-width="0.18">TMSB10</text>
<rect x="59.3" y="405" width="26" height="8.8" fill="#fff" stroke="#6f86a8" stroke-width="0.75" rx="1" /><text x="72.3" y="411.81" font-size="6.7" text-anchor="middle" fill="#0b3268" stroke="#0b3268" stroke-width="0.18">ALDOA</text>
<rect x="73.2" y="420.5" width="20.4" height="8.8" fill="#fff" stroke="#6f86a8" stroke-width="0.75" rx="1" /><text x="83.4" y="427.31" font-size="6.7" text-anchor="middle" fill="#0b3268" stroke="#0b3268" stroke-width="0.18">CD74</text>
<rect x="110.4" y="432.8" width="30" height="8.9" fill="#fff" stroke="#6f86a8" stroke-width="0.75" rx="1" /><text x="125.4" y="439.66" font-size="6.7" text-anchor="middle" fill="#0b3268" stroke="#0b3268" stroke-width="0.18">TYROBP</text>
<rect x="48.7" y="543.4" width="30.6" height="8.9" fill="#fff" stroke="#6f86a8" stroke-width="0.75" rx="1" /><text x="64" y="550.26" font-size="6.7" text-anchor="middle" fill="#0b3268" stroke="#0b3268" stroke-width="0.18">S100A12</text>
<rect x="77.3" y="556.6" width="26.3" height="8.7" fill="#fff" stroke="#6f86a8" stroke-width="0.75" rx="1" /><text x="90.45" y="563.36" font-size="6.7" text-anchor="middle" fill="#0b3268" stroke="#0b3268" stroke-width="0.18">CEBPD</text>
<rect x="93.3" y="538.8" width="22.2" height="8.7" fill="#fff" stroke="#6f86a8" stroke-width="0.75" rx="1" /><text x="104.4" y="545.56" font-size="6.7" text-anchor="middle" fill="#0b3268" stroke="#0b3268" stroke-width="0.18">LMNA</text>
<rect x="112.7" y="552" width="20.6" height="8.4" fill="#fff" stroke="#6f86a8" stroke-width="0.75" rx="1" /><text x="123" y="558.61" font-size="6.7" text-anchor="middle" fill="#0b3268" stroke="#0b3268" stroke-width="0.18">CSTA</text>
<rect x="93.6" y="569.5" width="26.5" height="8.5" fill="#fff" stroke="#6f86a8" stroke-width="0.75" rx="1" /><text x="106.85" y="576.16" font-size="6.7" text-anchor="middle" fill="#0b3268" stroke="#0b3268" stroke-width="0.18">S100A8</text>
<rect x="130.1" y="573" width="20.4" height="8.5" fill="#fff" stroke="#6f86a8" stroke-width="0.75" rx="1" /><text x="140.3" y="579.66" font-size="6.7" text-anchor="middle" fill="#0b3268" stroke="#0b3268" stroke-width="0.18">CD68</text>
<rect x="104.5" y="586.7" width="35.9" height="8.8" fill="#fff" stroke="#6f86a8" stroke-width="0.75" rx="1" /><text x="122.45" y="593.51" font-size="6.7" text-anchor="middle" fill="#0b3268" stroke="#0b3268" stroke-width="0.18">HLA−DPA1</text>
<rect x="127" y="604.4" width="24.7" height="8.6" fill="#fff" stroke="#6f86a8" stroke-width="0.75" rx="1" /><text x="139.35" y="611.11" font-size="6.7" text-anchor="middle" fill="#0b3268" stroke="#0b3268" stroke-width="0.18">C5AR1</text>
<rect x="212.3" y="351.7" width="21.2" height="8.9" fill="#fff" stroke="#a06272" stroke-width="0.75" rx="1" /><text x="222.9" y="358.56" font-size="6.7" text-anchor="middle" fill="#6d0c25" stroke="#6d0c25" stroke-width="0.18">CD48</text>
<rect x="203.4" y="371.8" width="29.4" height="8.7" fill="#fff" stroke="#a06272" stroke-width="0.75" rx="1" /><text x="218.1" y="378.56" font-size="6.7" text-anchor="middle" fill="#6d0c25" stroke="#6d0c25" stroke-width="0.18">MALAT1</text>
<rect x="188.5" y="420.6" width="21.8" height="8.5" fill="#fff" stroke="#a06272" stroke-width="0.75" rx="1" /><text x="199.4" y="427.26" font-size="6.7" text-anchor="middle" fill="#6d0c25" stroke="#6d0c25" stroke-width="0.18">LMO2</text>
<rect x="216.7" y="440.6" width="24.5" height="8.4" fill="#fff" stroke="#a06272" stroke-width="0.75" rx="1" /><text x="228.95" y="447.21" font-size="6.7" text-anchor="middle" fill="#6d0c25" stroke="#6d0c25" stroke-width="0.18">NEAT1</text>
<rect x="186.6" y="491.7" width="26.8" height="8.8" fill="#fff" stroke="#a06272" stroke-width="0.75" rx="1" /><text x="200" y="498.51" font-size="6.7" text-anchor="middle" fill="#6d0c25" stroke="#6d0c25" stroke-width="0.18">SPINK2</text>
<rect x="174.5" y="518.7" width="17.7" height="8.5" fill="#fff" stroke="#a06272" stroke-width="0.75" rx="1" /><text x="183.35" y="525.36" font-size="6.7" text-anchor="middle" fill="#6d0c25" stroke="#6d0c25" stroke-width="0.18">LIPA</text>
<rect x="192.7" y="531.5" width="20.4" height="8.5" fill="#fff" stroke="#a06272" stroke-width="0.75" rx="1" /><text x="202.9" y="538.16" font-size="6.7" text-anchor="middle" fill="#6d0c25" stroke="#6d0c25" stroke-width="0.18">FCN1</text>
<rect x="189" y="558.6" width="22.1" height="8.3" fill="#fff" stroke="#a06272" stroke-width="0.75" rx="1" /><text x="200.05" y="565.16" font-size="6.7" text-anchor="middle" fill="#6d0c25" stroke="#6d0c25" stroke-width="0.18">MNDA</text>
<rect x="167" y="583.5" width="14" height="7.8" fill="#fff" stroke="#d0d0d0" stroke-width="0.75" rx="1" /><text x="174" y="589.81" font-size="6.7" text-anchor="middle" fill="#c4c4c4" stroke="#c4c4c4" stroke-width="0.18">CAT</text>
<rect x="76.8" y="611.5" width="24.9" height="8.3" fill="#fff" stroke="#d0d0d0" stroke-width="0.75" rx="1" /><text x="89.25" y="618.06" font-size="6.7" text-anchor="middle" fill="#c4c4c4" stroke="#c4c4c4" stroke-width="0.18">IFITM3</text>
<line x1="140.4" y1="349.7" x2="140.4" y2="621.3" stroke="#222" stroke-width="0.9" stroke-dasharray="2.6 2.4" />
<line x1="182.6" y1="349.7" x2="182.6" y2="621.3" stroke="#222" stroke-width="0.9" stroke-dasharray="2.6 2.4" />
<line x1="46.2" y1="608.8" x2="244.6" y2="608.8" stroke="#222" stroke-width="0.9" stroke-dasharray="2.6 2.4" />
<rect x="46.2" y="349.7" width="198.4" height="271.6" fill="none" stroke="#4a4a4a" stroke-width="0.9" />
<line x1="43.7" y1="609.2" x2="46.2" y2="609.2" stroke="#4a4a4a" stroke-width="0.7" />
<text x="42.7" y="611.1" font-size="5.3" text-anchor="end" fill="#4d4d4d" stroke="#4d4d4d" stroke-width="0.15">0</text>
<line x1="43.7" y1="526.73" x2="46.2" y2="526.73" stroke="#4a4a4a" stroke-width="0.7" />
<text x="42.7" y="528.63" font-size="5.3" text-anchor="end" fill="#4d4d4d" stroke="#4d4d4d" stroke-width="0.15">100</text>
<line x1="43.7" y1="444.26" x2="46.2" y2="444.26" stroke="#4a4a4a" stroke-width="0.7" />
<text x="42.7" y="446.16" font-size="5.3" text-anchor="end" fill="#4d4d4d" stroke="#4d4d4d" stroke-width="0.15">200</text>
<line x1="43.7" y1="361.79" x2="46.2" y2="361.79" stroke="#4a4a4a" stroke-width="0.7" />
<text x="42.7" y="363.69" font-size="5.3" text-anchor="end" fill="#4d4d4d" stroke="#4d4d4d" stroke-width="0.15">300</text>
<line x1="76.76" y1="621.3" x2="76.76" y2="623.8" stroke="#4a4a4a" stroke-width="0.7" />
<text x="76.76" y="628.6" font-size="5.3" text-anchor="middle" fill="#4d4d4d" stroke="#4d4d4d" stroke-width="0.15">−2</text>
<line x1="119.13" y1="621.3" x2="119.13" y2="623.8" stroke="#4a4a4a" stroke-width="0.7" />
<text x="119.13" y="628.6" font-size="5.3" text-anchor="middle" fill="#4d4d4d" stroke="#4d4d4d" stroke-width="0.15">−1</text>
<line x1="161.5" y1="621.3" x2="161.5" y2="623.8" stroke="#4a4a4a" stroke-width="0.7" />
<text x="161.5" y="628.6" font-size="5.3" text-anchor="middle" fill="#4d4d4d" stroke="#4d4d4d" stroke-width="0.15">0</text>
<line x1="203.87" y1="621.3" x2="203.87" y2="623.8" stroke="#4a4a4a" stroke-width="0.7" />
<text x="203.87" y="628.6" font-size="5.3" text-anchor="middle" fill="#4d4d4d" stroke="#4d4d4d" stroke-width="0.15">1</text>
<text x="148.3" y="638.6" font-size="8.4" text-anchor="middle">Average FC (Log<tspan font-size="5.6" dy="1.8">2</tspan><tspan dy="-1.8">)</tspan></text>
<text x="30.9" y="485.7" font-size="8.4" text-anchor="middle" transform="rotate(-90 30.9 485.7)" stroke="#000" stroke-width="0.15">-Log10 (Adj. P)</text>
<line x1="50.5" y1="344.6" x2="115.5" y2="344.6" stroke="#3f6494" stroke-width="1" />
<path fill="#3f6494" d="M49.2 344.6L52.2 342.9L52.2 346.3Z" />
<text x="118.2" y="347.5" font-size="8.1" fill="#1d4477" font-weight="bold" font-style="italic" stroke="#1d4477" stroke-width="0.25">MRD-</text>
<text x="183.4" y="347.3" font-size="8.1" fill="#6d0c25" font-weight="bold" font-style="italic" stroke="#6d0c25" stroke-width="0.25">MRD+</text>
<line x1="208.3" y1="344.8" x2="244" y2="344.8" stroke="#6d0c25" stroke-width="0.9" />
<path d="M241.3 343.1L244.1 344.8L241.3 346.5" fill="none" stroke="#6d0c25" stroke-width="0.9"/>
<text x="256.8" y="470" font-size="7.6" stroke="#000" stroke-width="0.15">Significantly</text>
<text x="256.8" y="479.6" font-size="7.6" stroke="#000" stroke-width="0.15">Over-Expressed</text>
<circle cx="263.6" cy="490.5" r="3.5" fill="#0b3268"/>
<circle cx="263.6" cy="501.2" r="3.5" fill="#6d0c25"/>
<text x="277" y="493.5" font-size="8.4" stroke="#000" stroke-width="0.15">MRD-</text>
<text x="277" y="504.1" font-size="8.4" stroke="#000" stroke-width="0.15">MRD+</text>
<text x="256.8" y="519" font-size="7.6" font-style="italic" stroke="#000" stroke-width="0.15">*patients at dx,</text>
<text x="256.8" y="527.8" font-size="7.6" font-style="italic" stroke="#000" stroke-width="0.15">future status</text>
<line x1="414" y1="374.6" x2="414" y2="403.3" stroke="#333" stroke-width="0.8" />
<line x1="411.3" y1="374.6" x2="416.7" y2="374.6" stroke="#333" stroke-width="0.8" />
<rect x="391.6" y="403.3" width="44.8" height="142.9" fill="#5284bd" stroke="#2a2a2a" stroke-width="0.8" />
<line x1="477.8" y1="397.4" x2="477.8" y2="421.2" stroke="#333" stroke-width="0.8" />
<line x1="475.1" y1="397.4" x2="480.5" y2="397.4" stroke="#333" stroke-width="0.8" />
<rect x="455.4" y="421.2" width="44.8" height="125" fill="#b0485f" stroke="#2a2a2a" stroke-width="0.8" />
<line x1="376" y1="322.5" x2="376" y2="557.4" stroke="#333" stroke-width="0.9" />
<line x1="375.55" y1="557" x2="516.1" y2="557" stroke="#333" stroke-width="0.9" />
<line x1="373.5" y1="546.2" x2="376" y2="546.2" stroke="#333" stroke-width="0.8" />
<text x="372.8" y="548.9" font-size="7.6" text-anchor="end" fill="#222" stroke="#222" stroke-width="0.15">0.0</text>
<line x1="373.5" y1="502.88" x2="376" y2="502.88" stroke="#333" stroke-width="0.8" />
<text x="372.8" y="505.58" font-size="7.6" text-anchor="end" fill="#222" stroke="#222" stroke-width="0.15">0.5</text>
<line x1="373.5" y1="459.56" x2="376" y2="459.56" stroke="#333" stroke-width="0.8" />
<text x="372.8" y="462.26" font-size="7.6" text-anchor="end" fill="#222" stroke="#222" stroke-width="0.15">1.0</text>
<line x1="373.5" y1="416.24" x2="376" y2="416.24" stroke="#333" stroke-width="0.8" />
<text x="372.8" y="418.94" font-size="7.6" text-anchor="end" fill="#222" stroke="#222" stroke-width="0.15">1.5</text>
<line x1="373.5" y1="372.92" x2="376" y2="372.92" stroke="#333" stroke-width="0.8" />
<text x="372.8" y="375.62" font-size="7.6" text-anchor="end" fill="#222" stroke="#222" stroke-width="0.15">2.0</text>
<line x1="373.5" y1="329.6" x2="376" y2="329.6" stroke="#333" stroke-width="0.8" />
<text x="372.8" y="332.3" font-size="7.6" text-anchor="end" fill="#222" stroke="#222" stroke-width="0.15">2.5</text>
<line x1="414" y1="557" x2="414" y2="559.5" stroke="#333" stroke-width="0.8" />
<text x="414" y="566" font-size="7.6" text-anchor="middle" fill="#111" stroke="#111" stroke-width="0.15">Negative</text>
<line x1="477.8" y1="557" x2="477.8" y2="559.5" stroke="#333" stroke-width="0.8" />
<text x="477.8" y="566" font-size="7.6" text-anchor="middle" fill="#111" stroke="#111" stroke-width="0.15">Positive</text>
<text x="448.2" y="315.9" font-size="9.95" text-anchor="middle" fill="#111" stroke="#111" stroke-width="0.15">M1−Macrophage Enrichment</text>
<line x1="414" y1="331.5" x2="477.8" y2="331.5" stroke="#555" stroke-width="0.8" />
<text x="445.9" y="329.4" font-size="8.1" text-anchor="middle" fill="#111" stroke="#111" stroke-width="0.15">p&lt;0.0001</text>
<line x1="574.3" y1="424.7" x2="574.3" y2="477" stroke="#333" stroke-width="0.8" />
<line x1="571.6" y1="424.7" x2="577" y2="424.7" stroke="#333" stroke-width="0.8" />
<rect x="551.8" y="477" width="45" height="69.2" fill="#5284bd" stroke="#2a2a2a" stroke-width="0.8" />
<line x1="638.1" y1="397.3" x2="638.1" y2="461" stroke="#333" stroke-width="0.8" />
<line x1="635.4" y1="397.3" x2="640.8" y2="397.3" stroke="#333" stroke-width="0.8" />
<rect x="615.5" y="461" width="45.1" height="85.2" fill="#b0485f" stroke="#2a2a2a" stroke-width="0.8" />
<line x1="536.3" y1="322.5" x2="536.3" y2="557.4" stroke="#333" stroke-width="0.9" />
<line x1="535.85" y1="557" x2="676.8" y2="557" stroke="#333" stroke-width="0.9" />
<line x1="533.8" y1="546.2" x2="536.3" y2="546.2" stroke="#333" stroke-width="0.8" />
<text x="533.1" y="548.9" font-size="7.6" text-anchor="end" fill="#222" stroke="#222" stroke-width="0.15">0.0</text>
<line x1="533.8" y1="489.2" x2="536.3" y2="489.2" stroke="#333" stroke-width="0.8" />
<text x="533.1" y="491.9" font-size="7.6" text-anchor="end" fill="#222" stroke="#222" stroke-width="0.15">0.1</text>
<line x1="533.8" y1="432.2" x2="536.3" y2="432.2" stroke="#333" stroke-width="0.8" />
<text x="533.1" y="434.9" font-size="7.6" text-anchor="end" fill="#222" stroke="#222" stroke-width="0.15">0.2</text>
<line x1="533.8" y1="375.2" x2="536.3" y2="375.2" stroke="#333" stroke-width="0.8" />
<text x="533.1" y="377.9" font-size="7.6" text-anchor="end" fill="#222" stroke="#222" stroke-width="0.15">0.3</text>
<line x1="574.3" y1="557" x2="574.3" y2="559.5" stroke="#333" stroke-width="0.8" />
<text x="574.3" y="566" font-size="7.6" text-anchor="middle" fill="#111" stroke="#111" stroke-width="0.15">Negative</text>
<line x1="638.1" y1="557" x2="638.1" y2="559.5" stroke="#333" stroke-width="0.8" />
<text x="638.1" y="566" font-size="7.6" text-anchor="middle" fill="#111" stroke="#111" stroke-width="0.15">Positive</text>
<text x="606.2" y="315.9" font-size="9.95" text-anchor="middle" fill="#111" stroke="#111" stroke-width="0.15">M2−Macrophage Enrichment</text>
<line x1="574.3" y1="331.5" x2="638.1" y2="331.5" stroke="#555" stroke-width="0.8" />
<text x="606.2" y="329.4" font-size="8.1" text-anchor="middle" fill="#111" stroke="#111" stroke-width="0.15">p&lt;0.0001</text>
<text x="359.9" y="439.2" font-size="10.9" text-anchor="middle" fill="#111" transform="rotate(-90 359.9 439.2)" stroke="#111" stroke-width="0.15">Module Score</text>
<text x="414.5" y="587.3" font-size="8.4" fill="#111" stroke="#111" stroke-width="0.15">MRD Status</text>
<rect x="471.3" y="578.6" width="12.2" height="11.9" fill="#5284bd" stroke="#2a2a2a" stroke-width="0.8" />
<text x="487.7" y="586.9" font-size="6.9" fill="#111" stroke="#111" stroke-width="0.15">Negative</text>
<rect x="520.4" y="578.6" width="12.2" height="11.9" fill="#b0485f" stroke="#2a2a2a" stroke-width="0.8" />
<text x="535.8" y="586.9" font-size="6.9" fill="#111" stroke="#111" stroke-width="0.15">Positive</text>
<text x="571.4" y="581.2" font-size="7.6" font-style="italic" stroke="#000" stroke-width="0.15">*patients at dx,</text>
<text x="571.4" y="591" font-size="7.6" font-style="italic" stroke="#000" stroke-width="0.15">future status</text>
<rect x="189.3" y="661.7" width="225.2" height="283.3" fill="#fff" />
<line x1="193.5" y1="661.7" x2="193.5" y2="945" stroke="#f3f3f3" stroke-width="0.6" />
<line x1="253.5" y1="661.7" x2="253.5" y2="945" stroke="#f3f3f3" stroke-width="0.6" />
<line x1="313.5" y1="661.7" x2="313.5" y2="945" stroke="#f3f3f3" stroke-width="0.6" />
<line x1="373.5" y1="661.7" x2="373.5" y2="945" stroke="#f3f3f3" stroke-width="0.6" />
<line x1="223.5" y1="661.7" x2="223.5" y2="945" stroke="#ebebeb" stroke-width="1" />
<line x1="283.5" y1="661.7" x2="283.5" y2="945" stroke="#ebebeb" stroke-width="1" />
<line x1="343.5" y1="661.7" x2="343.5" y2="945" stroke="#ebebeb" stroke-width="1" />
<line x1="403.5" y1="661.7" x2="403.5" y2="945" stroke="#ebebeb" stroke-width="1" />
<line x1="189.3" y1="670.35" x2="414.5" y2="670.35" stroke="#ebebeb" stroke-width="0.8" />
<line x1="189.3" y1="684.39" x2="414.5" y2="684.39" stroke="#ebebeb" stroke-width="0.8" />
<line x1="189.3" y1="698.43" x2="414.5" y2="698.43" stroke="#ebebeb" stroke-width="0.8" />
<line x1="189.3" y1="712.47" x2="414.5" y2="712.47" stroke="#ebebeb" stroke-width="0.8" />
<line x1="189.3" y1="726.51" x2="414.5" y2="726.51" stroke="#ebebeb" stroke-width="0.8" />
<line x1="189.3" y1="740.55" x2="414.5" y2="740.55" stroke="#ebebeb" stroke-width="0.8" />
<line x1="189.3" y1="754.59" x2="414.5" y2="754.59" stroke="#ebebeb" stroke-width="0.8" />
<line x1="189.3" y1="768.63" x2="414.5" y2="768.63" stroke="#ebebeb" stroke-width="0.8" />
<line x1="189.3" y1="782.67" x2="414.5" y2="782.67" stroke="#ebebeb" stroke-width="0.8" />
<line x1="189.3" y1="796.71" x2="414.5" y2="796.71" stroke="#ebebeb" stroke-width="0.8" />
<line x1="189.3" y1="810.75" x2="414.5" y2="810.75" stroke="#ebebeb" stroke-width="0.8" />
<line x1="189.3" y1="824.79" x2="414.5" y2="824.79" stroke="#ebebeb" stroke-width="0.8" />
<line x1="189.3" y1="838.83" x2="414.5" y2="838.83" stroke="#ebebeb" stroke-width="0.8" />
<line x1="189.3" y1="852.87" x2="414.5" y2="852.87" stroke="#ebebeb" stroke-width="0.8" />
<line x1="189.3" y1="866.91" x2="414.5" y2="866.91" stroke="#ebebeb" stroke-width="0.8" />
<line x1="189.3" y1="880.95" x2="414.5" y2="880.95" stroke="#ebebeb" stroke-width="0.8" />
<line x1="189.3" y1="894.99" x2="414.5" y2="894.99" stroke="#ebebeb" stroke-width="0.8" />
<line x1="189.3" y1="909.03" x2="414.5" y2="909.03" stroke="#ebebeb" stroke-width="0.8" />
<line x1="189.3" y1="923.07" x2="414.5" y2="923.07" stroke="#ebebeb" stroke-width="0.8" />
<line x1="189.3" y1="937.11" x2="414.5" y2="937.11" stroke="#ebebeb" stroke-width="0.8" />
<rect x="199.9" y="664.4" width="83.7" height="11.9" fill="#c99a5f" />
<line x1="187.3" y1="670.35" x2="189.3" y2="670.35" stroke="#555" stroke-width="0.6" />
<text x="186.9" y="672.6" font-size="6.2" text-anchor="end" fill="#2a2a2a" textLength="164.62" lengthAdjust="spacingAndGlyphs" stroke="#2a2a2a" stroke-width="0.08">DEACTIVATION OF THE BETA CATENIN TRANSACTIVATING COMPLEX</text>
<rect x="203.6" y="678.44" width="80" height="11.9" fill="#c99a5f" />
<line x1="187.3" y1="684.39" x2="189.3" y2="684.39" stroke="#555" stroke-width="0.6" />
<text x="186.9" y="686.64" font-size="6.2" text-anchor="end" fill="#2a2a2a" textLength="45.75" lengthAdjust="spacingAndGlyphs" stroke="#2a2a2a" stroke-width="0.08">CIRCADIAN CLOCK</text>
<rect x="205.8" y="692.48" width="77.8" height="11.9" fill="#c99a5f" />
<line x1="187.3" y1="698.43" x2="189.3" y2="698.43" stroke="#555" stroke-width="0.6" />
<text x="186.9" y="700.68" font-size="6.2" text-anchor="end" fill="#2a2a2a" textLength="169.41" lengthAdjust="spacingAndGlyphs" stroke="#2a2a2a" stroke-width="0.08">NUCLEAR EVENTS KINASE AND TRANSCRIPTION FACTOR ACTIVATION</text>
<rect x="206.5" y="706.52" width="77.1" height="11.9" fill="#c99a5f" />
<line x1="187.3" y1="712.47" x2="189.3" y2="712.47" stroke="#555" stroke-width="0.6" />
<text x="186.9" y="714.72" font-size="6.2" text-anchor="end" fill="#2a2a2a" textLength="110.89" lengthAdjust="spacingAndGlyphs" stroke="#2a2a2a" stroke-width="0.08">UPTAKE AND ACTIONS OF BACTERIAL TOXINS</text>
<rect x="206.9" y="720.56" width="76.7" height="11.9" fill="#c99a5f" />
<line x1="187.3" y1="726.51" x2="189.3" y2="726.51" stroke="#555" stroke-width="0.6" />
<text x="186.9" y="728.76" font-size="6.2" text-anchor="end" fill="#2a2a2a" textLength="84.43" lengthAdjust="spacingAndGlyphs" stroke="#2a2a2a" stroke-width="0.08">ENDOSOMAL VACUOLAR PATHWAY</text>
<rect x="210.9" y="734.6" width="72.7" height="11.9" fill="#c99a5f" />
<line x1="187.3" y1="740.55" x2="189.3" y2="740.55" stroke="#555" stroke-width="0.6" />
<text x="186.9" y="742.8" font-size="6.2" text-anchor="end" fill="#2a2a2a" textLength="128.8" lengthAdjust="spacingAndGlyphs" stroke="#2a2a2a" stroke-width="0.08">REGULATION OF PLK1 ACTIVITY AT G2 M TRANSITION</text>
<rect x="216" y="748.64" width="67.6" height="11.9" fill="#c99a5f" />
<line x1="187.3" y1="754.59" x2="189.3" y2="754.59" stroke="#555" stroke-width="0.6" />
<text x="186.9" y="756.84" font-size="6.2" text-anchor="end" fill="#2a2a2a" textLength="92.15" lengthAdjust="spacingAndGlyphs" stroke="#2a2a2a" stroke-width="0.08">SIGNALING BY NUCLEAR RECEPTORS</text>
<rect x="216" y="762.68" width="67.6" height="11.9" fill="#c99a5f" />
<line x1="187.3" y1="768.63" x2="189.3" y2="768.63" stroke="#555" stroke-width="0.6" />
<text x="186.9" y="770.88" font-size="6.2" text-anchor="end" fill="#2a2a2a" textLength="84.69" lengthAdjust="spacingAndGlyphs" stroke="#2a2a2a" stroke-width="0.08">NGF STIMULATED TRANSCRIPTION</text>
<rect x="216.4" y="776.72" width="67.2" height="11.9" fill="#c99a5f" />
<line x1="187.3" y1="782.67" x2="189.3" y2="782.67" stroke="#555" stroke-width="0.6" />
<text x="186.9" y="784.92" font-size="6.2" text-anchor="end" fill="#2a2a2a" textLength="84.5" lengthAdjust="spacingAndGlyphs" stroke="#2a2a2a" stroke-width="0.08">CHROMATIN MODIFYING ENZYMES</text>
<rect x="217.4" y="790.76" width="66.2" height="11.9" fill="#c99a5f" />
<line x1="187.3" y1="796.71" x2="189.3" y2="796.71" stroke="#555" stroke-width="0.6" />
<text x="186.9" y="798.96" font-size="6.2" text-anchor="end" fill="#2a2a2a" textLength="156.36" lengthAdjust="spacingAndGlyphs" stroke="#2a2a2a" stroke-width="0.08">NOTCH1 INTRACELLULAR DOMAIN REGULATES TRANSCRIPTION</text>
<rect x="283.4" y="804.8" width="80.4" height="11.9" fill="#bcabcc" />
<line x1="187.3" y1="810.75" x2="189.3" y2="810.75" stroke="#555" stroke-width="0.6" />
<text x="186.9" y="813" font-size="6.2" text-anchor="end" fill="#2a2a2a" textLength="30.69" lengthAdjust="spacingAndGlyphs" stroke="#2a2a2a" stroke-width="0.08">GLYCOLYSIS</text>
<rect x="283.4" y="818.84" width="83" height="11.9" fill="#bcabcc" />
<line x1="187.3" y1="824.79" x2="189.3" y2="824.79" stroke="#555" stroke-width="0.6" />
<text x="186.9" y="827.04" font-size="6.2" text-anchor="end" fill="#2a2a2a" textLength="128.91" lengthAdjust="spacingAndGlyphs" stroke="#2a2a2a" stroke-width="0.08">RESPONSE TO ELEVATED PLATELET CYTOSOLIC CA2</text>
<rect x="283.4" y="832.88" width="86.2" height="11.9" fill="#bcabcc" />
<line x1="187.3" y1="838.83" x2="189.3" y2="838.83" stroke="#555" stroke-width="0.6" />
<text x="186.9" y="841.08" font-size="6.2" text-anchor="end" fill="#2a2a2a" textLength="86.08" lengthAdjust="spacingAndGlyphs" stroke="#2a2a2a" stroke-width="0.08">METABOLISM OF CARBOHYDRATES</text>
<rect x="283.4" y="846.92" width="87" height="11.9" fill="#bcabcc" />
<line x1="187.3" y1="852.87" x2="189.3" y2="852.87" stroke="#555" stroke-width="0.6" />
<text x="186.9" y="855.12" font-size="6.2" text-anchor="end" fill="#2a2a2a" textLength="123.64" lengthAdjust="spacingAndGlyphs" stroke="#2a2a2a" stroke-width="0.08">FORMATION OF ATP BY CHEMIOSMOTIC COUPLING</text>
<rect x="283.4" y="860.96" width="87.7" height="11.9" fill="#bcabcc" />
<line x1="187.3" y1="866.91" x2="189.3" y2="866.91" stroke="#555" stroke-width="0.6" />
<text x="186.9" y="869.16" font-size="6.2" text-anchor="end" fill="#2a2a2a" textLength="57.79" lengthAdjust="spacingAndGlyphs" stroke="#2a2a2a" stroke-width="0.08">GLUCOSE METABOLISM</text>
<rect x="283.4" y="875" width="88.1" height="11.9" fill="#bcabcc" />
<line x1="187.3" y1="880.95" x2="189.3" y2="880.95" stroke="#555" stroke-width="0.6" />
<text x="186.9" y="883.2" font-size="6.2" text-anchor="end" fill="#2a2a2a" textLength="79.83" lengthAdjust="spacingAndGlyphs" stroke="#2a2a2a" stroke-width="0.08">PENTOSE PHOSPHATE PATHWAY</text>
<rect x="283.4" y="889.04" width="89.9" height="11.9" fill="#bcabcc" />
<line x1="187.3" y1="894.99" x2="189.3" y2="894.99" stroke="#555" stroke-width="0.6" />
<text x="186.9" y="897.24" font-size="6.2" text-anchor="end" fill="#2a2a2a" textLength="51.9" lengthAdjust="spacingAndGlyphs" stroke="#2a2a2a" stroke-width="0.08">CRISTAE FORMATION</text>
<rect x="283.4" y="903.08" width="97.2" height="11.9" fill="#bcabcc" />
<line x1="187.3" y1="909.03" x2="189.3" y2="909.03" stroke="#555" stroke-width="0.6" />
<text x="186.9" y="911.28" font-size="6.2" text-anchor="end" fill="#2a2a2a" textLength="155.07" lengthAdjust="spacingAndGlyphs" stroke="#2a2a2a" stroke-width="0.08">INTERCONVERSION OF NUCLEOTIDE_DI_AND_TRIPHOSPHATES</text>
<rect x="283.4" y="917.12" width="116.2" height="11.9" fill="#bcabcc" />
<line x1="187.3" y1="923.07" x2="189.3" y2="923.07" stroke="#555" stroke-width="0.6" />
<text x="186.9" y="925.32" font-size="6.2" text-anchor="end" fill="#2a2a2a" textLength="50.44" lengthAdjust="spacingAndGlyphs" stroke="#2a2a2a" stroke-width="0.08">GLUCONEOGENESIS</text>
<rect x="283.4" y="931.16" width="120.9" height="11.9" fill="#bcabcc" />
<line x1="187.3" y1="937.11" x2="189.3" y2="937.11" stroke="#555" stroke-width="0.6" />
<text x="186.9" y="939.36" font-size="6.2" text-anchor="end" fill="#2a2a2a" textLength="99.58" lengthAdjust="spacingAndGlyphs" stroke="#2a2a2a" stroke-width="0.08">ALTERNATIVE COMPLEMENT ACTIVATION</text>
<rect x="189.3" y="661.7" width="225.2" height="283.3" fill="none" stroke="#8a8a8a" stroke-width="0.9" />
<line x1="223.5" y1="945" x2="223.5" y2="947" stroke="#555" stroke-width="0.6" />
<text x="228.4" y="954.2" font-size="6.4" text-anchor="middle" fill="#444" textLength="8.68" lengthAdjust="spacingAndGlyphs" stroke="#444" stroke-width="0.15">−50</text>
<line x1="283.5" y1="945" x2="283.5" y2="947" stroke="#555" stroke-width="0.6" />
<text x="290.2" y="954.2" font-size="6.4" text-anchor="middle" fill="#444" textLength="2.85" lengthAdjust="spacingAndGlyphs" stroke="#444" stroke-width="0.15">0</text>
<line x1="343.5" y1="945" x2="343.5" y2="947" stroke="#555" stroke-width="0.6" />
<text x="351.6" y="954.2" font-size="6.4" text-anchor="middle" fill="#444" textLength="5.69" lengthAdjust="spacingAndGlyphs" stroke="#444" stroke-width="0.15">50</text>
<line x1="403.5" y1="945" x2="403.5" y2="947" stroke="#555" stroke-width="0.6" />
<text x="412.8" y="954.2" font-size="6.4" text-anchor="middle" fill="#444" textLength="8.54" lengthAdjust="spacingAndGlyphs" stroke="#444" stroke-width="0.15">100</text>
<text x="307.75" y="965.2" font-size="11" text-anchor="middle" fill="#111" textLength="36.1" lengthAdjust="spacingAndGlyphs" stroke="#111" stroke-width="0.15">T Statistic</text>
<text x="13.3" y="804" font-size="12" text-anchor="middle" fill="#111" transform="rotate(-90 13.3 804)" textLength="97.5" lengthAdjust="spacingAndGlyphs" stroke="#111" stroke-width="0.15">GS Enriched in Blasts</text>
<text x="58.6" y="963.4" font-size="8.2" text-anchor="end" fill="#111" font-style="italic" stroke="#111" stroke-width="0.15">Gene Set</text>
<text x="58.6" y="973.4" font-size="8.2" text-anchor="end" fill="#111" font-style="italic" stroke="#111" stroke-width="0.15">Enrichment</text>
<rect x="62.5" y="952.4" width="119.6" height="26.2" fill="#fff" stroke="#666" stroke-width="0.8" rx="3" />
<rect x="72.5" y="955" width="11.1" height="9.7" fill="#bcabcc" />
<rect x="72.5" y="966" width="11.1" height="9.7" fill="#c99a5f" />
<text x="87.5" y="961.8" font-size="6.4" fill="#111" textLength="51.5" lengthAdjust="spacingAndGlyphs" stroke="#111" stroke-width="0.15">MRD Neg Enriched</text>
<text x="87.5" y="972.4" font-size="6.4" fill="#111" textLength="50" lengthAdjust="spacingAndGlyphs" stroke="#111" stroke-width="0.15">MRD Pos Enriched</text>
<text x="144.8" y="966.8" font-size="6.6" fill="#111" font-style="italic" textLength="31.5" lengthAdjust="spacingAndGlyphs" stroke="#111" stroke-width="0.15">adj. p&lt;0.01</text>
<text x="185.3" y="964.4" font-size="7.6" fill="#111" font-style="italic" stroke="#111" stroke-width="0.15">*patients at dx,</text>
<text x="185.3" y="974.2" font-size="7.6" fill="#111" font-style="italic" stroke="#111" stroke-width="0.15">future status</text>
<rect x="463.7" y="635.8" width="109.1" height="108.2" fill="#fff" />
<path d="M494 640.8 L494.5 652 L494.9 656 L495.2 658.5 L495.7 660.1 L498.9 663.3 L502.9 668.1 L506.1 672.9 L508.9 677.8 L510.9 682.6 L512.2 687.4 L512.9 692.2 L512.9 695.4 L511.7 700.2 L509.3 705.1 L506.4 709.9 L503.2 714.7 L501.3 717.9 L500.8 719.5 L499.7 721.1 L499.2 722.5 L498.4 724.3 L495.7 726.7 L494.6 728.3 L494.4 730.5 L495.2 732.4 L496 734.3 L495.1 736.2 L494 738.8 L493.2 738.8 L492.1 736.2 L491.2 734.3 L492 732.4 L492.8 730.5 L492.6 728.3 L491.5 726.7 L488.8 724.3 L488 722.5 L487.5 721.1 L486.4 719.5 L485.9 717.9 L484 714.7 L480.8 709.9 L477.9 705.1 L475.5 700.2 L474.3 695.4 L474.3 692.2 L475 687.4 L476.3 682.6 L478.3 677.8 L481.1 672.9 L484.3 668.1 L488.3 663.3 L491.5 660.1 L492 658.5 L492.3 656 L492.7 652 L493.2 640.8Z" fill="#bca8cb" stroke="#1a1a1a" stroke-width="0.7" stroke-linejoin="round"/>
<line x1="493.6" y1="640.8" x2="493.6" y2="738.8" stroke="#111" stroke-width="0.8" />
<line x1="493.6" y1="644.5" x2="493.6" y2="650.5" stroke="#111" stroke-width="2.6" stroke-linecap="round" />
<rect x="488.5" y="683.4" width="10.2" height="22" fill="#bca8cb" stroke="#111" stroke-width="0.75" />
<line x1="488.5" y1="694.6" x2="498.7" y2="694.6" stroke="#111" stroke-width="1.3" />
<path d="M543.5 660.1 L543.8 670 L544.6 675.3 L546.6 679.4 L552.2 684.2 L557.9 689 L562.7 693.8 L565.9 698.6 L567.5 703.4 L568 706.7 L567 711.5 L564.3 715.5 L560.3 718.7 L555.5 721.1 L553.6 722.3 L552.2 723.5 L547.4 725.9 L544.6 728.3 L543.9 730.5 L544.9 732.4 L545.9 734.3 L544.9 736.2 L543.5 738.8 L542.7 738.8 L541.3 736.2 L540.3 734.3 L541.3 732.4 L542.3 730.5 L541.6 728.3 L538.8 725.9 L534 723.5 L532.6 722.3 L530.7 721.1 L525.9 718.7 L521.9 715.5 L519.2 711.5 L518.2 706.7 L518.7 703.4 L520.3 698.6 L523.5 693.8 L528.3 689 L534 684.2 L539.6 679.4 L541.6 675.3 L542.4 670 L542.7 660.1Z" fill="#c8975d" stroke="#1a1a1a" stroke-width="0.7" stroke-linejoin="round"/>
<line x1="543.1" y1="660.1" x2="543.1" y2="738.8" stroke="#111" stroke-width="0.8" />
<line x1="543.1" y1="663.3" x2="543.1" y2="674.5" stroke="#111" stroke-width="2.6" stroke-linecap="round" />
<rect x="538" y="697" width="10.2" height="16.6" fill="#c8975d" stroke="#111" stroke-width="0.75" />
<line x1="538" y1="705.9" x2="548.2" y2="705.9" stroke="#111" stroke-width="1.3" />
<rect x="463.7" y="635.8" width="109.1" height="108.2" fill="none" stroke="#4a4a4a" stroke-width="0.9" />
<rect x="463.7" y="623.9" width="109.1" height="11.9" fill="#f0f0f0" stroke="#4a4a4a" stroke-width="0.9" />
<text x="519.2" y="632.25" font-size="6.6" text-anchor="middle" fill="#1a1a1a" textLength="48.2" lengthAdjust="spacingAndGlyphs" stroke="#1a1a1a" stroke-width="0.15">Glucogenogenesis</text>
<line x1="493.6" y1="644.3" x2="543.1" y2="644.3" stroke="#777" stroke-width="0.7" />
<text x="518.35" y="643.8" font-size="6.7" text-anchor="middle" fill="#1a1a1a" textLength="22.1" lengthAdjust="spacingAndGlyphs" stroke="#1a1a1a" stroke-width="0.15">p&lt;0.0001</text>
<rect x="575.9" y="635.8" width="108.7" height="108.2" fill="#fff" />
<path d="M606.1 676.9 L606.8 688.4 L612 691.5 L617.4 694.5 L621.7 697.6 L624.3 700.7 L625.8 703.7 L626.1 705.3 L624.3 708.3 L619.7 711.4 L615.1 714.5 L610.5 717.5 L607.4 720.6 L606.8 722.9 L606 735.1 L605.2 735.1 L604.4 722.9 L603.8 720.6 L600.7 717.5 L596.1 714.5 L591.5 711.4 L586.9 708.3 L585.1 705.3 L585.4 703.7 L586.9 700.7 L589.5 697.6 L593.8 694.5 L599.2 691.5 L604.4 688.4 L605.1 676.9Z" fill="#bca8cb" stroke="#1a1a1a" stroke-width="0.7" stroke-linejoin="round"/>
<line x1="605.6" y1="676.9" x2="605.6" y2="735.1" stroke="#111" stroke-width="0.8" />
<line x1="605.6" y1="677.3" x2="605.6" y2="688.4" stroke="#111" stroke-width="2.6" stroke-linecap="round" />
<path fill="#111" d="M604.3 735.1a1.3 1.3 0 1 0 2.6 0a1.3 1.3 0 1 0 -2.6 0"/>
<rect x="600.5" y="699.9" width="10.2" height="9.6" fill="#bca8cb" stroke="#111" stroke-width="0.75" />
<line x1="600.5" y1="704.8" x2="610.7" y2="704.8" stroke="#111" stroke-width="1.3" />
<path d="M655.7 676.1 L656.4 694.5 L662.1 697.6 L669.8 700.7 L675.1 703.7 L679 706.8 L680 709.1 L678.2 711.4 L672.1 714.5 L665.9 717.5 L660.6 720.6 L656.7 723.6 L655.6 735.1 L654.8 735.1 L653.7 723.6 L649.8 720.6 L644.5 717.5 L638.3 714.5 L632.2 711.4 L630.4 709.1 L631.4 706.8 L635.3 703.7 L640.6 700.7 L648.3 697.6 L654 694.5 L654.7 676.1Z" fill="#c8975d" stroke="#1a1a1a" stroke-width="0.7" stroke-linejoin="round"/>
<line x1="655.2" y1="676.1" x2="655.2" y2="735.1" stroke="#111" stroke-width="0.8" />
<line x1="655.2" y1="682.5" x2="655.2" y2="694.5" stroke="#111" stroke-width="2.6" stroke-linecap="round" />
<path fill="#111" d="M653.9 676.1a1.3 1.3 0 1 0 2.6 0a1.3 1.3 0 1 0 -2.6 0M653.9 735.1a1.3 1.3 0 1 0 2.6 0a1.3 1.3 0 1 0 -2.6 0"/>
<rect x="650.1" y="704.9" width="10.2" height="8.3" fill="#c8975d" stroke="#111" stroke-width="0.75" />
<line x1="650.1" y1="709.1" x2="660.3" y2="709.1" stroke="#111" stroke-width="1.3" />
<rect x="575.9" y="635.8" width="108.7" height="108.2" fill="none" stroke="#4a4a4a" stroke-width="0.9" />
<rect x="575.9" y="623.9" width="108.7" height="11.9" fill="#f0f0f0" stroke="#4a4a4a" stroke-width="0.9" />
<text x="632.6" y="632.25" font-size="6.6" text-anchor="middle" fill="#1a1a1a" textLength="52.4" lengthAdjust="spacingAndGlyphs" stroke="#1a1a1a" stroke-width="0.15">Glucose Metabolism</text>
<line x1="605.6" y1="644.3" x2="655.2" y2="644.3" stroke="#777" stroke-width="0.7" />
<text x="630.4" y="643.8" font-size="6.7" text-anchor="middle" fill="#1a1a1a" textLength="22.1" lengthAdjust="spacingAndGlyphs" stroke="#1a1a1a" stroke-width="0.15">p&lt;0.0001</text>
<line x1="461.5" y1="735.1" x2="463.7" y2="735.1" stroke="#333" stroke-width="0.7" />
<text x="460.8" y="737.6" font-size="7" text-anchor="end" fill="#222" textLength="9" lengthAdjust="spacingAndGlyphs" stroke="#222" stroke-width="0.15">0.0</text>
<line x1="461.5" y1="705" x2="463.7" y2="705" stroke="#333" stroke-width="0.7" />
<text x="460.8" y="707.5" font-size="7" text-anchor="end" fill="#222" textLength="9" lengthAdjust="spacingAndGlyphs" stroke="#222" stroke-width="0.15">0.1</text>
<line x1="461.5" y1="674.9" x2="463.7" y2="674.9" stroke="#333" stroke-width="0.7" />
<text x="460.8" y="677.4" font-size="7" text-anchor="end" fill="#222" textLength="9" lengthAdjust="spacingAndGlyphs" stroke="#222" stroke-width="0.15">0.2</text>
<line x1="461.5" y1="644.8" x2="463.7" y2="644.8" stroke="#333" stroke-width="0.7" />
<text x="460.8" y="647.3" font-size="7" text-anchor="end" fill="#222" textLength="9" lengthAdjust="spacingAndGlyphs" stroke="#222" stroke-width="0.15">0.3</text>
<rect x="463.7" y="760.5" width="109.1" height="108.1" fill="#fff" />
<path d="M494.1 774.4 L494.8 793 L496.5 796.2 L499.7 799.5 L503.7 802.7 L507.7 805.9 L511.7 809.1 L515.4 812.3 L517.7 815.5 L517.4 817.9 L514.2 820.3 L508.5 823.5 L503.7 826.8 L502.1 828.5 L499.7 830 L497.2 832.4 L497.2 833.5 L497.4 835 L496.2 836.4 L495 838.8 L494.4 852 L494 859.8 L493.2 859.8 L492.8 852 L492.2 838.8 L491 836.4 L489.8 835 L490 833.5 L490 832.4 L487.5 830 L485.1 828.5 L483.5 826.8 L478.7 823.5 L473 820.3 L469.8 817.9 L469.5 815.5 L471.8 812.3 L475.5 809.1 L479.5 805.9 L483.5 802.7 L487.5 799.5 L490.7 796.2 L492.4 793 L493.1 774.4Z" fill="#bca8cb" stroke="#1a1a1a" stroke-width="0.7" stroke-linejoin="round"/>
<line x1="493.6" y1="774.4" x2="493.6" y2="859.8" stroke="#111" stroke-width="0.8" />
<line x1="493.6" y1="774.8" x2="493.6" y2="793" stroke="#111" stroke-width="2.6" stroke-linecap="round" />
<line x1="493.6" y1="838.5" x2="493.6" y2="851.5" stroke="#111" stroke-width="2.6" stroke-linecap="round" />
<path fill="#111" d="M492.3 853.5a1.3 1.3 0 1 0 2.6 0a1.3 1.3 0 1 0 -2.6 0M492.3 856.5a1.3 1.3 0 1 0 2.6 0a1.3 1.3 0 1 0 -2.6 0M492.3 859.5a1.3 1.3 0 1 0 2.6 0a1.3 1.3 0 1 0 -2.6 0"/>
<rect x="488.5" y="810.4" width="10.2" height="11.9" fill="#bca8cb" stroke="#111" stroke-width="0.75" />
<line x1="488.5" y1="816.3" x2="498.7" y2="816.3" stroke="#111" stroke-width="1.3" />
<path d="M543.6 772.2 L544.3 789 L545.1 791.4 L547.9 794.6 L553.5 797.8 L559.2 801.1 L563.2 804.3 L566.4 807.5 L567.5 810.7 L566.4 813.9 L561.6 817.1 L555.1 820.3 L549.5 823.5 L545.5 826.8 L544.3 830 L543.9 843 L543.5 859.8 L542.7 859.8 L542.3 843 L541.9 830 L540.7 826.8 L536.7 823.5 L531.1 820.3 L524.6 817.1 L519.8 813.9 L518.7 810.7 L519.8 807.5 L523 804.3 L527 801.1 L532.7 797.8 L538.3 794.6 L541.1 791.4 L541.9 789 L542.6 772.2Z" fill="#c8975d" stroke="#1a1a1a" stroke-width="0.7" stroke-linejoin="round"/>
<line x1="543.1" y1="772.2" x2="543.1" y2="859.8" stroke="#111" stroke-width="0.8" />
<line x1="543.1" y1="772.5" x2="543.1" y2="789.5" stroke="#111" stroke-width="2.6" stroke-linecap="round" />
<line x1="543.1" y1="830" x2="543.1" y2="843" stroke="#111" stroke-width="2.6" stroke-linecap="round" />
<path fill="#111" d="M541.8 846a1.3 1.3 0 1 0 2.6 0a1.3 1.3 0 1 0 -2.6 0M541.8 848.5a1.3 1.3 0 1 0 2.6 0a1.3 1.3 0 1 0 -2.6 0M541.8 852a1.3 1.3 0 1 0 2.6 0a1.3 1.3 0 1 0 -2.6 0M541.8 855a1.3 1.3 0 1 0 2.6 0a1.3 1.3 0 1 0 -2.6 0M541.8 859.5a1.3 1.3 0 1 0 2.6 0a1.3 1.3 0 1 0 -2.6 0"/>
<rect x="538" y="805.4" width="10.2" height="10.9" fill="#c8975d" stroke="#111" stroke-width="0.75" />
<line x1="538" y1="810.4" x2="548.2" y2="810.4" stroke="#111" stroke-width="1.3" />
<rect x="463.7" y="760.5" width="109.1" height="108.1" fill="none" stroke="#4a4a4a" stroke-width="0.9" />
<rect x="463.7" y="748.4" width="109.1" height="12.1" fill="#f0f0f0" stroke="#4a4a4a" stroke-width="0.9" />
<text x="519.2" y="756.85" font-size="6.6" text-anchor="middle" fill="#1a1a1a" textLength="104.2" lengthAdjust="spacingAndGlyphs" stroke="#1a1a1a" stroke-width="0.15">Deact. Beta Catenin Trans-Act Complex</text>
<line x1="493.6" y1="769.3" x2="543.1" y2="769.3" stroke="#777" stroke-width="0.7" />
<text x="518.35" y="768.8" font-size="6.7" text-anchor="middle" fill="#1a1a1a" textLength="22.1" lengthAdjust="spacingAndGlyphs" stroke="#1a1a1a" stroke-width="0.15">p&lt;0.0001</text>
<rect x="575.9" y="760.5" width="108.7" height="108.1" fill="#fff" />
<path d="M606.1 777.7 L607.1 798.4 L611.3 802.3 L616.6 805.3 L621.2 808.4 L624.3 811.5 L625.8 814.5 L626.6 817.6 L625.1 820.7 L621.7 823.7 L617.4 826.8 L612.8 829.9 L609 832.9 L607.1 836 L606 849.9 L605.2 849.9 L604.1 836 L602.2 832.9 L598.4 829.9 L593.8 826.8 L589.5 823.7 L586.1 820.7 L584.6 817.6 L585.4 814.5 L586.9 811.5 L590 808.4 L594.6 805.3 L599.9 802.3 L604.1 798.4 L605.1 777.7Z" fill="#bca8cb" stroke="#1a1a1a" stroke-width="0.7" stroke-linejoin="round"/>
<line x1="605.6" y1="777.7" x2="605.6" y2="849.9" stroke="#111" stroke-width="0.8" />
<line x1="605.6" y1="778" x2="605.6" y2="798.4" stroke="#111" stroke-width="2.6" stroke-linecap="round" />
<line x1="605.6" y1="836" x2="605.6" y2="849.5" stroke="#111" stroke-width="2.6" stroke-linecap="round" />
<rect x="600.5" y="812.7" width="10.2" height="10.7" fill="#bca8cb" stroke="#111" stroke-width="0.75" />
<line x1="600.5" y1="817.9" x2="610.7" y2="817.9" stroke="#111" stroke-width="1.3" />
<path d="M655.7 769.3 L656.7 796.1 L660.6 799.2 L665.9 802.3 L671.3 805.3 L675.9 808.4 L679 811.5 L680.2 813.8 L679 816.1 L674.4 819.1 L668.2 822.2 L662.9 825.3 L659 828.3 L656.7 830.6 L655.6 849 L654.8 849 L653.7 830.6 L651.4 828.3 L647.5 825.3 L642.2 822.2 L636 819.1 L631.4 816.1 L630.2 813.8 L631.4 811.5 L634.5 808.4 L639.1 805.3 L644.5 802.3 L649.8 799.2 L653.7 796.1 L654.7 769.3Z" fill="#c8975d" stroke="#1a1a1a" stroke-width="0.7" stroke-linejoin="round"/>
<line x1="655.2" y1="769.3" x2="655.2" y2="849" stroke="#111" stroke-width="0.8" />
<line x1="655.2" y1="772" x2="655.2" y2="796.1" stroke="#111" stroke-width="2.6" stroke-linecap="round" />
<line x1="655.2" y1="830.6" x2="655.2" y2="848.5" stroke="#111" stroke-width="2.6" stroke-linecap="round" />
<path fill="#111" d="M653.9 769.5a1.3 1.3 0 1 0 2.6 0a1.3 1.3 0 1 0 -2.6 0"/>
<rect x="650.1" y="809.2" width="10.2" height="9.5" fill="#c8975d" stroke="#111" stroke-width="0.75" />
<line x1="650.1" y1="813.3" x2="660.3" y2="813.3" stroke="#111" stroke-width="1.3" />
<rect x="575.9" y="760.5" width="108.7" height="108.1" fill="none" stroke="#4a4a4a" stroke-width="0.9" />
<rect x="575.9" y="748.4" width="108.7" height="12.1" fill="#f0f0f0" stroke="#4a4a4a" stroke-width="0.9" />
<text x="632.6" y="756.85" font-size="6.6" text-anchor="middle" fill="#1a1a1a" textLength="85.1" lengthAdjust="spacingAndGlyphs" stroke="#1a1a1a" stroke-width="0.15">Reg. of PLK1 at G2/M Transition.</text>
<line x1="605.6" y1="769.3" x2="655.2" y2="769.3" stroke="#777" stroke-width="0.7" />
<text x="630.4" y="768.8" font-size="6.7" text-anchor="middle" fill="#1a1a1a" textLength="22.1" lengthAdjust="spacingAndGlyphs" stroke="#1a1a1a" stroke-width="0.15">p&lt;0.0001</text>
<line x1="461.5" y1="859.6" x2="463.7" y2="859.6" stroke="#333" stroke-width="0.7" />
<text x="460.8" y="862.1" font-size="7" text-anchor="end" fill="#222" textLength="9" lengthAdjust="spacingAndGlyphs" stroke="#222" stroke-width="0.15">0.0</text>
<line x1="461.5" y1="829.5" x2="463.7" y2="829.5" stroke="#333" stroke-width="0.7" />
<text x="460.8" y="832" font-size="7" text-anchor="end" fill="#222" textLength="9" lengthAdjust="spacingAndGlyphs" stroke="#222" stroke-width="0.15">0.1</text>
<line x1="461.5" y1="799.4" x2="463.7" y2="799.4" stroke="#333" stroke-width="0.7" />
<text x="460.8" y="801.9" font-size="7" text-anchor="end" fill="#222" textLength="9" lengthAdjust="spacingAndGlyphs" stroke="#222" stroke-width="0.15">0.2</text>
<line x1="461.5" y1="769.3" x2="463.7" y2="769.3" stroke="#333" stroke-width="0.7" />
<text x="460.8" y="771.8" font-size="7" text-anchor="end" fill="#222" textLength="9" lengthAdjust="spacingAndGlyphs" stroke="#222" stroke-width="0.15">0.3</text>
<line x1="493.6" y1="868.6" x2="493.6" y2="870.8" stroke="#333" stroke-width="0.7" />
<text x="493.6" y="877.6" font-size="7" text-anchor="middle" fill="#1a1a1a" textLength="23.6" lengthAdjust="spacingAndGlyphs" stroke="#1a1a1a" stroke-width="0.15">Negative</text>
<line x1="543.1" y1="868.6" x2="543.1" y2="870.8" stroke="#333" stroke-width="0.7" />
<text x="543.1" y="877.6" font-size="7" text-anchor="middle" fill="#1a1a1a" textLength="20.5" lengthAdjust="spacingAndGlyphs" stroke="#1a1a1a" stroke-width="0.15">Positive</text>
<line x1="605.6" y1="868.6" x2="605.6" y2="870.8" stroke="#333" stroke-width="0.7" />
<text x="605.6" y="877.6" font-size="7" text-anchor="middle" fill="#1a1a1a" textLength="23.6" lengthAdjust="spacingAndGlyphs" stroke="#1a1a1a" stroke-width="0.15">Negative</text>
<line x1="655.2" y1="868.6" x2="655.2" y2="870.8" stroke="#333" stroke-width="0.7" />
<text x="655.2" y="877.6" font-size="7" text-anchor="middle" fill="#1a1a1a" textLength="20.5" lengthAdjust="spacingAndGlyphs" stroke="#1a1a1a" stroke-width="0.15">Positive</text>
<text x="574" y="897" font-size="11.2" text-anchor="middle" fill="#111" textLength="73.9" lengthAdjust="spacingAndGlyphs" stroke="#111" stroke-width="0.15">Blast Cells At Dx</text>
<text x="445.1" y="749" font-size="11.2" text-anchor="middle" fill="#111" transform="rotate(-90 445.1 749)" textLength="85" lengthAdjust="spacingAndGlyphs" stroke="#111" stroke-width="0.15">Enrichment Score</text>
</svg>
</body></html>
